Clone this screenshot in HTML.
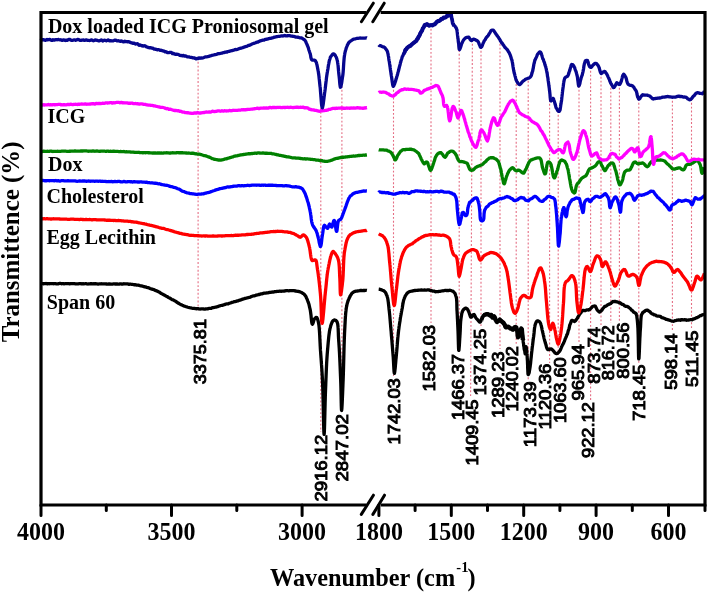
<!DOCTYPE html>
<html><head><meta charset="utf-8"><style>
html,body{margin:0;padding:0;background:#fff;}
svg{display:block;filter:blur(0.35px);}
.cv{fill:none;stroke-width:3.3;stroke-linejoin:round;stroke-linecap:butt;}
.dt{stroke:#dc3c5a;stroke-width:1.1;stroke-dasharray:1.9 1.95;opacity:0.75;}
.ax{fill:none;stroke:#000;stroke-width:3.2;stroke-linejoin:miter;}
.tk{fill:none;stroke:#000;stroke-width:3;stroke-linecap:round;}
.tl{font:bold 24px "Liberation Serif",serif;text-anchor:middle;fill:#000;}
.cl{font:bold 20px "Liberation Serif",serif;fill:#000;}
.pl{font:16.6px "Liberation Sans",sans-serif;fill:#000;stroke:#000;stroke-width:0.95;}
.at{font:bold 24px "Liberation Serif",serif;fill:#000;}
</style></head><body>
<svg width="708" height="593" viewBox="0 0 708 593">
<line x1="198.1" y1="58" x2="198.1" y2="312" class="dt"/>
<line x1="320.8" y1="108" x2="320.8" y2="432" class="dt"/>
<line x1="341.9" y1="86" x2="341.9" y2="412" class="dt"/>
<line x1="393.5" y1="86" x2="393.5" y2="376" class="dt"/>
<line x1="431.0" y1="25" x2="431.0" y2="323" class="dt"/>
<line x1="459.2" y1="50" x2="459.2" y2="352" class="dt"/>
<line x1="472.4" y1="40" x2="470.59999999999997" y2="398" class="dt"/>
<line x1="481.0" y1="47" x2="481.0" y2="327" class="dt"/>
<line x1="500.0" y1="40" x2="500.0" y2="349" class="dt"/>
<line x1="516.2" y1="84" x2="516.2" y2="344" class="dt"/>
<line x1="528.2" y1="77" x2="528.2" y2="380" class="dt"/>
<line x1="549.6" y1="100" x2="549.6" y2="363" class="dt"/>
<line x1="558.2" y1="111" x2="558.2" y2="355" class="dt"/>
<line x1="579.0" y1="86" x2="579.0" y2="342" class="dt"/>
<line x1="590.6" y1="67" x2="590.6" y2="400" class="dt"/>
<line x1="601.0" y1="73" x2="601.0" y2="325" class="dt"/>
<line x1="610.8" y1="84" x2="610.8" y2="323" class="dt"/>
<line x1="619.4" y1="84" x2="619.4" y2="321" class="dt"/>
<line x1="638.8" y1="99" x2="638.8" y2="363" class="dt"/>
<line x1="672.4" y1="97" x2="672.4" y2="331" class="dt"/>
<line x1="691.5" y1="99" x2="691.5" y2="329" class="dt"/>
<path d="M41.00,283.64 L41.41,283.60 L41.85,283.61 L42.31,283.53 L42.79,283.64 L43.30,283.77 L43.82,283.73 L44.37,283.55 L44.93,283.56 L45.52,283.57 L46.12,283.51 L46.75,283.71 L47.39,283.87 L48.05,283.59 L48.72,283.65 L49.42,283.74 L50.12,283.62 L50.85,283.55 L51.59,283.65 L52.34,283.67 L53.11,283.70 L53.89,283.74 L54.69,283.58 L55.49,283.67 L56.31,283.86 L57.14,283.90 L57.99,283.79 L58.84,283.56 L59.70,283.43 L60.57,283.47 L61.45,283.74 L62.34,283.71 L63.24,283.61 L64.15,283.78 L65.06,283.72 L65.98,283.67 L66.90,283.69 L67.83,283.56 L68.77,283.65 L69.71,283.83 L70.65,283.68 L71.60,283.57 L72.55,283.64 L73.50,283.57 L74.45,283.64 L75.41,283.83 L76.36,283.85 L77.32,283.79 L78.28,283.86 L79.23,283.72 L80.19,283.71 L81.14,283.74 L82.10,283.78 L83.04,283.68 L83.99,283.79 L84.93,283.72 L85.87,283.61 L86.80,283.82 L87.73,284.00 L88.66,283.88 L89.57,283.78 L90.48,283.73 L91.39,283.71 L92.28,283.83 L93.17,283.77 L94.05,283.67 L94.92,283.77 L95.78,283.75 L96.62,283.85 L97.46,284.00 L98.29,284.03 L99.11,283.94 L99.91,283.85 L100.70,283.86 L101.48,283.76 L102.24,283.89 L102.99,283.93 L103.73,283.86 L104.45,283.79 L105.15,283.86 L105.84,283.99 L106.51,283.96 L107.16,284.08 L107.80,284.13 L108.77,283.97 L109.72,283.98 L110.66,284.16 L111.59,284.12 L112.50,284.07 L113.40,283.92 L114.28,283.94 L115.15,284.01 L116.01,283.98 L116.86,283.97 L117.70,284.02 L118.53,284.03 L119.35,284.00 L120.15,283.89 L120.95,283.90 L121.74,284.12 L122.52,284.06 L123.30,283.83 L124.06,283.75 L124.82,283.92 L125.58,283.89 L126.32,283.82 L127.07,283.86 L127.80,283.99 L128.54,284.25 L129.26,284.25 L129.99,284.18 L130.71,284.22 L131.43,284.29 L132.15,284.35 L132.86,284.49 L133.57,284.68 L134.29,284.74 L135.00,284.72 L135.86,284.86 L136.72,285.11 L137.55,285.08 L138.38,285.10 L139.20,285.38 L140.00,285.63 L140.80,285.80 L141.59,285.95 L142.37,286.19 L143.15,286.32 L143.92,286.54 L144.68,286.86 L145.44,286.94 L146.20,287.18 L146.96,287.44 L147.71,287.70 L148.46,287.72 L149.21,288.06 L149.97,288.45 L150.72,288.74 L151.48,289.06 L152.24,289.14 L153.00,289.41 L153.74,289.62 L154.48,289.96 L155.21,290.47 L155.95,290.65 L156.69,290.90 L157.43,291.20 L158.17,291.55 L158.91,291.95 L159.65,292.31 L160.38,292.95 L161.12,293.49 L161.85,293.74 L162.58,294.14 L163.30,294.59 L164.03,294.94 L164.75,295.28 L165.46,295.74 L166.17,296.16 L166.88,296.45 L167.58,296.82 L168.27,297.31 L168.97,297.75 L169.65,298.01 L170.33,298.41 L171.00,298.93 L171.76,299.40 L172.51,299.75 L173.24,299.96 L173.97,300.38 L174.69,300.78 L175.40,301.14 L176.10,301.62 L176.80,302.15 L177.49,302.70 L178.19,303.14 L178.88,303.41 L179.58,303.87 L180.27,304.28 L180.98,304.61 L181.68,304.89 L182.40,305.24 L183.12,305.56 L183.86,305.96 L184.60,306.24 L185.38,306.45 L186.18,306.70 L187.00,306.94 L187.82,307.22 L188.65,307.48 L189.49,307.70 L190.34,307.77 L191.18,307.97 L192.02,308.24 L192.87,308.42 L193.70,308.47 L194.53,308.34 L195.35,308.54 L196.15,308.79 L196.94,308.62 L197.71,308.63 L198.47,308.75 L199.20,308.94 L200.10,309.04 L200.96,308.96 L201.78,308.90 L202.57,308.89 L203.35,308.86 L204.13,309.03 L204.92,309.16 L205.73,308.92 L206.58,308.85 L207.46,308.91 L208.40,308.60 L209.08,308.46 L209.77,308.38 L210.49,308.38 L211.23,308.31 L211.98,307.87 L212.75,307.58 L213.53,307.63 L214.32,307.49 L215.13,307.22 L215.94,307.08 L216.76,306.91 L217.59,306.74 L218.43,306.36 L219.26,305.92 L220.10,305.82 L220.94,305.52 L221.78,305.31 L222.61,305.27 L223.45,304.95 L224.27,304.69 L225.09,304.37 L225.90,304.05 L226.70,303.96 L227.47,303.92 L228.24,303.79 L229.00,303.31 L229.77,303.16 L230.54,302.99 L231.30,302.63 L232.07,302.38 L232.84,302.22 L233.60,301.95 L234.37,301.61 L235.14,301.55 L235.90,301.41 L236.67,301.11 L237.44,300.89 L238.20,300.76 L238.97,300.33 L239.73,300.13 L240.50,300.02 L241.27,299.65 L242.03,299.39 L242.80,299.17 L243.57,298.84 L244.33,298.64 L245.10,298.38 L245.90,298.33 L246.69,298.03 L247.48,297.78 L248.28,297.62 L249.07,297.49 L249.87,297.28 L250.66,296.88 L251.45,296.56 L252.25,296.23 L253.04,295.93 L253.83,295.78 L254.63,295.79 L255.42,295.42 L256.22,295.06 L257.01,295.01 L257.81,294.80 L258.60,294.49 L259.40,294.48 L260.20,294.16 L261.00,293.96 L261.80,293.84 L262.60,293.60 L263.40,293.38 L264.20,293.18 L265.00,293.10 L265.80,293.10 L266.61,292.94 L267.42,292.84 L268.23,292.80 L269.04,292.48 L269.86,292.43 L270.67,292.36 L271.49,292.14 L272.30,292.02 L273.11,292.05 L273.92,291.88 L274.73,291.59 L275.54,291.70 L276.34,291.54 L277.13,291.29 L277.93,291.39 L278.71,291.32 L279.50,291.17 L280.27,291.21 L281.04,291.30 L281.80,291.13 L282.66,291.13 L283.53,291.10 L284.40,290.99 L285.28,290.91 L286.15,290.69 L287.02,290.59 L287.88,290.73 L288.74,290.81 L289.59,290.61 L290.43,290.65 L291.25,290.70 L292.06,290.71 L292.85,290.71 L293.63,290.66 L294.38,290.72 L295.11,291.01 L295.82,290.99 L296.50,291.15 L297.46,291.37 L298.38,291.37 L299.28,291.72 L300.14,291.89 L300.96,292.27 L301.74,292.61 L302.47,293.07 L303.16,293.56 L303.80,293.90 L304.36,294.45 L304.87,295.21 L305.33,295.69 L305.74,296.24 L306.12,297.00 L306.48,297.95 L306.82,298.67 L307.16,299.36 L307.50,300.28 L307.78,301.03 L308.04,301.68 L308.28,302.41 L308.52,303.02 L308.75,303.67 L308.96,304.44 L309.17,305.24 L309.37,306.26 L309.56,307.27 L309.75,307.88 L309.94,308.61 L310.12,309.39 L310.30,310.28 L310.45,311.24 L310.59,312.16 L310.73,313.21 L310.85,314.18 L310.97,315.02 L311.08,316.10 L311.18,317.27 L311.29,318.32 L311.39,319.24 L311.50,320.34 L311.61,321.33 L311.72,322.19 L311.84,322.85 L311.96,323.29 L312.10,323.74 L312.24,324.04 L312.40,324.22 L312.69,323.92 L312.99,323.09 L313.31,322.17 L313.65,320.99 L314.01,319.83 L314.40,319.01 L315.05,318.24 L315.75,317.60 L316.40,317.35 L316.79,317.55 L317.16,318.09 L317.50,318.96 L317.81,319.90 L318.11,320.99 L318.40,322.27 L318.51,322.78 L318.61,323.28 L318.71,323.85 L318.80,324.42 L318.88,324.93 L318.97,325.56 L319.05,326.38 L319.12,327.08 L319.19,327.90 L319.26,328.60 L319.32,329.38 L319.38,330.08 L319.44,330.84 L319.50,331.88 L319.55,332.65 L319.60,333.52 L319.65,334.31 L319.70,335.26 L319.75,336.23 L319.79,337.24 L319.84,338.22 L319.88,339.11 L319.93,339.89 L319.97,340.83 L320.01,341.66 L320.06,342.58 L320.10,343.54 L320.15,344.45 L320.19,345.32 L320.24,346.16 L320.29,347.12 L320.34,348.10 L320.39,348.97 L320.44,349.92 L320.50,350.71 L320.56,351.31 L320.61,352.17 L320.67,352.97 L320.73,353.88 L320.78,354.55 L320.84,355.28 L320.90,356.19 L320.96,357.10 L321.01,357.81 L321.07,358.46 L321.13,359.33 L321.19,360.19 L321.24,361.01 L321.30,361.76 L321.36,362.33 L321.41,363.25 L321.47,364.19 L321.53,364.82 L321.58,365.59 L321.64,366.48 L321.69,367.34 L321.75,368.10 L321.80,368.69 L321.85,369.37 L321.91,370.28 L321.96,371.19 L322.01,372.00 L322.06,372.95 L322.12,373.89 L322.17,374.64 L322.22,375.53 L322.27,376.31 L322.31,377.32 L322.36,378.16 L322.41,378.90 L322.45,379.87 L322.50,380.99 L322.53,381.71 L322.57,382.43 L322.60,383.25 L322.63,383.95 L322.66,384.86 L322.69,385.83 L322.72,386.57 L322.75,387.44 L322.78,388.43 L322.81,389.31 L322.84,390.07 L322.86,391.11 L322.89,392.14 L322.92,393.23 L322.95,394.13 L322.97,394.97 L323.00,396.02 L323.02,397.10 L323.05,398.22 L323.07,399.28 L323.10,400.35 L323.12,401.53 L323.15,402.53 L323.17,403.63 L323.20,404.74 L323.22,405.69 L323.24,406.90 L323.27,408.06 L323.29,409.19 L323.31,410.34 L323.33,411.17 L323.36,412.26 L323.38,413.36 L323.40,414.47 L323.42,415.35 L323.44,416.42 L323.47,417.44 L323.49,418.24 L323.51,419.24 L323.53,420.39 L323.55,421.15 L323.57,421.99 L323.59,422.84 L323.61,423.62 L323.64,424.69 L323.66,425.58 L323.68,426.31 L323.70,427.17 L323.72,427.71 L323.74,428.50 L323.76,429.27 L323.79,429.89 L323.81,430.49 L323.83,430.92 L323.85,431.24 L323.87,431.94 L323.89,432.47 L323.92,432.82 L323.94,433.19 L323.96,433.38 L323.98,433.68 L324.01,433.91 L324.03,433.98 L324.05,434.14 L324.08,434.26 L324.10,434.23 L324.13,434.31 L324.15,434.36 L324.18,434.15 L324.20,433.72 L324.23,433.50 L324.25,433.33 L324.28,433.05 L324.30,432.53 L324.33,431.96 L324.35,431.49 L324.38,430.92 L324.40,430.49 L324.42,429.77 L324.45,429.12 L324.47,428.62 L324.50,427.70 L324.52,426.82 L324.54,426.31 L324.57,425.45 L324.59,424.60 L324.62,423.59 L324.64,422.68 L324.66,421.71 L324.69,420.74 L324.71,419.75 L324.74,418.92 L324.76,417.99 L324.78,416.90 L324.81,415.88 L324.83,414.93 L324.86,413.81 L324.88,412.64 L324.91,411.52 L324.93,410.62 L324.96,409.68 L324.98,408.48 L325.01,407.41 L325.04,406.54 L325.06,405.42 L325.09,404.35 L325.12,403.23 L325.14,402.17 L325.17,401.25 L325.20,400.25 L325.23,399.20 L325.26,398.10 L325.29,397.00 L325.31,396.13 L325.34,395.35 L325.37,394.38 L325.41,393.53 L325.44,392.67 L325.47,391.67 L325.50,390.94 L325.53,390.21 L325.57,389.31 L325.60,388.40 L325.63,387.78 L325.66,386.98 L325.70,386.11 L325.73,385.09 L325.76,384.32 L325.79,383.45 L325.82,382.59 L325.86,381.79 L325.89,380.93 L325.92,380.20 L325.95,379.26 L325.98,378.53 L326.02,377.80 L326.05,376.83 L326.08,376.03 L326.11,375.17 L326.15,374.38 L326.18,373.48 L326.22,372.71 L326.25,371.90 L326.29,370.99 L326.32,370.25 L326.36,369.40 L326.39,368.37 L326.43,367.58 L326.47,366.70 L326.51,365.85 L326.55,365.18 L326.59,364.27 L326.63,363.43 L326.67,362.62 L326.72,361.84 L326.76,361.03 L326.81,360.34 L326.85,359.69 L326.90,358.83 L326.95,358.06 L327.00,357.35 L327.05,356.61 L327.10,355.86 L327.15,355.07 L327.21,354.32 L327.26,353.60 L327.32,352.80 L327.38,352.12 L327.44,351.27 L327.50,350.60 L327.58,349.77 L327.66,348.80 L327.74,347.88 L327.82,347.07 L327.90,346.17 L327.98,345.19 L328.06,344.31 L328.14,343.43 L328.22,342.35 L328.31,341.49 L328.39,340.71 L328.48,339.73 L328.57,338.89 L328.66,337.87 L328.75,337.04 L328.85,336.15 L328.95,335.26 L329.05,334.50 L329.16,333.70 L329.26,332.92 L329.38,332.05 L329.49,331.21 L329.62,330.68 L329.74,329.97 L329.87,329.20 L330.01,328.67 L330.15,328.14 L330.29,327.49 L330.44,326.95 L330.60,326.32 L330.92,325.34 L331.24,324.36 L331.58,323.41 L331.94,322.56 L332.31,321.75 L332.71,321.15 L333.14,320.66 L333.60,320.24 L334.59,319.95 L335.66,320.32 L336.60,321.21 L336.83,321.42 L337.04,321.88 L337.23,322.41 L337.40,322.92 L337.54,323.40 L337.67,323.96 L337.79,324.82 L337.88,325.55 L337.97,326.22 L338.04,327.22 L338.11,327.97 L338.16,328.88 L338.21,329.95 L338.25,330.92 L338.29,331.82 L338.32,332.55 L338.36,333.52 L338.39,334.71 L338.43,335.65 L338.47,336.59 L338.52,337.66 L338.57,338.64 L338.63,339.51 L338.70,340.50 L338.75,341.17 L338.80,341.79 L338.85,342.38 L338.90,343.09 L338.95,344.07 L339.00,344.74 L339.05,345.36 L339.10,346.31 L339.15,346.94 L339.19,347.58 L339.24,348.43 L339.29,349.27 L339.33,350.07 L339.38,350.83 L339.42,351.58 L339.47,352.50 L339.51,353.29 L339.55,354.00 L339.59,355.03 L339.64,356.03 L339.68,356.76 L339.72,357.68 L339.76,358.43 L339.80,359.36 L339.84,360.30 L339.88,361.12 L339.92,361.79 L339.96,362.75 L339.99,363.57 L340.03,364.43 L340.07,365.37 L340.11,366.09 L340.14,366.92 L340.18,368.01 L340.21,368.94 L340.25,369.62 L340.28,370.58 L340.32,371.29 L340.35,372.12 L340.38,373.11 L340.42,373.98 L340.45,374.75 L340.48,375.55 L340.52,376.22 L340.55,377.08 L340.58,377.95 L340.61,378.68 L340.64,379.33 L340.67,380.15 L340.70,380.80 L340.73,381.71 L340.77,382.79 L340.80,383.69 L340.83,384.70 L340.86,385.61 L340.89,386.63 L340.91,387.79 L340.94,389.00 L340.96,390.06 L340.99,391.21 L341.01,392.21 L341.03,393.35 L341.05,394.45 L341.08,395.44 L341.10,396.40 L341.12,397.60 L341.14,398.76 L341.16,399.65 L341.18,400.54 L341.20,401.48 L341.22,402.43 L341.24,403.27 L341.26,404.31 L341.28,405.16 L341.30,405.77 L341.33,406.60 L341.35,407.22 L341.37,407.95 L341.40,408.38 L341.42,408.87 L341.45,409.43 L341.48,409.72 L341.51,409.90 L341.54,410.29 L341.57,410.46 L341.60,410.48 L341.63,410.30 L341.67,410.02 L341.70,410.06 L341.74,409.74 L341.78,409.21 L341.82,408.99 L341.86,408.58 L341.90,407.83 L341.94,407.28 L341.98,406.72 L342.02,406.12 L342.06,405.34 L342.11,404.34 L342.15,403.55 L342.19,402.81 L342.24,401.97 L342.28,400.85 L342.33,399.82 L342.37,398.70 L342.42,397.84 L342.46,396.73 L342.51,395.65 L342.55,394.73 L342.60,393.57 L342.64,392.55 L342.68,391.38 L342.73,390.22 L342.77,389.24 L342.81,387.96 L342.86,386.97 L342.90,386.07 L342.94,384.82 L342.98,383.82 L343.02,382.79 L343.06,381.71 L343.10,380.84 L343.13,380.26 L343.16,379.49 L343.18,378.69 L343.21,377.91 L343.24,377.25 L343.26,376.57 L343.29,375.89 L343.31,375.17 L343.34,374.13 L343.36,373.22 L343.39,372.45 L343.41,371.68 L343.44,371.04 L343.46,370.24 L343.48,369.44 L343.51,368.69 L343.53,367.74 L343.55,366.69 L343.57,365.84 L343.60,365.15 L343.62,364.37 L343.64,363.39 L343.66,362.62 L343.68,361.65 L343.71,360.68 L343.73,359.95 L343.75,359.18 L343.77,358.42 L343.79,357.46 L343.81,356.61 L343.84,355.72 L343.86,354.74 L343.88,354.03 L343.90,353.16 L343.93,352.26 L343.95,351.32 L343.97,350.55 L343.99,349.69 L344.02,348.63 L344.04,347.70 L344.07,346.94 L344.09,346.18 L344.11,345.26 L344.14,344.59 L344.16,343.82 L344.19,343.06 L344.22,342.24 L344.24,341.42 L344.27,340.46 L344.30,339.51 L344.32,338.75 L344.35,338.07 L344.38,337.23 L344.41,336.67 L344.44,335.91 L344.47,335.19 L344.50,334.34 L344.53,333.72 L344.56,333.02 L344.60,332.28 L344.63,331.66 L344.67,331.01 L344.70,330.26 L344.75,329.23 L344.80,328.32 L344.85,327.46 L344.90,326.39 L344.94,325.43 L344.99,324.51 L345.03,323.81 L345.08,323.03 L345.12,322.16 L345.17,321.26 L345.22,320.18 L345.26,319.29 L345.31,318.67 L345.36,317.83 L345.42,316.89 L345.47,316.01 L345.53,315.41 L345.59,314.54 L345.65,313.69 L345.72,312.98 L345.79,312.33 L345.86,311.76 L345.94,311.06 L346.02,310.40 L346.10,309.57 L346.19,308.91 L346.29,308.35 L346.39,307.52 L346.50,306.93 L346.68,306.18 L346.87,305.09 L347.06,304.13 L347.26,303.46 L347.47,302.77 L347.69,302.02 L347.92,301.39 L348.16,300.60 L348.43,299.89 L348.70,299.23 L349.00,298.61 L349.38,297.68 L349.77,296.90 L350.18,296.14 L350.61,295.27 L351.08,294.54 L351.57,293.79 L352.11,293.00 L352.70,292.60 L353.46,292.05 L354.27,291.56 L355.14,291.36 L356.05,291.17 L357.01,291.12 L358.00,290.87 L358.75,290.81 L359.59,290.69 L360.49,290.47 L361.43,290.48 L362.38,290.57 L363.32,290.47 L364.22,290.49 L365.05,290.50 L365.79,290.35 L366.42,290.28 L366.90,290.38" stroke="#000" class="cv"/>
<path d="M378.70,289.10 L379.21,289.17 L379.92,289.43 L380.76,289.60 L381.67,289.86 L382.58,290.41 L383.41,290.60 L384.10,290.93 L384.67,291.66 L385.18,292.13 L385.63,292.68 L386.04,293.67 L386.41,294.67 L386.76,295.33 L387.10,296.04 L387.31,296.93 L387.49,297.55 L387.66,298.20 L387.82,299.01 L387.96,299.79 L388.09,300.70 L388.21,301.61 L388.32,302.37 L388.42,303.22 L388.52,304.13 L388.62,304.97 L388.71,305.76 L388.80,306.56 L388.90,307.45 L388.99,308.63 L389.09,309.64 L389.20,310.31 L389.29,311.19 L389.37,311.90 L389.45,312.66 L389.53,313.44 L389.61,314.10 L389.69,314.82 L389.77,315.73 L389.85,316.57 L389.92,317.42 L389.99,318.31 L390.07,319.20 L390.14,320.07 L390.21,320.83 L390.28,321.74 L390.35,322.50 L390.42,323.38 L390.50,324.29 L390.57,325.13 L390.63,325.73 L390.70,326.58 L390.77,327.53 L390.84,328.21 L390.91,329.06 L390.99,330.04 L391.06,330.74 L391.13,331.46 L391.20,332.51 L391.27,333.38 L391.34,334.35 L391.41,335.25 L391.48,336.02 L391.55,336.83 L391.62,337.44 L391.69,338.31 L391.76,339.04 L391.83,339.74 L391.90,340.67 L391.97,341.52 L392.03,342.25 L392.10,343.21 L392.17,344.32 L392.24,344.95 L392.31,345.63 L392.38,346.74 L392.45,347.59 L392.51,348.30 L392.58,349.08 L392.65,350.03 L392.71,350.81 L392.78,351.50 L392.84,352.26 L392.90,353.19 L392.96,353.79 L393.02,354.53 L393.08,355.46 L393.14,356.02 L393.20,356.72 L393.27,357.72 L393.33,358.81 L393.40,359.86 L393.46,360.87 L393.51,361.87 L393.57,362.95 L393.62,364.24 L393.68,365.13 L393.73,365.97 L393.79,367.00 L393.84,367.95 L393.90,368.87 L393.95,369.80 L394.01,370.76 L394.07,371.62 L394.13,371.92 L394.19,372.34 L394.26,372.71 L394.33,373.11 L394.40,373.37 L394.48,373.22 L394.56,372.69 L394.64,372.35 L394.72,371.97 L394.81,371.42 L394.89,370.66 L394.98,369.75 L395.07,369.07 L395.17,368.38 L395.26,367.29 L395.35,366.18 L395.45,365.03 L395.54,364.06 L395.64,363.19 L395.73,362.06 L395.83,360.77 L395.92,359.62 L396.01,358.86 L396.11,358.00 L396.20,356.86 L396.27,356.14 L396.34,355.34 L396.41,354.67 L396.48,353.83 L396.54,353.04 L396.61,352.40 L396.68,351.66 L396.74,350.81 L396.81,350.10 L396.88,349.23 L396.94,348.51 L397.01,347.84 L397.07,346.94 L397.14,346.19 L397.21,345.19 L397.28,344.45 L397.34,343.46 L397.41,342.59 L397.48,341.74 L397.55,340.79 L397.63,340.00 L397.70,339.24 L397.77,338.30 L397.85,337.49 L397.92,336.97 L398.00,336.27 L398.08,335.38 L398.16,334.66 L398.25,333.77 L398.33,332.97 L398.42,332.31 L398.51,331.45 L398.60,330.60 L398.71,329.61 L398.82,328.95 L398.93,328.07 L399.05,327.02 L399.17,326.15 L399.29,325.51 L399.41,324.62 L399.53,323.80 L399.66,323.04 L399.78,322.31 L399.91,321.51 L400.04,320.71 L400.17,319.66 L400.30,318.61 L400.43,317.76 L400.57,317.02 L400.70,316.23 L400.84,315.44 L400.97,314.88 L401.11,314.15 L401.25,313.26 L401.39,312.55 L401.52,311.76 L401.66,311.01 L401.80,310.33 L401.96,309.34 L402.12,308.70 L402.27,308.02 L402.42,306.94 L402.56,306.04 L402.71,305.02 L402.85,304.16 L403.00,303.48 L403.16,302.65 L403.32,301.70 L403.49,300.98 L403.67,300.22 L403.87,299.57 L404.08,298.99 L404.30,298.29 L404.54,297.74 L404.80,297.19 L405.24,296.03 L405.70,295.35 L406.17,294.67 L406.69,293.85 L407.26,293.16 L407.89,292.70 L408.60,292.10 L409.23,291.78 L409.91,291.49 L410.63,291.27 L411.40,291.15 L412.20,291.00 L413.03,290.89 L413.88,290.62 L414.75,290.47 L415.62,290.48 L416.50,290.41 L417.23,290.33 L418.00,290.24 L418.79,290.15 L419.60,290.15 L420.43,290.01 L421.27,289.87 L422.12,290.10 L422.97,290.17 L423.81,290.14 L424.65,289.99 L425.48,290.08 L426.30,290.06 L427.09,289.99 L427.86,289.87 L428.60,289.88 L429.48,290.18 L430.33,290.48 L431.15,290.53 L431.96,290.82 L432.75,291.10 L433.54,291.05 L434.32,291.17 L435.11,291.65 L435.90,291.77 L436.70,291.53 L437.51,291.63 L438.32,291.60 L439.13,291.31 L439.94,291.39 L440.75,291.23 L441.56,291.02 L442.37,290.80 L443.18,290.77 L443.99,290.69 L444.80,290.47 L445.63,290.35 L446.50,290.51 L447.38,290.52 L448.27,290.54 L449.15,290.33 L450.01,290.26 L450.82,290.49 L451.59,290.80 L452.29,291.01 L452.90,291.15 L453.55,291.72 L454.10,292.35 L454.58,292.82 L454.99,293.48 L455.36,294.38 L455.69,295.46 L456.00,296.37 L456.18,296.83 L456.33,297.54 L456.45,298.11 L456.55,298.88 L456.64,299.79 L456.70,300.66 L456.75,301.58 L456.78,302.17 L456.81,303.05 L456.83,304.02 L456.84,304.81 L456.86,305.75 L456.87,306.64 L456.89,307.48 L456.92,308.64 L456.95,309.62 L457.00,310.28 L457.04,310.99 L457.09,311.70 L457.13,312.51 L457.17,313.35 L457.22,314.02 L457.26,314.74 L457.30,315.68 L457.34,316.77 L457.38,317.46 L457.42,318.33 L457.46,319.01 L457.51,319.90 L457.55,320.64 L457.58,321.51 L457.62,322.28 L457.66,323.26 L457.70,324.27 L457.74,324.86 L457.78,325.80 L457.82,326.70 L457.85,327.22 L457.89,328.19 L457.93,329.04 L457.96,329.75 L458.00,330.56 L458.04,331.36 L458.07,332.48 L458.11,333.54 L458.14,334.53 L458.17,335.61 L458.20,336.51 L458.23,337.63 L458.26,338.86 L458.29,339.83 L458.32,340.94 L458.35,342.06 L458.38,343.20 L458.41,344.15 L458.44,344.99 L458.47,345.97 L458.50,346.94 L458.53,347.74 L458.56,348.33 L458.60,348.96 L458.64,349.66 L458.67,350.08 L458.71,350.36 L458.76,350.37 L458.80,350.41 L458.85,350.42 L458.91,350.10 L458.97,349.75 L459.03,349.12 L459.09,348.38 L459.15,347.72 L459.22,347.09 L459.28,346.30 L459.35,345.12 L459.42,344.16 L459.49,343.24 L459.55,341.96 L459.62,340.72 L459.69,339.56 L459.75,338.40 L459.82,337.55 L459.88,336.54 L459.94,335.42 L460.00,334.72 L460.05,334.04 L460.10,333.03 L460.14,332.25 L460.18,331.57 L460.22,330.63 L460.25,329.79 L460.28,328.83 L460.32,328.03 L460.35,327.28 L460.38,326.44 L460.42,325.51 L460.46,324.53 L460.50,323.85 L460.55,323.16 L460.61,322.18 L460.67,321.43 L460.74,320.70 L460.82,319.98 L460.90,319.31 L461.00,318.63 L461.14,317.57 L461.28,316.75 L461.42,315.84 L461.57,314.81 L461.74,313.83 L461.92,312.99 L462.13,312.46 L462.38,311.67 L462.67,310.89 L463.00,310.24 L463.69,309.42 L464.50,308.68 L465.34,308.24 L466.10,308.22 L466.76,308.60 L467.37,309.12 L467.95,310.00 L468.50,311.18 L468.85,311.93 L469.17,312.87 L469.47,313.89 L469.75,314.73 L470.03,315.55 L470.33,316.33 L470.65,317.15 L471.00,317.14 L471.58,316.89 L472.19,316.37 L472.83,315.03 L473.50,314.63 L474.02,314.51 L474.57,315.07 L475.14,316.33 L475.72,317.56 L476.30,318.48 L476.86,318.96 L477.40,319.44 L477.99,320.19 L478.57,320.97 L479.14,321.61 L479.69,322.22 L480.20,322.15 L480.56,321.59 L480.86,321.11 L481.14,320.26 L481.40,319.19 L481.68,318.75 L481.99,317.67 L482.35,316.81 L482.80,316.32 L483.54,315.31 L484.39,314.92 L485.31,314.55 L486.23,314.13 L487.10,314.44 L488.03,314.23 L488.96,314.64 L489.84,315.47 L490.60,314.85 L491.29,314.97 L491.82,316.33 L492.40,317.52 L493.24,317.41 L494.10,316.44 L494.52,317.10 L494.91,317.66 L495.30,319.15 L495.69,319.90 L496.10,320.39 L496.53,321.41 L497.00,321.93 L497.65,321.45 L498.34,320.96 L499.06,320.48 L499.80,319.63 L500.49,320.59 L501.22,321.02 L501.97,321.63 L502.71,322.37 L503.40,322.77 L504.00,323.66 L504.59,324.51 L505.08,325.70 L505.55,327.01 L506.10,327.38 L507.14,326.97 L508.20,326.61 L508.78,327.39 L509.31,327.57 L509.83,327.81 L510.40,328.48 L511.34,328.74 L512.30,329.38 L513.04,329.59 L513.77,328.69 L514.50,327.28 L515.44,326.97 L516.30,327.62 L516.57,328.64 L516.81,329.40 L517.01,329.51 L517.19,329.75 L517.35,331.26 L517.50,332.61 L517.63,334.30 L517.75,335.86 L517.88,336.59 L518.01,337.24 L518.15,336.63 L518.30,336.64 L518.51,336.13 L518.71,335.36 L518.91,335.56 L519.10,335.00 L519.31,333.45 L519.54,332.59 L519.80,331.82 L520.29,330.42 L520.82,329.69 L521.30,328.49 L521.48,328.81 L521.63,329.30 L521.77,329.08 L521.89,330.05 L522.00,331.60 L522.11,332.81 L522.20,333.81 L522.29,334.63 L522.39,335.10 L522.48,335.94 L522.59,337.43 L522.70,338.03 L522.82,339.36 L522.95,339.83 L523.07,339.98 L523.20,341.73 L523.33,342.91 L523.45,343.18 L523.58,344.08 L523.71,345.93 L523.83,346.10 L523.96,346.68 L524.08,348.05 L524.20,349.12 L524.37,349.86 L524.54,350.24 L524.71,350.82 L524.87,351.91 L525.04,353.17 L525.20,353.95 L525.35,353.25 L525.50,352.57 L525.64,351.68 L525.79,349.35 L525.93,347.44 L526.07,346.63 L526.20,347.39 L526.29,347.33 L526.39,348.24 L526.48,348.70 L526.57,348.34 L526.65,349.39 L526.74,351.14 L526.82,352.25 L526.91,353.46 L526.99,354.03 L527.07,355.20 L527.15,356.07 L527.22,357.83 L527.30,359.40 L527.36,359.64 L527.41,360.80 L527.45,360.86 L527.49,361.84 L527.53,363.25 L527.57,364.13 L527.61,364.84 L527.64,366.12 L527.68,367.74 L527.71,369.00 L527.75,369.49 L527.79,369.55 L527.83,371.15 L527.88,371.95 L527.93,373.28 L527.99,373.97 L528.06,374.25 L528.13,374.09 L528.21,374.03 L528.30,374.66 L528.48,374.20 L528.69,373.62 L528.91,373.45 L529.14,372.75 L529.37,371.58 L529.59,369.87 L529.80,368.90 L529.91,368.13 L530.02,367.40 L530.12,366.74 L530.22,365.94 L530.32,365.09 L530.42,364.51 L530.51,363.71 L530.61,362.74 L530.70,361.84 L530.79,360.95 L530.88,359.99 L530.97,359.02 L531.06,358.23 L531.15,357.55 L531.24,356.80 L531.33,355.90 L531.42,354.78 L531.52,353.83 L531.61,353.04 L531.70,352.32 L531.80,351.31 L531.90,350.64 L532.00,349.75 L532.10,348.81 L532.20,347.91 L532.30,347.00 L532.40,346.25 L532.50,345.65 L532.60,344.77 L532.70,344.03 L532.80,343.18 L532.90,342.28 L533.00,341.33 L533.10,340.57 L533.20,339.82 L533.30,338.85 L533.40,338.15 L533.50,337.34 L533.60,336.78 L533.70,336.22 L533.80,335.16 L533.91,334.37 L534.01,333.48 L534.10,332.64 L534.18,331.63 L534.27,330.68 L534.35,329.76 L534.44,329.02 L534.53,328.16 L534.64,327.55 L534.75,326.99 L534.88,326.16 L535.03,325.45 L535.20,324.69 L535.40,324.04 L535.87,322.85 L536.40,321.79 L536.98,321.01 L537.60,320.80 L538.42,321.10 L539.31,321.55 L540.10,322.49 L540.39,323.03 L540.66,323.60 L540.90,324.45 L541.12,325.14 L541.32,325.92 L541.51,326.78 L541.69,327.61 L541.86,328.39 L542.04,329.34 L542.22,330.18 L542.40,330.91 L542.60,331.66 L542.79,332.63 L542.98,333.38 L543.16,334.15 L543.35,335.02 L543.53,335.76 L543.71,336.50 L543.89,337.52 L544.07,338.39 L544.26,339.06 L544.46,339.61 L544.66,340.59 L544.88,341.33 L545.10,341.93 L545.36,343.02 L545.62,343.76 L545.88,344.49 L546.14,345.54 L546.42,346.71 L546.71,347.63 L547.01,348.37 L547.35,349.01 L547.71,349.52 L548.10,349.56 L549.02,349.52 L550.04,349.11 L551.00,348.96 L551.69,349.12 L552.32,349.75 L552.95,350.44 L553.60,351.14 L554.31,352.02 L555.03,352.97 L555.76,353.49 L556.50,353.63 L557.26,353.39 L558.03,352.81 L558.79,352.14 L559.50,351.36 L559.91,350.71 L560.30,350.14 L560.68,349.18 L561.04,348.41 L561.39,347.52 L561.74,346.45 L562.09,345.95 L562.44,345.02 L562.80,344.56 L563.15,343.95 L563.50,343.31 L563.85,342.45 L564.20,341.65 L564.55,340.87 L564.90,339.75 L565.24,338.84 L565.57,338.18 L565.89,337.35 L566.20,336.83 L566.49,336.00 L566.78,334.97 L567.06,334.66 L567.33,334.27 L567.60,333.50 L567.85,332.42 L568.10,331.33 L568.34,330.57 L568.58,329.82 L568.80,329.49 L569.05,328.76 L569.27,327.69 L569.48,326.51 L569.68,325.31 L569.89,324.69 L570.12,324.24 L570.40,323.76 L570.82,322.53 L571.26,321.15 L571.76,320.30 L572.30,320.39 L573.00,320.56 L573.76,321.18 L574.50,321.59 L575.15,321.01 L575.78,320.45 L576.40,319.46 L577.00,318.68 L577.43,318.05 L577.84,317.08 L578.24,316.52 L578.64,315.93 L579.06,315.31 L579.50,314.26 L579.96,313.45 L580.43,313.30 L580.92,312.79 L581.42,311.85 L581.95,311.01 L582.50,310.39 L583.42,310.35 L584.40,310.65 L585.40,310.54 L586.25,310.08 L587.13,309.90 L587.99,309.98 L588.80,310.10 L589.43,309.54 L590.00,309.25 L590.55,308.70 L591.10,308.17 L591.70,307.43 L592.44,306.53 L593.22,306.24 L593.99,306.05 L594.70,306.01 L595.26,306.15 L595.76,307.08 L596.23,308.01 L596.70,308.94 L597.20,309.86 L597.80,310.51 L598.40,311.18 L599.03,311.84 L599.70,312.13 L600.25,311.63 L600.83,311.12 L601.43,310.63 L602.06,310.05 L602.69,308.81 L603.34,307.96 L604.00,307.30 L604.73,306.43 L605.46,306.28 L606.22,305.92 L606.99,305.37 L607.78,304.76 L608.60,304.36 L609.31,304.13 L610.05,303.79 L610.81,303.46 L611.58,302.69 L612.35,301.96 L613.12,301.52 L613.87,301.64 L614.60,301.43 L615.55,301.51 L616.48,301.86 L617.40,301.91 L618.30,302.41 L619.20,302.92 L619.96,302.73 L620.69,303.13 L621.42,303.92 L622.15,304.39 L622.91,304.40 L623.70,304.92 L624.42,305.77 L625.19,306.13 L625.98,306.41 L626.77,306.40 L627.57,306.63 L628.35,306.95 L629.10,307.77 L629.80,308.26 L630.46,308.77 L631.10,309.60 L631.73,310.23 L632.33,310.49 L632.90,311.17 L633.44,311.97 L633.94,312.20 L634.40,312.45 L635.16,313.10 L635.80,313.37 L636.05,313.63 L636.26,314.36 L636.46,314.83 L636.63,315.19 L636.78,315.83 L636.92,317.24 L637.04,318.25 L637.16,319.13 L637.27,319.94 L637.38,321.17 L637.49,322.24 L637.60,323.58 L637.66,324.38 L637.71,324.85 L637.76,325.68 L637.81,326.57 L637.86,327.44 L637.90,327.76 L637.94,328.46 L637.98,329.74 L638.02,330.83 L638.05,331.85 L638.08,332.83 L638.11,333.84 L638.14,334.61 L638.17,335.85 L638.19,337.07 L638.22,337.86 L638.24,338.87 L638.26,340.20 L638.28,341.47 L638.30,342.66 L638.32,343.61 L638.34,344.24 L638.36,345.29 L638.37,346.14 L638.39,347.02 L638.41,347.99 L638.42,349.37 L638.44,350.35 L638.46,351.09 L638.47,352.42 L638.49,353.10 L638.51,354.01 L638.53,354.74 L638.54,355.18 L638.56,356.18 L638.58,356.78 L638.61,357.44 L638.63,358.04 L638.65,358.13 L638.68,358.54 L638.71,358.93 L638.74,358.89 L638.77,358.78 L638.80,358.79 L638.84,358.71 L638.87,358.71 L638.91,358.41 L638.95,358.31 L638.98,358.32 L639.02,357.84 L639.06,356.85 L639.09,356.30 L639.13,355.61 L639.17,354.83 L639.20,354.39 L639.24,353.76 L639.28,352.75 L639.32,351.93 L639.36,350.75 L639.40,349.79 L639.44,348.81 L639.48,347.88 L639.52,346.84 L639.56,345.33 L639.60,344.66 L639.64,343.79 L639.69,342.47 L639.73,341.54 L639.78,340.10 L639.82,338.95 L639.87,338.11 L639.92,337.07 L639.97,336.31 L640.02,335.32 L640.07,334.42 L640.12,333.15 L640.17,331.82 L640.23,331.05 L640.28,330.42 L640.34,329.50 L640.40,328.70 L640.48,327.77 L640.54,327.14 L640.58,326.12 L640.63,325.04 L640.66,324.25 L640.69,323.56 L640.73,322.71 L640.76,321.74 L640.81,320.92 L640.86,320.05 L640.93,319.18 L641.01,318.13 L641.11,317.13 L641.24,316.25 L641.39,315.30 L641.56,314.80 L641.77,314.27 L642.02,313.93 L642.30,313.37 L642.91,312.35 L643.61,312.00 L644.39,311.53 L645.21,310.71 L646.06,310.26 L646.90,310.14 L647.57,310.22 L648.25,310.64 L648.96,311.21 L649.67,311.51 L650.40,312.23 L651.14,313.22 L651.89,313.74 L652.64,314.07 L653.40,314.22 L654.19,314.84 L654.99,314.86 L655.81,315.27 L656.64,315.98 L657.47,316.05 L658.30,316.05 L659.14,316.23 L659.97,316.45 L660.80,316.68 L661.64,317.55 L662.48,317.78 L663.33,317.96 L664.18,318.33 L665.03,318.55 L665.87,319.25 L666.70,319.39 L667.51,319.59 L668.30,319.82 L669.25,320.19 L670.15,320.44 L671.04,320.78 L671.93,321.05 L672.84,321.21 L673.80,321.29 L674.58,320.70 L675.37,320.72 L676.18,320.47 L677.01,320.12 L677.84,320.08 L678.69,319.82 L679.55,320.02 L680.42,320.24 L681.30,319.70 L682.12,319.66 L682.96,319.84 L683.83,319.91 L684.72,319.64 L685.60,319.83 L686.49,320.28 L687.37,320.04 L688.22,320.12 L689.05,319.84 L689.85,319.77 L690.60,319.59 L691.47,319.72 L692.29,319.80 L693.08,319.12 L693.84,318.79 L694.58,318.87 L695.33,318.19 L696.10,317.91 L696.92,317.59 L697.76,317.25 L698.60,316.83 L699.43,316.26 L700.23,315.72 L701.00,315.62 L701.70,315.12 L702.80,314.72 L703.81,314.56 L704.50,313.99" stroke="#000" class="cv"/>
<clipPath id="cb"><rect x="483" y="300" width="44" height="40"/></clipPath>
<path d="M378.70,289.10 L379.21,289.17 L379.92,289.43 L380.76,289.60 L381.67,289.86 L382.58,290.41 L383.41,290.60 L384.10,290.93 L384.67,291.66 L385.18,292.13 L385.63,292.68 L386.04,293.67 L386.41,294.67 L386.76,295.33 L387.10,296.04 L387.31,296.93 L387.49,297.55 L387.66,298.20 L387.82,299.01 L387.96,299.79 L388.09,300.70 L388.21,301.61 L388.32,302.37 L388.42,303.22 L388.52,304.13 L388.62,304.97 L388.71,305.76 L388.80,306.56 L388.90,307.45 L388.99,308.63 L389.09,309.64 L389.20,310.31 L389.29,311.19 L389.37,311.90 L389.45,312.66 L389.53,313.44 L389.61,314.10 L389.69,314.82 L389.77,315.73 L389.85,316.57 L389.92,317.42 L389.99,318.31 L390.07,319.20 L390.14,320.07 L390.21,320.83 L390.28,321.74 L390.35,322.50 L390.42,323.38 L390.50,324.29 L390.57,325.13 L390.63,325.73 L390.70,326.58 L390.77,327.53 L390.84,328.21 L390.91,329.06 L390.99,330.04 L391.06,330.74 L391.13,331.46 L391.20,332.51 L391.27,333.38 L391.34,334.35 L391.41,335.25 L391.48,336.02 L391.55,336.83 L391.62,337.44 L391.69,338.31 L391.76,339.04 L391.83,339.74 L391.90,340.67 L391.97,341.52 L392.03,342.25 L392.10,343.21 L392.17,344.32 L392.24,344.95 L392.31,345.63 L392.38,346.74 L392.45,347.59 L392.51,348.30 L392.58,349.08 L392.65,350.03 L392.71,350.81 L392.78,351.50 L392.84,352.26 L392.90,353.19 L392.96,353.79 L393.02,354.53 L393.08,355.46 L393.14,356.02 L393.20,356.72 L393.27,357.72 L393.33,358.81 L393.40,359.86 L393.46,360.87 L393.51,361.87 L393.57,362.95 L393.62,364.24 L393.68,365.13 L393.73,365.97 L393.79,367.00 L393.84,367.95 L393.90,368.87 L393.95,369.80 L394.01,370.76 L394.07,371.62 L394.13,371.92 L394.19,372.34 L394.26,372.71 L394.33,373.11 L394.40,373.37 L394.48,373.22 L394.56,372.69 L394.64,372.35 L394.72,371.97 L394.81,371.42 L394.89,370.66 L394.98,369.75 L395.07,369.07 L395.17,368.38 L395.26,367.29 L395.35,366.18 L395.45,365.03 L395.54,364.06 L395.64,363.19 L395.73,362.06 L395.83,360.77 L395.92,359.62 L396.01,358.86 L396.11,358.00 L396.20,356.86 L396.27,356.14 L396.34,355.34 L396.41,354.67 L396.48,353.83 L396.54,353.04 L396.61,352.40 L396.68,351.66 L396.74,350.81 L396.81,350.10 L396.88,349.23 L396.94,348.51 L397.01,347.84 L397.07,346.94 L397.14,346.19 L397.21,345.19 L397.28,344.45 L397.34,343.46 L397.41,342.59 L397.48,341.74 L397.55,340.79 L397.63,340.00 L397.70,339.24 L397.77,338.30 L397.85,337.49 L397.92,336.97 L398.00,336.27 L398.08,335.38 L398.16,334.66 L398.25,333.77 L398.33,332.97 L398.42,332.31 L398.51,331.45 L398.60,330.60 L398.71,329.61 L398.82,328.95 L398.93,328.07 L399.05,327.02 L399.17,326.15 L399.29,325.51 L399.41,324.62 L399.53,323.80 L399.66,323.04 L399.78,322.31 L399.91,321.51 L400.04,320.71 L400.17,319.66 L400.30,318.61 L400.43,317.76 L400.57,317.02 L400.70,316.23 L400.84,315.44 L400.97,314.88 L401.11,314.15 L401.25,313.26 L401.39,312.55 L401.52,311.76 L401.66,311.01 L401.80,310.33 L401.96,309.34 L402.12,308.70 L402.27,308.02 L402.42,306.94 L402.56,306.04 L402.71,305.02 L402.85,304.16 L403.00,303.48 L403.16,302.65 L403.32,301.70 L403.49,300.98 L403.67,300.22 L403.87,299.57 L404.08,298.99 L404.30,298.29 L404.54,297.74 L404.80,297.19 L405.24,296.03 L405.70,295.35 L406.17,294.67 L406.69,293.85 L407.26,293.16 L407.89,292.70 L408.60,292.10 L409.23,291.78 L409.91,291.49 L410.63,291.27 L411.40,291.15 L412.20,291.00 L413.03,290.89 L413.88,290.62 L414.75,290.47 L415.62,290.48 L416.50,290.41 L417.23,290.33 L418.00,290.24 L418.79,290.15 L419.60,290.15 L420.43,290.01 L421.27,289.87 L422.12,290.10 L422.97,290.17 L423.81,290.14 L424.65,289.99 L425.48,290.08 L426.30,290.06 L427.09,289.99 L427.86,289.87 L428.60,289.88 L429.48,290.18 L430.33,290.48 L431.15,290.53 L431.96,290.82 L432.75,291.10 L433.54,291.05 L434.32,291.17 L435.11,291.65 L435.90,291.77 L436.70,291.53 L437.51,291.63 L438.32,291.60 L439.13,291.31 L439.94,291.39 L440.75,291.23 L441.56,291.02 L442.37,290.80 L443.18,290.77 L443.99,290.69 L444.80,290.47 L445.63,290.35 L446.50,290.51 L447.38,290.52 L448.27,290.54 L449.15,290.33 L450.01,290.26 L450.82,290.49 L451.59,290.80 L452.29,291.01 L452.90,291.15 L453.55,291.72 L454.10,292.35 L454.58,292.82 L454.99,293.48 L455.36,294.38 L455.69,295.46 L456.00,296.37 L456.18,296.83 L456.33,297.54 L456.45,298.11 L456.55,298.88 L456.64,299.79 L456.70,300.66 L456.75,301.58 L456.78,302.17 L456.81,303.05 L456.83,304.02 L456.84,304.81 L456.86,305.75 L456.87,306.64 L456.89,307.48 L456.92,308.64 L456.95,309.62 L457.00,310.28 L457.04,310.99 L457.09,311.70 L457.13,312.51 L457.17,313.35 L457.22,314.02 L457.26,314.74 L457.30,315.68 L457.34,316.77 L457.38,317.46 L457.42,318.33 L457.46,319.01 L457.51,319.90 L457.55,320.64 L457.58,321.51 L457.62,322.28 L457.66,323.26 L457.70,324.27 L457.74,324.86 L457.78,325.80 L457.82,326.70 L457.85,327.22 L457.89,328.19 L457.93,329.04 L457.96,329.75 L458.00,330.56 L458.04,331.36 L458.07,332.48 L458.11,333.54 L458.14,334.53 L458.17,335.61 L458.20,336.51 L458.23,337.63 L458.26,338.86 L458.29,339.83 L458.32,340.94 L458.35,342.06 L458.38,343.20 L458.41,344.15 L458.44,344.99 L458.47,345.97 L458.50,346.94 L458.53,347.74 L458.56,348.33 L458.60,348.96 L458.64,349.66 L458.67,350.08 L458.71,350.36 L458.76,350.37 L458.80,350.41 L458.85,350.42 L458.91,350.10 L458.97,349.75 L459.03,349.12 L459.09,348.38 L459.15,347.72 L459.22,347.09 L459.28,346.30 L459.35,345.12 L459.42,344.16 L459.49,343.24 L459.55,341.96 L459.62,340.72 L459.69,339.56 L459.75,338.40 L459.82,337.55 L459.88,336.54 L459.94,335.42 L460.00,334.72 L460.05,334.04 L460.10,333.03 L460.14,332.25 L460.18,331.57 L460.22,330.63 L460.25,329.79 L460.28,328.83 L460.32,328.03 L460.35,327.28 L460.38,326.44 L460.42,325.51 L460.46,324.53 L460.50,323.85 L460.55,323.16 L460.61,322.18 L460.67,321.43 L460.74,320.70 L460.82,319.98 L460.90,319.31 L461.00,318.63 L461.14,317.57 L461.28,316.75 L461.42,315.84 L461.57,314.81 L461.74,313.83 L461.92,312.99 L462.13,312.46 L462.38,311.67 L462.67,310.89 L463.00,310.24 L463.69,309.42 L464.50,308.68 L465.34,308.24 L466.10,308.22 L466.76,308.60 L467.37,309.12 L467.95,310.00 L468.50,311.18 L468.85,311.93 L469.17,312.87 L469.47,313.89 L469.75,314.73 L470.03,315.55 L470.33,316.33 L470.65,317.15 L471.00,317.14 L471.58,316.89 L472.19,316.37 L472.83,315.03 L473.50,314.63 L474.02,314.51 L474.57,315.07 L475.14,316.33 L475.72,317.56 L476.30,318.48 L476.86,318.96 L477.40,319.44 L477.99,320.19 L478.57,320.97 L479.14,321.61 L479.69,322.22 L480.20,322.15 L480.56,321.59 L480.86,321.11 L481.14,320.26 L481.40,319.19 L481.68,318.75 L481.99,317.67 L482.35,316.81 L482.80,316.32 L483.54,315.31 L484.39,314.92 L485.31,314.55 L486.23,314.13 L487.10,314.44 L488.03,314.23 L488.96,314.64 L489.84,315.47 L490.60,314.85 L491.29,314.97 L491.82,316.33 L492.40,317.52 L493.24,317.41 L494.10,316.44 L494.52,317.10 L494.91,317.66 L495.30,319.15 L495.69,319.90 L496.10,320.39 L496.53,321.41 L497.00,321.93 L497.65,321.45 L498.34,320.96 L499.06,320.48 L499.80,319.63 L500.49,320.59 L501.22,321.02 L501.97,321.63 L502.71,322.37 L503.40,322.77 L504.00,323.66 L504.59,324.51 L505.08,325.70 L505.55,327.01 L506.10,327.38 L507.14,326.97 L508.20,326.61 L508.78,327.39 L509.31,327.57 L509.83,327.81 L510.40,328.48 L511.34,328.74 L512.30,329.38 L513.04,329.59 L513.77,328.69 L514.50,327.28 L515.44,326.97 L516.30,327.62 L516.57,328.64 L516.81,329.40 L517.01,329.51 L517.19,329.75 L517.35,331.26 L517.50,332.61 L517.63,334.30 L517.75,335.86 L517.88,336.59 L518.01,337.24 L518.15,336.63 L518.30,336.64 L518.51,336.13 L518.71,335.36 L518.91,335.56 L519.10,335.00 L519.31,333.45 L519.54,332.59 L519.80,331.82 L520.29,330.42 L520.82,329.69 L521.30,328.49 L521.48,328.81 L521.63,329.30 L521.77,329.08 L521.89,330.05 L522.00,331.60 L522.11,332.81 L522.20,333.81 L522.29,334.63 L522.39,335.10 L522.48,335.94 L522.59,337.43 L522.70,338.03 L522.82,339.36 L522.95,339.83 L523.07,339.98 L523.20,341.73 L523.33,342.91 L523.45,343.18 L523.58,344.08 L523.71,345.93 L523.83,346.10 L523.96,346.68 L524.08,348.05 L524.20,349.12 L524.37,349.86 L524.54,350.24 L524.71,350.82 L524.87,351.91 L525.04,353.17 L525.20,353.95 L525.35,353.25 L525.50,352.57 L525.64,351.68 L525.79,349.35 L525.93,347.44 L526.07,346.63 L526.20,347.39 L526.29,347.33 L526.39,348.24 L526.48,348.70 L526.57,348.34 L526.65,349.39 L526.74,351.14 L526.82,352.25 L526.91,353.46 L526.99,354.03 L527.07,355.20 L527.15,356.07 L527.22,357.83 L527.30,359.40 L527.36,359.64 L527.41,360.80 L527.45,360.86 L527.49,361.84 L527.53,363.25 L527.57,364.13 L527.61,364.84 L527.64,366.12 L527.68,367.74 L527.71,369.00 L527.75,369.49 L527.79,369.55 L527.83,371.15 L527.88,371.95 L527.93,373.28 L527.99,373.97 L528.06,374.25 L528.13,374.09 L528.21,374.03 L528.30,374.66 L528.48,374.20 L528.69,373.62 L528.91,373.45 L529.14,372.75 L529.37,371.58 L529.59,369.87 L529.80,368.90 L529.91,368.13 L530.02,367.40 L530.12,366.74 L530.22,365.94 L530.32,365.09 L530.42,364.51 L530.51,363.71 L530.61,362.74 L530.70,361.84 L530.79,360.95 L530.88,359.99 L530.97,359.02 L531.06,358.23 L531.15,357.55 L531.24,356.80 L531.33,355.90 L531.42,354.78 L531.52,353.83 L531.61,353.04 L531.70,352.32 L531.80,351.31 L531.90,350.64 L532.00,349.75 L532.10,348.81 L532.20,347.91 L532.30,347.00 L532.40,346.25 L532.50,345.65 L532.60,344.77 L532.70,344.03 L532.80,343.18 L532.90,342.28 L533.00,341.33 L533.10,340.57 L533.20,339.82 L533.30,338.85 L533.40,338.15 L533.50,337.34 L533.60,336.78 L533.70,336.22 L533.80,335.16 L533.91,334.37 L534.01,333.48 L534.10,332.64 L534.18,331.63 L534.27,330.68 L534.35,329.76 L534.44,329.02 L534.53,328.16 L534.64,327.55 L534.75,326.99 L534.88,326.16 L535.03,325.45 L535.20,324.69 L535.40,324.04 L535.87,322.85 L536.40,321.79 L536.98,321.01 L537.60,320.80 L538.42,321.10 L539.31,321.55 L540.10,322.49 L540.39,323.03 L540.66,323.60 L540.90,324.45 L541.12,325.14 L541.32,325.92 L541.51,326.78 L541.69,327.61 L541.86,328.39 L542.04,329.34 L542.22,330.18 L542.40,330.91 L542.60,331.66 L542.79,332.63 L542.98,333.38 L543.16,334.15 L543.35,335.02 L543.53,335.76 L543.71,336.50 L543.89,337.52 L544.07,338.39 L544.26,339.06 L544.46,339.61 L544.66,340.59 L544.88,341.33 L545.10,341.93 L545.36,343.02 L545.62,343.76 L545.88,344.49 L546.14,345.54 L546.42,346.71 L546.71,347.63 L547.01,348.37 L547.35,349.01 L547.71,349.52 L548.10,349.56 L549.02,349.52 L550.04,349.11 L551.00,348.96 L551.69,349.12 L552.32,349.75 L552.95,350.44 L553.60,351.14 L554.31,352.02 L555.03,352.97 L555.76,353.49 L556.50,353.63 L557.26,353.39 L558.03,352.81 L558.79,352.14 L559.50,351.36 L559.91,350.71 L560.30,350.14 L560.68,349.18 L561.04,348.41 L561.39,347.52 L561.74,346.45 L562.09,345.95 L562.44,345.02 L562.80,344.56 L563.15,343.95 L563.50,343.31 L563.85,342.45 L564.20,341.65 L564.55,340.87 L564.90,339.75 L565.24,338.84 L565.57,338.18 L565.89,337.35 L566.20,336.83 L566.49,336.00 L566.78,334.97 L567.06,334.66 L567.33,334.27 L567.60,333.50 L567.85,332.42 L568.10,331.33 L568.34,330.57 L568.58,329.82 L568.80,329.49 L569.05,328.76 L569.27,327.69 L569.48,326.51 L569.68,325.31 L569.89,324.69 L570.12,324.24 L570.40,323.76 L570.82,322.53 L571.26,321.15 L571.76,320.30 L572.30,320.39 L573.00,320.56 L573.76,321.18 L574.50,321.59 L575.15,321.01 L575.78,320.45 L576.40,319.46 L577.00,318.68 L577.43,318.05 L577.84,317.08 L578.24,316.52 L578.64,315.93 L579.06,315.31 L579.50,314.26 L579.96,313.45 L580.43,313.30 L580.92,312.79 L581.42,311.85 L581.95,311.01 L582.50,310.39 L583.42,310.35 L584.40,310.65 L585.40,310.54 L586.25,310.08 L587.13,309.90 L587.99,309.98 L588.80,310.10 L589.43,309.54 L590.00,309.25 L590.55,308.70 L591.10,308.17 L591.70,307.43 L592.44,306.53 L593.22,306.24 L593.99,306.05 L594.70,306.01 L595.26,306.15 L595.76,307.08 L596.23,308.01 L596.70,308.94 L597.20,309.86 L597.80,310.51 L598.40,311.18 L599.03,311.84 L599.70,312.13 L600.25,311.63 L600.83,311.12 L601.43,310.63 L602.06,310.05 L602.69,308.81 L603.34,307.96 L604.00,307.30 L604.73,306.43 L605.46,306.28 L606.22,305.92 L606.99,305.37 L607.78,304.76 L608.60,304.36 L609.31,304.13 L610.05,303.79 L610.81,303.46 L611.58,302.69 L612.35,301.96 L613.12,301.52 L613.87,301.64 L614.60,301.43 L615.55,301.51 L616.48,301.86 L617.40,301.91 L618.30,302.41 L619.20,302.92 L619.96,302.73 L620.69,303.13 L621.42,303.92 L622.15,304.39 L622.91,304.40 L623.70,304.92 L624.42,305.77 L625.19,306.13 L625.98,306.41 L626.77,306.40 L627.57,306.63 L628.35,306.95 L629.10,307.77 L629.80,308.26 L630.46,308.77 L631.10,309.60 L631.73,310.23 L632.33,310.49 L632.90,311.17 L633.44,311.97 L633.94,312.20 L634.40,312.45 L635.16,313.10 L635.80,313.37 L636.05,313.63 L636.26,314.36 L636.46,314.83 L636.63,315.19 L636.78,315.83 L636.92,317.24 L637.04,318.25 L637.16,319.13 L637.27,319.94 L637.38,321.17 L637.49,322.24 L637.60,323.58 L637.66,324.38 L637.71,324.85 L637.76,325.68 L637.81,326.57 L637.86,327.44 L637.90,327.76 L637.94,328.46 L637.98,329.74 L638.02,330.83 L638.05,331.85 L638.08,332.83 L638.11,333.84 L638.14,334.61 L638.17,335.85 L638.19,337.07 L638.22,337.86 L638.24,338.87 L638.26,340.20 L638.28,341.47 L638.30,342.66 L638.32,343.61 L638.34,344.24 L638.36,345.29 L638.37,346.14 L638.39,347.02 L638.41,347.99 L638.42,349.37 L638.44,350.35 L638.46,351.09 L638.47,352.42 L638.49,353.10 L638.51,354.01 L638.53,354.74 L638.54,355.18 L638.56,356.18 L638.58,356.78 L638.61,357.44 L638.63,358.04 L638.65,358.13 L638.68,358.54 L638.71,358.93 L638.74,358.89 L638.77,358.78 L638.80,358.79 L638.84,358.71 L638.87,358.71 L638.91,358.41 L638.95,358.31 L638.98,358.32 L639.02,357.84 L639.06,356.85 L639.09,356.30 L639.13,355.61 L639.17,354.83 L639.20,354.39 L639.24,353.76 L639.28,352.75 L639.32,351.93 L639.36,350.75 L639.40,349.79 L639.44,348.81 L639.48,347.88 L639.52,346.84 L639.56,345.33 L639.60,344.66 L639.64,343.79 L639.69,342.47 L639.73,341.54 L639.78,340.10 L639.82,338.95 L639.87,338.11 L639.92,337.07 L639.97,336.31 L640.02,335.32 L640.07,334.42 L640.12,333.15 L640.17,331.82 L640.23,331.05 L640.28,330.42 L640.34,329.50 L640.40,328.70 L640.48,327.77 L640.54,327.14 L640.58,326.12 L640.63,325.04 L640.66,324.25 L640.69,323.56 L640.73,322.71 L640.76,321.74 L640.81,320.92 L640.86,320.05 L640.93,319.18 L641.01,318.13 L641.11,317.13 L641.24,316.25 L641.39,315.30 L641.56,314.80 L641.77,314.27 L642.02,313.93 L642.30,313.37 L642.91,312.35 L643.61,312.00 L644.39,311.53 L645.21,310.71 L646.06,310.26 L646.90,310.14 L647.57,310.22 L648.25,310.64 L648.96,311.21 L649.67,311.51 L650.40,312.23 L651.14,313.22 L651.89,313.74 L652.64,314.07 L653.40,314.22 L654.19,314.84 L654.99,314.86 L655.81,315.27 L656.64,315.98 L657.47,316.05 L658.30,316.05 L659.14,316.23 L659.97,316.45 L660.80,316.68 L661.64,317.55 L662.48,317.78 L663.33,317.96 L664.18,318.33 L665.03,318.55 L665.87,319.25 L666.70,319.39 L667.51,319.59 L668.30,319.82 L669.25,320.19 L670.15,320.44 L671.04,320.78 L671.93,321.05 L672.84,321.21 L673.80,321.29 L674.58,320.70 L675.37,320.72 L676.18,320.47 L677.01,320.12 L677.84,320.08 L678.69,319.82 L679.55,320.02 L680.42,320.24 L681.30,319.70 L682.12,319.66 L682.96,319.84 L683.83,319.91 L684.72,319.64 L685.60,319.83 L686.49,320.28 L687.37,320.04 L688.22,320.12 L689.05,319.84 L689.85,319.77 L690.60,319.59 L691.47,319.72 L692.29,319.80 L693.08,319.12 L693.84,318.79 L694.58,318.87 L695.33,318.19 L696.10,317.91 L696.92,317.59 L697.76,317.25 L698.60,316.83 L699.43,316.26 L700.23,315.72 L701.00,315.62 L701.70,315.12 L702.80,314.72 L703.81,314.56 L704.50,313.99" stroke="#000" class="cv" style="stroke-width:4.4" clip-path="url(#cb)"/>
<path d="M41.00,218.68 L41.41,218.72 L41.85,218.83 L42.31,218.79 L42.79,218.73 L43.30,218.77 L43.82,218.70 L44.37,218.72 L44.93,218.81 L45.52,218.88 L46.12,218.75 L46.75,218.70 L47.39,218.69 L48.05,218.84 L48.72,218.94 L49.42,218.78 L50.12,218.91 L50.85,219.07 L51.59,219.00 L52.34,218.96 L53.11,218.85 L53.89,218.76 L54.69,218.87 L55.49,218.86 L56.31,218.83 L57.14,218.87 L57.99,218.84 L58.84,218.93 L59.70,219.01 L60.57,219.11 L61.46,219.12 L62.34,219.11 L63.24,219.11 L64.15,219.14 L65.06,219.13 L65.98,219.07 L66.90,219.23 L67.83,219.37 L68.77,219.34 L69.71,219.30 L70.65,219.21 L71.60,219.14 L72.55,219.16 L73.50,219.13 L74.45,219.28 L75.41,219.33 L76.37,219.39 L77.32,219.37 L78.28,219.46 L79.24,219.54 L80.19,219.34 L81.15,219.27 L82.10,219.49 L83.05,219.52 L83.99,219.59 L84.94,219.56 L85.87,219.41 L86.81,219.51 L87.74,219.66 L88.66,219.58 L89.58,219.48 L90.49,219.53 L91.39,219.74 L92.28,219.82 L93.17,219.65 L94.05,219.61 L94.92,219.61 L95.78,219.61 L96.63,219.80 L97.47,219.79 L98.29,219.81 L99.11,219.87 L99.91,219.82 L100.70,219.93 L101.48,219.90 L102.24,219.95 L102.99,219.94 L103.73,219.95 L104.45,219.98 L105.15,219.99 L105.84,220.19 L106.51,220.29 L107.16,220.17 L107.80,220.26 L108.77,220.24 L109.71,220.21 L110.64,220.39 L111.55,220.45 L112.44,220.33 L113.31,220.49 L114.17,220.48 L115.02,220.40 L115.85,220.56 L116.66,220.57 L117.47,220.53 L118.26,220.51 L119.05,220.51 L119.82,220.67 L120.59,220.70 L121.36,220.77 L122.11,220.82 L122.86,220.84 L123.61,221.02 L124.35,221.04 L125.09,221.04 L125.84,221.18 L126.58,221.12 L127.32,221.06 L128.06,221.31 L128.81,221.48 L129.56,221.40 L130.31,221.38 L131.07,221.59 L131.84,221.82 L132.62,221.77 L133.40,221.93 L134.20,222.15 L135.00,222.19 L135.78,222.22 L136.57,222.24 L137.36,222.30 L138.15,222.65 L138.94,222.77 L139.73,222.92 L140.52,223.04 L141.32,223.27 L142.12,223.47 L142.92,223.53 L143.72,223.63 L144.52,223.92 L145.32,224.03 L146.12,224.15 L146.92,224.44 L147.72,224.75 L148.52,224.94 L149.33,225.01 L150.13,225.31 L150.93,225.44 L151.73,225.48 L152.53,225.71 L153.32,226.00 L154.12,226.14 L154.92,226.31 L155.71,226.57 L156.50,226.86 L157.29,226.98 L158.08,227.17 L158.87,227.53 L159.65,227.84 L160.43,227.97 L161.21,228.12 L161.99,228.29 L162.76,228.36 L163.53,228.45 L164.30,228.61 L165.10,229.01 L165.89,229.30 L166.67,229.54 L167.44,229.56 L168.20,229.76 L168.95,230.03 L169.70,230.28 L170.45,230.44 L171.18,230.75 L171.92,230.86 L172.65,231.04 L173.39,231.38 L174.12,231.66 L174.85,231.87 L175.58,232.05 L176.31,232.28 L177.05,232.53 L177.79,232.62 L178.54,232.82 L179.29,233.13 L180.05,233.35 L180.81,233.43 L181.59,233.64 L182.37,233.90 L183.17,234.02 L183.97,234.15 L184.79,234.27 L185.62,234.43 L186.46,234.62 L187.32,234.64 L188.20,234.83 L189.09,235.12 L190.00,235.27 L190.67,235.29 L191.36,235.26 L192.05,235.36 L192.75,235.45 L193.47,235.45 L194.19,235.59 L194.92,235.53 L195.66,235.62 L196.41,235.60 L197.16,235.67 L197.93,235.77 L198.70,235.73 L199.48,235.84 L200.26,235.90 L201.06,235.93 L201.85,236.05 L202.66,235.96 L203.47,235.82 L204.28,235.87 L205.10,236.02 L205.93,235.98 L206.76,235.91 L207.59,236.09 L208.43,236.16 L209.27,236.07 L210.12,236.14 L210.97,236.08 L211.82,236.07 L212.67,236.00 L213.52,235.98 L214.38,236.10 L215.24,236.17 L216.10,236.17 L216.96,236.03 L217.82,235.98 L218.68,235.93 L219.54,235.83 L220.40,235.86 L221.26,235.98 L222.12,236.01 L222.97,235.96 L223.83,235.97 L224.68,235.81 L225.54,235.65 L226.38,235.67 L227.23,235.65 L228.07,235.57 L228.91,235.58 L229.75,235.63 L230.58,235.60 L231.41,235.50 L232.23,235.56 L233.05,235.64 L233.87,235.50 L234.67,235.29 L235.47,235.18 L236.27,235.34 L237.06,235.24 L237.84,235.23 L238.62,235.26 L239.39,235.14 L240.15,235.18 L240.90,235.03 L241.77,234.89 L242.65,234.93 L243.53,234.82 L244.41,234.88 L245.29,234.79 L246.18,234.60 L247.07,234.48 L247.95,234.51 L248.84,234.47 L249.73,234.39 L250.62,234.33 L251.51,234.27 L252.40,234.22 L253.28,234.08 L254.17,233.81 L255.05,233.68 L255.93,233.54 L256.80,233.34 L257.67,233.31 L258.54,233.33 L259.41,233.12 L260.27,232.95 L261.12,232.86 L261.97,232.85 L262.81,232.75 L263.65,232.63 L264.48,232.57 L265.30,232.40 L266.11,232.34 L266.92,232.33 L267.72,232.05 L268.51,232.03 L269.29,232.03 L270.06,231.77 L270.82,231.67 L271.57,231.69 L272.31,231.72 L273.03,231.57 L273.75,231.48 L274.45,231.54 L275.14,231.52 L275.82,231.51 L276.49,231.39 L277.14,231.34 L277.77,231.25 L278.39,231.30 L279.00,231.41 L280.02,231.41 L281.00,231.44 L281.96,231.38 L282.88,231.53 L283.78,231.73 L284.65,231.83 L285.50,231.82 L286.31,231.92 L287.11,231.96 L287.88,232.16 L288.63,232.38 L289.36,232.41 L290.07,232.42 L290.77,232.64 L291.44,232.91 L292.10,233.17 L293.02,233.45 L293.90,233.66 L294.74,234.16 L295.54,234.52 L296.28,234.99 L296.98,235.36 L297.62,235.67 L298.20,236.14 L299.25,236.91 L300.20,237.26 L300.79,237.05 L301.40,236.51 L302.04,235.81 L302.68,235.16 L303.30,234.94 L304.07,235.10 L304.86,235.73 L305.61,236.42 L306.30,237.27 L306.65,237.95 L306.97,238.60 L307.28,239.40 L307.56,240.23 L307.82,241.02 L308.08,241.96 L308.33,242.84 L308.57,243.66 L308.81,244.57 L309.05,245.63 L309.30,246.65 L309.48,247.23 L309.65,248.09 L309.80,249.10 L309.95,249.94 L310.08,250.85 L310.21,251.75 L310.34,252.77 L310.47,253.81 L310.61,254.81 L310.75,255.64 L310.89,256.68 L311.05,257.57 L311.23,258.26 L311.42,259.04 L311.63,259.65 L311.86,260.09 L312.12,260.50 L312.40,260.63 L313.38,260.49 L314.46,259.85 L315.40,259.80 L315.73,260.17 L316.01,260.47 L316.24,261.02 L316.43,261.71 L316.58,262.56 L316.72,263.63 L316.85,264.71 L316.97,265.66 L317.10,266.62 L317.24,267.64 L317.40,268.78 L317.50,269.54 L317.61,270.04 L317.71,270.73 L317.81,271.34 L317.92,271.97 L318.02,272.74 L318.13,273.60 L318.23,274.35 L318.34,275.08 L318.44,275.95 L318.55,276.68 L318.65,277.57 L318.76,278.36 L318.86,279.20 L318.96,280.06 L319.07,280.87 L319.17,281.81 L319.27,282.72 L319.37,283.57 L319.46,284.45 L319.56,285.38 L319.66,286.20 L319.75,287.04 L319.84,288.04 L319.93,289.00 L320.02,289.85 L320.10,290.79 L320.19,291.66 L320.27,292.55 L320.35,293.30 L320.43,294.17 L320.50,295.11 L320.57,295.96 L320.63,296.69 L320.69,297.50 L320.75,298.58 L320.80,299.48 L320.85,300.55 L320.90,301.66 L320.95,302.50 L320.99,303.46 L321.03,304.66 L321.07,305.70 L321.11,306.66 L321.15,307.89 L321.19,308.98 L321.22,310.07 L321.26,311.02 L321.29,312.01 L321.32,313.14 L321.36,314.02 L321.39,314.91 L321.43,315.99 L321.47,317.01 L321.50,317.91 L321.54,318.52 L321.58,319.24 L321.62,320.06 L321.66,320.69 L321.71,321.28 L321.76,321.71 L321.81,322.06 L321.86,322.43 L321.91,322.72 L321.97,323.05 L322.03,323.26 L322.10,323.32 L322.16,323.19 L322.23,323.01 L322.30,322.82 L322.37,322.70 L322.44,322.50 L322.51,322.10 L322.59,321.41 L322.67,320.74 L322.75,320.35 L322.83,319.73 L322.91,319.03 L322.99,318.22 L323.07,317.39 L323.16,316.59 L323.24,315.71 L323.33,314.83 L323.42,313.78 L323.51,312.88 L323.60,312.04 L323.69,310.89 L323.78,309.81 L323.87,308.88 L323.96,307.78 L324.05,306.61 L324.14,305.49 L324.24,304.49 L324.33,303.35 L324.42,302.41 L324.51,301.46 L324.60,300.36 L324.70,299.34 L324.79,298.29 L324.88,297.19 L324.97,296.22 L325.06,295.28 L325.15,294.45 L325.24,293.59 L325.33,292.58 L325.41,291.83 L325.50,291.12 L325.60,290.24 L325.69,289.39 L325.79,288.43 L325.88,287.62 L325.96,286.83 L326.05,285.93 L326.14,285.06 L326.22,284.22 L326.31,283.29 L326.39,282.46 L326.47,281.51 L326.56,280.63 L326.64,279.88 L326.73,278.96 L326.82,278.14 L326.91,277.45 L327.00,276.68 L327.09,275.78 L327.19,275.08 L327.29,274.34 L327.39,273.43 L327.49,272.67 L327.60,271.93 L327.72,271.14 L327.83,270.34 L327.96,269.72 L328.08,268.99 L328.22,268.21 L328.36,267.51 L328.50,266.86 L328.69,265.73 L328.89,264.75 L329.10,263.87 L329.31,262.74 L329.53,261.65 L329.76,260.54 L329.99,259.47 L330.22,258.52 L330.46,257.48 L330.71,256.52 L330.95,255.79 L331.20,254.96 L331.46,254.11 L331.71,253.52 L331.97,252.89 L332.23,252.43 L332.48,252.02 L332.74,251.73 L333.00,251.45 L333.57,251.59 L334.15,252.28 L334.73,252.92 L335.30,253.83 L335.70,254.35 L336.11,254.91 L336.52,255.54 L336.92,256.27 L337.30,257.10 L337.67,257.80 L338.00,258.80 L338.30,259.75 L338.46,260.30 L338.60,260.99 L338.73,261.64 L338.85,262.31 L338.95,263.14 L339.04,263.96 L339.12,264.70 L339.19,265.59 L339.26,266.41 L339.31,267.15 L339.36,268.05 L339.41,268.93 L339.45,269.83 L339.49,270.89 L339.52,271.81 L339.56,272.78 L339.59,273.72 L339.63,274.42 L339.67,275.41 L339.71,276.42 L339.75,277.04 L339.80,277.93 L339.85,278.80 L339.89,279.65 L339.93,280.75 L339.97,281.67 L340.00,282.66 L340.03,283.86 L340.06,284.95 L340.08,285.92 L340.10,287.06 L340.13,288.14 L340.15,289.06 L340.18,289.87 L340.21,290.81 L340.24,291.69 L340.28,292.36 L340.31,292.96 L340.36,293.62 L340.41,294.07 L340.47,294.43 L340.53,294.75 L340.60,294.82 L340.69,294.66 L340.79,294.46 L340.90,294.08 L341.02,293.62 L341.14,292.98 L341.27,292.30 L341.40,291.53 L341.54,290.55 L341.67,289.41 L341.81,288.27 L341.95,287.37 L342.09,286.37 L342.22,285.21 L342.35,284.02 L342.47,282.88 L342.59,281.91 L342.70,280.95 L342.77,280.26 L342.83,279.58 L342.89,278.89 L342.95,278.03 L343.00,277.20 L343.05,276.60 L343.09,275.90 L343.13,275.07 L343.17,274.04 L343.21,273.06 L343.25,272.27 L343.28,271.47 L343.32,270.67 L343.35,269.70 L343.38,268.83 L343.41,267.90 L343.45,266.93 L343.48,266.18 L343.51,265.34 L343.55,264.44 L343.59,263.50 L343.63,262.59 L343.67,261.66 L343.71,260.77 L343.76,260.01 L343.81,259.23 L343.87,258.21 L343.92,257.26 L343.99,256.60 L344.06,255.85 L344.13,255.06 L344.21,254.17 L344.29,253.37 L344.39,252.62 L344.48,252.01 L344.59,251.29 L344.70,250.62 L344.86,249.80 L345.03,248.75 L345.19,247.77 L345.36,246.94 L345.53,246.10 L345.71,245.12 L345.89,244.16 L346.08,243.23 L346.28,242.55 L346.49,241.67 L346.72,240.77 L346.96,240.13 L347.22,239.47 L347.49,238.82 L347.78,238.10 L348.10,237.54 L348.44,236.88 L348.80,236.26 L349.34,235.72 L349.91,235.07 L350.50,234.52 L351.13,234.20 L351.80,233.85 L352.49,233.38 L353.23,232.94 L353.99,232.64 L354.80,232.43 L355.49,232.16 L356.26,231.81 L357.10,231.71 L358.00,231.58 L358.92,231.47 L359.87,231.38 L360.83,231.23 L361.78,230.99 L362.70,230.88 L363.58,230.72 L364.41,230.54 L365.18,230.48 L365.86,230.54 L366.43,230.54 L366.90,230.30" stroke="#f00" class="cv"/>
<path d="M378.70,233.87 L379.25,234.21 L380.03,234.48 L380.95,235.02 L381.91,235.45 L382.82,236.00 L383.60,236.84 L384.09,237.31 L384.55,237.98 L384.98,238.67 L385.38,239.27 L385.77,240.01 L386.13,240.81 L386.47,241.56 L386.80,242.58 L387.10,243.43 L387.40,244.43 L387.59,245.15 L387.76,245.56 L387.92,246.17 L388.06,247.01 L388.20,247.91 L388.32,248.55 L388.43,249.35 L388.54,250.17 L388.64,251.07 L388.73,252.04 L388.82,252.87 L388.90,253.54 L388.98,254.47 L389.05,255.37 L389.13,256.31 L389.20,257.18 L389.28,258.13 L389.36,259.14 L389.44,260.01 L389.52,260.88 L389.61,261.77 L389.70,262.59 L389.78,263.18 L389.86,264.10 L389.94,264.89 L390.01,265.43 L390.09,266.27 L390.16,267.15 L390.24,267.89 L390.31,268.89 L390.38,269.61 L390.45,270.50 L390.52,271.38 L390.59,272.03 L390.66,272.85 L390.73,273.75 L390.80,274.50 L390.87,275.47 L390.94,276.40 L391.01,277.32 L391.08,278.17 L391.15,278.96 L391.22,279.84 L391.29,280.69 L391.37,281.41 L391.44,282.13 L391.51,282.91 L391.59,283.79 L391.66,284.67 L391.74,285.45 L391.82,286.21 L391.90,286.73 L391.99,287.58 L392.09,288.51 L392.18,289.58 L392.28,290.71 L392.38,291.76 L392.47,292.91 L392.57,293.87 L392.67,294.98 L392.77,296.11 L392.87,297.03 L392.97,298.22 L393.07,299.10 L393.17,300.00 L393.28,301.01 L393.38,301.89 L393.48,302.80 L393.58,303.46 L393.69,304.10 L393.79,304.51 L393.89,304.88 L394.00,305.13 L394.10,305.40 L394.20,305.50 L394.31,305.49 L394.42,305.15 L394.52,304.77 L394.63,304.51 L394.74,303.74 L394.85,303.06 L394.96,302.42 L395.07,301.59 L395.18,300.63 L395.29,299.60 L395.40,298.71 L395.51,297.54 L395.62,296.45 L395.73,295.44 L395.84,294.36 L395.95,293.21 L396.06,291.96 L396.17,291.07 L396.28,290.09 L396.39,289.21 L396.50,288.50 L396.60,287.66 L396.71,286.68 L396.81,285.91 L396.91,285.02 L397.00,284.07 L397.10,283.29 L397.20,282.51 L397.29,281.69 L397.39,280.81 L397.48,279.89 L397.58,279.12 L397.68,278.22 L397.78,277.38 L397.88,276.41 L397.98,275.50 L398.09,274.92 L398.20,274.05 L398.31,273.17 L398.43,272.30 L398.55,271.65 L398.67,270.87 L398.80,269.93 L398.95,269.08 L399.10,268.46 L399.24,267.68 L399.39,266.57 L399.54,265.86 L399.69,264.94 L399.85,264.06 L400.01,263.33 L400.17,262.60 L400.34,261.66 L400.52,260.94 L400.71,260.13 L400.90,259.38 L401.11,258.77 L401.33,257.96 L401.56,256.99 L401.80,256.35 L402.10,255.56 L402.41,254.75 L402.73,253.97 L403.06,252.95 L403.40,252.13 L403.75,251.45 L404.12,250.78 L404.51,250.00 L404.92,249.23 L405.36,248.60 L405.81,247.83 L406.30,247.34 L406.96,246.76 L407.68,246.17 L408.44,245.57 L409.23,245.15 L410.03,244.79 L410.84,244.30 L411.63,244.05 L412.40,243.69 L413.08,243.08 L413.76,242.38 L414.43,242.06 L415.10,241.45 L415.78,240.87 L416.45,240.45 L417.13,240.05 L417.81,239.57 L418.50,239.06 L419.24,238.57 L419.98,238.25 L420.72,237.86 L421.47,237.28 L422.23,236.93 L423.00,236.71 L423.79,236.27 L424.60,235.77 L425.38,235.45 L426.19,235.51 L427.02,235.29 L427.85,235.16 L428.70,234.97 L429.55,234.75 L430.41,234.65 L431.26,234.77 L432.10,234.64 L432.95,234.59 L433.80,234.78 L434.66,234.80 L435.52,234.65 L436.38,234.62 L437.23,234.95 L438.07,235.04 L438.89,234.96 L439.70,235.12 L440.62,235.35 L441.55,235.30 L442.46,235.18 L443.36,235.22 L444.22,235.41 L445.04,235.72 L445.80,235.83 L446.55,236.25 L447.27,236.77 L447.94,237.19 L448.56,237.66 L449.12,238.14 L449.60,238.91 L449.92,239.64 L450.16,240.45 L450.34,241.14 L450.47,241.92 L450.58,242.79 L450.68,243.82 L450.78,244.71 L450.92,245.66 L451.10,246.59 L451.31,247.40 L451.52,248.22 L451.73,249.32 L451.96,250.23 L452.20,250.91 L452.46,251.83 L452.74,252.79 L453.05,253.48 L453.40,254.22 L453.96,255.00 L454.60,255.50 L455.26,255.78 L455.89,256.34 L456.40,257.18 L456.68,257.74 L456.91,258.48 L457.09,259.37 L457.24,260.25 L457.37,261.12 L457.47,262.01 L457.57,262.78 L457.67,263.69 L457.78,264.63 L457.90,265.58 L458.01,266.27 L458.11,267.09 L458.21,268.29 L458.30,269.46 L458.39,270.40 L458.48,271.53 L458.56,272.67 L458.65,273.59 L458.75,274.36 L458.85,274.92 L458.96,275.44 L459.07,275.99 L459.20,276.28 L459.37,275.93 L459.55,275.27 L459.75,274.64 L459.95,273.98 L460.16,272.86 L460.37,271.84 L460.58,270.82 L460.79,269.73 L461.00,268.82 L461.17,267.98 L461.32,266.96 L461.48,266.10 L461.63,265.27 L461.78,264.47 L461.94,263.54 L462.10,262.71 L462.26,261.71 L462.44,260.77 L462.63,259.99 L462.84,259.18 L463.06,258.60 L463.30,258.06 L463.66,256.94 L464.05,256.02 L464.46,255.12 L464.89,254.32 L465.34,253.62 L465.81,253.13 L466.30,252.74 L467.14,252.12 L468.04,251.52 L469.00,251.03 L469.71,250.64 L470.47,250.33 L471.24,249.92 L472.03,249.73 L472.80,249.64 L473.58,249.66 L474.37,249.94 L475.16,250.31 L475.91,250.55 L476.60,251.12 L477.00,251.60 L477.37,252.14 L477.70,253.20 L478.01,254.12 L478.30,255.03 L478.58,256.21 L478.86,257.33 L479.13,258.15 L479.42,258.96 L479.72,259.57 L480.05,259.84 L480.40,260.12 L480.88,259.98 L481.36,259.44 L481.85,258.80 L482.36,258.06 L482.92,257.10 L483.52,256.20 L484.20,255.66 L484.83,255.21 L485.52,254.80 L486.26,254.47 L487.04,253.98 L487.84,253.71 L488.66,253.51 L489.47,252.97 L490.28,252.57 L491.06,252.45 L491.80,252.52 L492.60,252.58 L493.41,252.80 L494.21,253.18 L495.00,253.36 L495.77,253.55 L496.51,253.89 L497.22,254.51 L497.90,255.08 L498.56,255.58 L499.18,256.20 L499.77,256.67 L500.33,257.31 L500.87,257.95 L501.40,258.53 L501.90,259.41 L502.40,260.20 L502.81,260.85 L503.20,261.58 L503.59,262.20 L503.96,262.80 L504.32,263.72 L504.67,264.64 L505.00,265.43 L505.32,266.11 L505.63,266.84 L505.92,267.76 L506.20,268.59 L506.42,269.38 L506.62,270.13 L506.81,270.85 L506.99,271.72 L507.15,272.36 L507.31,273.04 L507.45,273.96 L507.59,274.94 L507.73,275.85 L507.86,276.68 L507.98,277.31 L508.11,278.05 L508.24,278.90 L508.37,279.72 L508.50,280.55 L508.62,281.30 L508.74,282.28 L508.85,283.12 L508.96,284.00 L509.07,284.80 L509.17,285.58 L509.28,286.48 L509.38,287.22 L509.48,287.88 L509.58,288.69 L509.68,289.56 L509.78,290.30 L509.88,291.18 L509.98,292.13 L510.08,292.85 L510.18,293.46 L510.29,294.21 L510.40,295.08 L510.52,295.93 L510.63,296.83 L510.74,297.90 L510.85,298.63 L510.95,299.38 L511.06,300.33 L511.17,301.10 L511.28,302.05 L511.40,303.05 L511.52,303.58 L511.65,304.29 L511.80,305.25 L511.95,305.83 L512.12,306.54 L512.30,307.40 L512.57,308.45 L512.87,309.27 L513.18,310.35 L513.51,311.35 L513.85,312.17 L514.20,312.73 L514.55,313.03 L514.90,313.30 L515.34,313.35 L515.79,312.68 L516.26,311.93 L516.72,311.10 L517.18,309.90 L517.60,308.78 L517.86,308.24 L518.09,307.30 L518.31,306.46 L518.52,305.57 L518.72,304.75 L518.92,303.86 L519.11,302.92 L519.32,301.96 L519.53,301.18 L519.76,300.43 L520.02,299.41 L520.29,298.72 L520.60,298.13 L521.15,297.41 L521.74,296.76 L522.37,296.06 L523.02,295.53 L523.70,295.35 L524.42,295.36 L525.18,295.74 L525.96,296.59 L526.74,297.24 L527.50,297.47 L528.55,297.83 L529.60,297.96 L530.50,297.39 L530.83,297.17 L531.10,296.79 L531.33,296.12 L531.53,295.20 L531.69,294.23 L531.84,293.35 L531.97,292.64 L532.11,291.60 L532.25,290.57 L532.41,289.69 L532.59,288.80 L532.80,287.92 L533.01,287.07 L533.24,286.38 L533.47,285.53 L533.70,284.74 L533.95,283.95 L534.19,283.05 L534.45,282.19 L534.71,281.56 L534.97,280.67 L535.23,279.85 L535.50,279.17 L535.78,278.50 L536.05,277.69 L536.32,276.93 L536.60,276.27 L536.93,275.18 L537.27,274.05 L537.62,273.28 L537.98,272.26 L538.33,271.24 L538.69,270.32 L539.05,269.41 L539.40,268.74 L539.75,268.26 L540.08,268.03 L540.40,267.78 L540.87,267.84 L541.34,268.59 L541.78,269.65 L542.21,270.60 L542.60,271.52 L542.81,272.27 L543.00,273.01 L543.19,273.45 L543.36,274.04 L543.53,274.96 L543.69,275.80 L543.84,276.61 L543.99,277.45 L544.13,278.21 L544.27,279.23 L544.40,280.29 L544.53,281.13 L544.65,281.88 L544.78,282.83 L544.90,283.68 L545.00,284.30 L545.09,285.18 L545.18,286.04 L545.26,286.92 L545.34,287.63 L545.41,288.25 L545.48,289.13 L545.54,289.88 L545.61,290.67 L545.67,291.75 L545.73,292.55 L545.79,293.27 L545.85,294.30 L545.91,295.01 L545.97,295.90 L546.03,296.90 L546.10,297.82 L546.17,298.50 L546.24,299.33 L546.32,300.26 L546.40,301.03 L546.47,301.75 L546.54,302.55 L546.61,303.33 L546.68,304.33 L546.75,305.30 L546.82,306.07 L546.89,307.01 L546.96,307.99 L547.03,308.89 L547.10,309.61 L547.17,310.43 L547.25,311.31 L547.32,312.15 L547.40,313.32 L547.48,314.28 L547.56,315.11 L547.64,315.97 L547.72,316.73 L547.80,317.45 L547.89,318.31 L547.98,319.21 L548.07,319.90 L548.16,320.65 L548.26,321.60 L548.36,322.17 L548.46,322.82 L548.57,323.49 L548.67,324.12 L548.79,324.68 L548.90,325.09 L549.21,326.45 L549.55,327.64 L549.90,328.45 L550.25,329.15 L550.60,329.45 L550.90,329.17 L551.20,328.20 L551.50,326.87 L551.80,325.66 L552.11,324.62 L552.41,323.74 L552.70,323.27 L553.05,323.59 L553.40,324.26 L553.74,325.19 L554.08,326.53 L554.40,327.66 L554.58,328.45 L554.76,329.33 L554.92,330.10 L555.08,330.73 L555.24,331.53 L555.40,332.55 L555.55,333.55 L555.70,334.45 L555.85,335.20 L556.01,336.04 L556.17,337.14 L556.33,337.93 L556.50,338.59 L556.73,339.71 L556.97,340.64 L557.22,341.59 L557.46,342.65 L557.71,343.35 L557.95,343.84 L558.20,344.16 L558.41,344.10 L558.63,343.68 L558.85,343.07 L559.07,342.05 L559.29,340.99 L559.50,340.15 L559.72,339.24 L559.92,337.99 L560.12,336.93 L560.30,336.10 L560.43,335.36 L560.56,334.51 L560.69,333.87 L560.81,333.25 L560.92,332.50 L561.03,331.62 L561.14,330.80 L561.24,329.96 L561.34,329.26 L561.44,328.45 L561.54,327.65 L561.63,326.99 L561.72,326.09 L561.82,325.08 L561.91,324.30 L562.00,323.51 L562.07,322.67 L562.14,321.93 L562.20,321.31 L562.27,320.43 L562.33,319.71 L562.39,318.92 L562.45,318.08 L562.50,317.36 L562.56,316.71 L562.62,315.76 L562.67,314.81 L562.72,314.21 L562.77,313.25 L562.83,312.29 L562.88,311.62 L562.93,310.81 L562.98,310.03 L563.04,309.08 L563.09,308.32 L563.14,307.46 L563.20,306.49 L563.26,305.76 L563.31,304.94 L563.37,304.11 L563.44,303.48 L563.50,302.78 L563.56,301.88 L563.62,300.95 L563.67,299.88 L563.71,298.96 L563.74,298.24 L563.78,297.40 L563.81,296.23 L563.84,295.28 L563.87,294.50 L563.90,293.59 L563.94,292.61 L563.98,291.62 L564.03,290.76 L564.08,289.79 L564.15,289.11 L564.22,288.20 L564.30,287.28 L564.40,286.78 L564.51,286.10 L564.63,285.22 L564.77,284.53 L564.93,284.03 L565.10,283.44 L565.30,282.87 L565.81,282.03 L566.39,281.44 L567.02,281.01 L567.67,280.67 L568.30,280.03 L568.84,279.35 L569.39,278.53 L569.96,277.65 L570.52,276.83 L571.07,276.05 L571.60,275.64 L572.10,275.66 L572.55,275.81 L572.98,276.28 L573.40,276.85 L573.81,277.58 L574.19,278.47 L574.55,279.46 L574.89,280.53 L575.20,281.74 L575.35,282.27 L575.49,282.85 L575.61,283.59 L575.73,284.12 L575.83,284.71 L575.92,285.59 L576.00,286.40 L576.07,287.27 L576.14,288.10 L576.20,289.03 L576.25,289.94 L576.30,290.75 L576.34,291.77 L576.39,292.85 L576.43,293.60 L576.47,294.44 L576.50,295.34 L576.54,296.36 L576.59,297.15 L576.63,297.80 L576.68,298.87 L576.73,299.81 L576.79,300.48 L576.85,301.05 L576.92,301.77 L577.00,302.56 L577.13,303.66 L577.25,304.67 L577.38,305.78 L577.51,306.88 L577.64,307.97 L577.78,309.04 L577.92,310.08 L578.06,311.03 L578.21,311.86 L578.37,312.27 L578.53,312.71 L578.70,312.80 L578.91,312.45 L579.14,312.14 L579.38,311.65 L579.62,310.84 L579.87,309.70 L580.12,308.64 L580.36,307.58 L580.59,306.32 L580.80,305.24 L580.93,304.63 L581.06,303.98 L581.18,303.06 L581.30,302.28 L581.41,301.49 L581.53,300.66 L581.63,300.01 L581.74,299.20 L581.84,298.30 L581.94,297.76 L582.05,296.86 L582.15,296.05 L582.25,295.25 L582.35,294.31 L582.46,293.48 L582.56,292.66 L582.67,291.67 L582.78,290.93 L582.90,290.22 L583.00,289.40 L583.09,288.46 L583.19,287.60 L583.28,286.59 L583.37,285.67 L583.46,284.88 L583.55,283.98 L583.64,283.07 L583.73,281.94 L583.81,281.05 L583.91,279.95 L584.00,278.81 L584.09,278.06 L584.19,277.00 L584.28,276.19 L584.38,275.37 L584.49,274.30 L584.60,273.40 L584.71,272.51 L584.82,271.77 L584.95,271.01 L585.07,270.44 L585.21,269.98 L585.34,269.32 L585.49,268.70 L585.64,268.35 L585.80,268.09 L586.52,266.80 L587.30,266.42 L587.70,266.91 L588.13,267.66 L588.57,268.48 L589.01,269.72 L589.45,270.67 L589.89,271.33 L590.30,271.60 L590.60,271.46 L590.89,271.22 L591.17,270.54 L591.44,269.76 L591.70,268.95 L591.97,268.12 L592.24,267.10 L592.51,266.02 L592.80,264.99 L593.09,264.16 L593.40,263.50 L593.75,262.54 L594.10,261.64 L594.47,260.61 L594.84,259.51 L595.22,258.51 L595.61,257.65 L596.00,256.95 L596.39,256.33 L596.80,255.94 L597.20,255.84 L597.80,256.01 L598.43,256.29 L599.07,256.93 L599.67,257.94 L600.20,258.96 L600.54,259.52 L600.82,260.44 L601.07,261.47 L601.28,262.75 L601.49,264.02 L601.70,264.95 L601.93,265.66 L602.19,266.26 L602.50,266.56 L602.94,266.12 L603.43,265.36 L603.94,264.26 L604.46,262.97 L604.99,262.03 L605.50,261.81 L605.88,261.90 L606.27,262.43 L606.67,263.04 L607.07,263.87 L607.46,264.84 L607.85,265.68 L608.23,266.77 L608.60,267.71 L608.96,268.51 L609.30,269.50 L609.58,270.42 L609.85,271.23 L610.10,271.89 L610.34,272.59 L610.58,273.51 L610.81,274.58 L611.03,275.35 L611.25,276.06 L611.48,277.10 L611.70,278.02 L611.93,278.68 L612.16,279.41 L612.40,280.00 L612.70,280.97 L613.00,282.03 L613.29,282.92 L613.59,283.81 L613.89,284.63 L614.21,285.27 L614.55,285.85 L614.90,286.06 L615.30,285.94 L615.73,285.61 L616.18,284.76 L616.64,283.96 L617.10,282.99 L617.55,282.04 L617.99,280.95 L618.40,280.16 L618.71,279.48 L618.99,278.65 L619.26,277.79 L619.52,276.90 L619.77,275.90 L620.02,275.00 L620.27,274.43 L620.54,273.68 L620.83,272.81 L621.15,272.30 L621.50,271.89 L622.20,271.01 L622.97,270.11 L623.75,269.52 L624.50,269.53 L624.94,269.79 L625.36,270.43 L625.76,271.17 L626.16,272.06 L626.55,273.17 L626.97,274.37 L627.41,275.18 L627.88,275.80 L628.40,276.08 L629.10,276.14 L629.87,275.78 L630.67,275.26 L631.48,274.81 L632.26,274.50 L633.00,274.43 L633.81,274.57 L634.62,275.10 L635.38,275.62 L636.08,276.24 L636.70,277.19 L637.05,277.96 L637.35,278.66 L637.60,279.65 L637.81,280.98 L638.00,282.24 L638.17,283.16 L638.34,283.89 L638.51,284.82 L638.69,285.33 L638.90,285.46 L639.08,285.46 L639.26,285.02 L639.42,284.56 L639.59,283.84 L639.75,282.93 L639.91,281.96 L640.08,281.05 L640.26,279.97 L640.45,279.08 L640.66,278.14 L640.88,276.90 L641.13,275.86 L641.40,275.11 L641.73,274.49 L642.07,273.72 L642.43,272.91 L642.80,272.07 L643.20,271.19 L643.61,270.41 L644.04,269.72 L644.50,268.90 L644.97,268.25 L645.47,267.71 L646.00,267.05 L646.62,266.23 L647.28,265.58 L647.98,265.01 L648.70,264.44 L649.44,263.79 L650.20,263.23 L650.97,262.97 L651.74,262.62 L652.50,262.25 L653.28,262.09 L654.08,261.79 L654.88,261.56 L655.69,261.36 L656.51,261.22 L657.34,261.43 L658.17,261.57 L659.00,261.49 L659.82,261.55 L660.66,261.60 L661.53,261.67 L662.39,261.97 L663.26,262.00 L664.10,262.22 L664.91,262.55 L665.68,262.90 L666.40,263.16 L667.10,263.51 L667.76,263.98 L668.40,264.72 L668.99,265.22 L669.56,265.73 L670.10,266.45 L670.61,267.27 L671.10,267.93 L671.62,268.76 L672.06,269.61 L672.45,270.55 L672.85,271.60 L673.29,272.18 L673.80,272.41 L674.48,272.19 L675.22,271.50 L676.00,270.52 L676.80,269.73 L677.60,269.49 L678.13,269.77 L678.68,270.28 L679.24,270.92 L679.80,271.63 L680.36,272.19 L680.93,272.96 L681.48,273.87 L682.04,274.77 L682.57,275.60 L683.10,276.22 L683.60,276.91 L684.10,277.58 L684.59,278.18 L685.08,278.91 L685.55,279.58 L686.03,279.99 L686.49,280.68 L686.94,281.25 L687.38,281.91 L687.80,282.65 L688.22,283.49 L688.62,284.45 L689.01,285.31 L689.39,286.19 L689.76,287.08 L690.12,288.19 L690.48,289.12 L690.82,289.58 L691.16,289.86 L691.50,289.94 L691.88,289.93 L692.25,289.44 L692.60,288.50 L692.95,287.55 L693.29,286.62 L693.62,285.46 L693.96,284.45 L694.30,283.48 L694.61,282.53 L694.90,281.67 L695.17,280.74 L695.45,279.71 L695.73,278.76 L696.03,277.69 L696.35,276.83 L696.71,276.29 L697.10,276.20 L697.65,276.35 L698.26,276.93 L698.90,278.03 L699.56,279.07 L700.20,279.63 L700.80,279.82 L701.27,279.76 L701.75,279.20 L702.23,278.41 L702.70,277.47 L703.15,276.59 L703.57,275.62 L703.94,274.74 L704.26,273.99 L704.50,273.31" stroke="#f00" class="cv"/>
<path d="M41.00,180.58 L41.41,180.66 L41.85,180.71 L42.30,180.53 L42.78,180.36 L43.27,180.47 L43.78,180.52 L44.31,180.70 L44.86,180.79 L45.43,180.74 L46.02,180.71 L46.62,180.74 L47.24,180.59 L47.88,180.58 L48.53,180.55 L49.19,180.76 L49.88,180.64 L50.57,180.72 L51.28,180.64 L52.01,180.69 L52.75,180.72 L53.50,180.67 L54.26,180.85 L55.04,180.67 L55.82,180.49 L56.62,180.82 L57.43,180.89 L58.25,180.65 L59.08,180.88 L59.92,181.09 L60.76,180.79 L61.62,180.71 L62.49,180.69 L63.36,180.70 L64.24,180.86 L65.13,180.78 L66.02,180.87 L66.92,180.78 L67.83,180.68 L68.74,180.95 L69.66,180.96 L70.58,180.88 L71.50,180.96 L72.43,180.97 L73.36,180.92 L74.30,180.78 L75.23,180.96 L76.17,181.22 L77.11,181.30 L78.06,181.20 L79.00,181.02 L79.94,180.96 L80.89,181.10 L81.83,181.18 L82.77,180.99 L83.71,180.91 L84.65,181.00 L85.59,181.09 L86.52,181.25 L87.45,181.22 L88.38,180.99 L89.30,181.18 L90.22,181.24 L91.14,181.19 L92.04,181.12 L92.95,181.14 L93.85,181.19 L94.74,181.33 L95.62,181.19 L96.50,181.21 L97.37,181.20 L98.23,181.31 L99.09,181.21 L99.93,181.15 L100.77,181.25 L101.59,181.39 L102.41,181.26 L103.21,181.28 L104.01,181.31 L104.79,181.29 L105.56,181.39 L106.32,181.63 L107.07,181.59 L107.80,181.66 L108.69,181.51 L109.57,181.61 L110.45,181.60 L111.34,181.42 L112.22,181.59 L113.10,181.80 L113.98,181.52 L114.86,181.41 L115.73,181.66 L116.61,181.64 L117.48,181.51 L118.35,181.40 L119.22,181.37 L120.09,181.59 L120.96,181.86 L121.82,181.96 L122.68,181.79 L123.54,181.51 L124.39,181.50 L125.24,181.75 L126.09,181.88 L126.94,181.83 L127.78,181.64 L128.62,181.66 L129.46,181.72 L130.29,181.77 L131.12,181.69 L131.94,181.86 L132.76,182.02 L133.58,181.75 L134.39,181.64 L135.20,181.90 L136.01,181.84 L136.80,181.96 L137.60,181.98 L138.39,181.97 L139.17,182.04 L139.95,181.89 L140.73,181.83 L141.50,181.87 L142.26,182.05 L143.02,182.19 L143.78,182.03 L144.52,182.21 L145.26,182.27 L146.00,182.14 L146.73,182.21 L147.45,182.51 L148.17,182.55 L148.88,182.53 L149.58,182.71 L150.28,182.87 L150.97,182.87 L151.65,182.77 L152.33,182.83 L153.00,183.07 L153.95,183.22 L154.88,183.25 L155.81,183.25 L156.73,183.34 L157.63,183.62 L158.53,183.79 L159.41,183.71 L160.29,183.99 L161.15,184.39 L162.01,184.56 L162.85,184.74 L163.69,184.95 L164.51,185.00 L165.32,185.18 L166.12,185.28 L166.92,185.27 L167.70,185.49 L168.47,185.73 L169.23,186.14 L169.98,186.40 L170.72,186.49 L171.45,186.69 L172.17,186.74 L172.87,186.97 L173.57,187.34 L174.26,187.48 L174.93,187.57 L175.60,187.81 L176.48,188.12 L177.31,188.55 L178.12,188.79 L178.89,188.99 L179.64,189.42 L180.37,189.98 L181.08,190.46 L181.79,190.81 L182.49,191.24 L183.19,191.45 L183.90,191.52 L184.62,191.91 L185.36,192.29 L186.11,192.45 L186.90,192.78 L187.68,192.98 L188.46,193.05 L189.23,193.23 L190.01,193.63 L190.79,193.59 L191.57,193.62 L192.36,193.79 L193.16,193.84 L193.98,193.99 L194.81,194.03 L195.65,194.28 L196.51,194.32 L197.40,194.29 L198.31,194.13 L199.24,194.07 L200.20,194.13 L200.86,194.19 L201.53,193.95 L202.22,193.78 L202.91,193.86 L203.62,193.81 L204.34,193.43 L205.06,193.23 L205.80,193.21 L206.55,192.93 L207.30,192.74 L208.07,192.59 L208.84,192.47 L209.62,192.16 L210.41,191.86 L211.20,191.53 L212.01,191.33 L212.82,191.02 L213.63,190.73 L214.45,190.46 L215.28,190.14 L216.11,189.81 L216.95,189.54 L217.79,189.42 L218.63,189.14 L219.48,188.74 L220.34,188.72 L221.19,188.48 L222.05,188.37 L222.91,188.19 L223.77,187.82 L224.64,187.75 L225.50,187.69 L226.37,187.32 L227.23,186.96 L228.10,186.96 L228.85,187.05 L229.61,186.91 L230.37,186.82 L231.15,186.63 L231.93,186.52 L232.72,186.35 L233.51,186.24 L234.32,186.18 L235.12,186.10 L235.94,186.04 L236.76,186.12 L237.58,185.92 L238.41,185.72 L239.25,185.69 L240.08,185.90 L240.92,185.86 L241.76,185.53 L242.61,185.66 L243.46,185.81 L244.31,185.76 L245.15,185.55 L246.01,185.54 L246.86,185.44 L247.71,185.25 L248.56,185.44 L249.41,185.58 L250.25,185.32 L251.10,185.39 L251.94,185.23 L252.79,185.11 L253.62,185.05 L254.46,185.03 L255.29,185.05 L256.12,185.23 L256.94,185.21 L257.76,185.06 L258.57,185.03 L259.38,185.07 L260.18,185.29 L260.97,185.33 L261.75,185.08 L262.53,185.17 L263.30,185.25 L264.07,185.19 L264.82,185.20 L265.56,185.26 L266.30,185.34 L267.20,185.28 L268.11,185.26 L269.01,185.24 L269.91,185.27 L270.82,185.23 L271.72,185.20 L272.61,185.26 L273.51,185.38 L274.40,185.30 L275.28,185.45 L276.16,185.48 L277.04,185.54 L277.91,185.60 L278.77,185.69 L279.62,185.70 L280.47,185.58 L281.30,185.56 L282.13,185.67 L282.94,185.82 L283.75,185.94 L284.54,185.76 L285.32,185.62 L286.09,185.69 L286.85,185.75 L287.59,185.80 L288.31,185.84 L289.02,185.99 L289.72,186.07 L290.40,186.32 L291.06,186.51 L291.70,186.70 L292.65,186.89 L293.58,186.89 L294.48,186.98 L295.35,186.75 L296.20,186.67 L297.01,187.04 L297.80,187.14 L298.56,187.06 L299.29,187.36 L299.99,187.59 L300.66,187.83 L301.29,188.12 L301.90,188.46 L302.44,188.87 L302.94,189.58 L303.41,190.45 L303.84,191.22 L304.24,191.88 L304.61,192.66 L304.96,193.30 L305.29,193.97 L305.61,195.03 L305.90,195.93 L306.19,196.74 L306.47,197.38 L306.75,198.15 L307.02,199.13 L307.30,200.08 L307.57,200.96 L307.83,201.74 L308.07,202.37 L308.29,203.09 L308.51,204.07 L308.71,205.04 L308.91,205.70 L309.10,206.29 L309.28,207.18 L309.45,208.07 L309.63,208.80 L309.80,209.53 L309.96,210.37 L310.13,211.30 L310.30,211.99 L310.46,212.84 L310.60,213.92 L310.73,214.79 L310.84,215.41 L310.95,216.21 L311.05,216.99 L311.16,217.99 L311.26,218.96 L311.38,219.60 L311.50,220.45 L311.64,221.36 L311.79,222.15 L311.97,222.84 L312.17,223.50 L312.40,224.20 L312.73,225.25 L313.10,225.93 L313.51,226.56 L313.94,227.29 L314.39,227.86 L314.84,228.54 L315.28,229.20 L315.69,229.87 L316.07,230.60 L316.40,231.31 L316.70,232.28 L316.96,232.96 L317.20,233.58 L317.41,234.48 L317.61,235.24 L317.80,236.00 L317.99,236.86 L318.19,237.48 L318.40,238.36 L318.61,239.16 L318.83,240.06 L319.05,241.35 L319.26,242.63 L319.48,243.61 L319.69,244.33 L319.90,245.15 L320.11,245.82 L320.31,246.42 L320.50,246.49 L320.65,246.21 L320.79,246.05 L320.93,245.67 L321.07,245.01 L321.20,244.19 L321.33,243.46 L321.45,242.44 L321.58,241.47 L321.71,240.33 L321.83,239.15 L321.96,238.07 L322.09,237.13 L322.22,236.25 L322.36,235.17 L322.50,234.35 L322.66,233.55 L322.81,232.50 L322.95,231.44 L323.09,230.39 L323.23,229.37 L323.38,228.27 L323.55,227.26 L323.74,226.36 L323.96,225.98 L324.21,225.71 L324.50,225.33 L325.03,225.68 L325.65,226.55 L326.30,227.20 L326.94,228.05 L327.50,228.35 L327.98,227.75 L328.41,226.71 L328.80,225.60 L329.19,224.54 L329.60,224.03 L330.10,224.52 L330.60,225.65 L331.11,226.69 L331.60,227.08 L331.91,227.05 L332.21,226.39 L332.51,225.37 L332.81,224.31 L333.10,223.28 L333.39,221.97 L333.67,220.88 L333.94,220.49 L334.20,220.43 L334.40,220.63 L334.59,220.96 L334.78,221.51 L334.96,222.31 L335.13,223.57 L335.31,224.83 L335.47,225.91 L335.64,227.13 L335.80,228.14 L335.96,229.15 L336.12,230.24 L336.28,230.74 L336.44,231.19 L336.60,231.31 L336.75,231.30 L336.89,231.07 L337.01,230.39 L337.12,229.48 L337.23,228.35 L337.34,227.40 L337.46,226.37 L337.58,225.24 L337.72,224.03 L337.86,223.20 L338.03,222.29 L338.23,221.37 L338.45,220.81 L338.70,220.42 L339.68,219.78 L340.70,219.23 L341.07,218.85 L341.43,218.13 L341.77,217.47 L342.11,216.47 L342.43,215.66 L342.75,214.84 L343.06,213.90 L343.38,213.16 L343.70,212.12 L344.01,211.21 L344.30,210.60 L344.60,209.87 L344.89,208.96 L345.18,208.17 L345.48,207.38 L345.77,206.60 L346.07,205.75 L346.38,204.79 L346.70,203.89 L347.01,203.00 L347.31,202.14 L347.61,201.29 L347.91,200.77 L348.22,199.86 L348.54,199.03 L348.89,198.20 L349.26,197.66 L349.66,197.03 L350.10,196.19 L350.66,195.71 L351.27,195.31 L351.91,194.85 L352.58,194.15 L353.28,193.62 L353.98,193.38 L354.70,192.96 L355.54,192.62 L356.41,192.45 L357.30,192.27 L358.22,192.11 L359.15,191.93 L360.10,191.58 L360.95,191.51 L361.90,191.40 L362.89,191.14 L363.87,190.95 L364.81,191.07 L365.66,191.06 L366.37,190.86 L366.90,190.90" stroke="#00f" class="cv"/>
<path d="M378.70,192.47 L379.21,191.86 L379.87,191.97 L380.66,192.19 L381.54,192.49 L382.49,192.42 L383.48,192.63 L384.48,192.44 L385.48,192.79 L386.43,192.90 L387.31,192.59 L388.10,192.74 L388.96,193.24 L389.76,193.22 L390.53,193.48 L391.28,193.66 L392.01,193.76 L392.75,194.02 L393.50,194.15 L394.25,194.09 L394.96,194.22 L395.67,193.86 L396.39,193.62 L397.14,193.49 L397.94,193.19 L398.80,193.01 L399.50,192.69 L400.26,192.56 L401.08,192.78 L401.93,192.70 L402.81,192.33 L403.70,192.51 L404.60,192.81 L405.48,192.66 L406.35,192.52 L407.19,192.61 L407.99,193.06 L408.73,193.38 L409.40,193.26 L410.39,192.80 L411.21,192.08 L411.99,191.51 L412.85,191.63 L413.90,191.60 L414.48,191.40 L415.11,191.10 L415.79,190.87 L416.50,190.86 L417.25,190.82 L418.02,191.12 L418.83,191.14 L419.65,191.18 L420.50,191.23 L421.36,191.27 L422.23,191.49 L423.11,191.64 L423.99,191.24 L424.87,191.55 L425.74,191.89 L426.60,191.84 L427.45,191.59 L428.29,191.79 L429.10,191.94 L429.91,191.47 L430.72,191.52 L431.54,191.86 L432.37,191.86 L433.20,191.92 L434.04,191.72 L434.87,191.65 L435.71,191.29 L436.54,191.43 L437.36,191.34 L438.18,191.52 L439.00,191.94 L439.80,191.67 L440.59,191.23 L441.36,191.11 L442.13,191.48 L442.87,191.51 L443.60,191.83 L444.30,192.09 L445.24,192.07 L446.19,192.25 L447.13,192.08 L448.05,192.18 L448.95,192.17 L449.82,192.49 L450.65,193.10 L451.43,192.98 L452.16,193.32 L452.82,194.09 L453.40,194.11 L454.06,194.23 L454.60,194.78 L455.05,195.86 L455.43,196.30 L455.77,197.23 L456.10,198.06 L456.29,198.77 L456.45,199.76 L456.58,200.50 L456.69,200.75 L456.78,201.47 L456.85,202.29 L456.92,203.42 L456.97,204.12 L457.02,204.62 L457.06,205.61 L457.11,206.38 L457.16,207.21 L457.23,208.50 L457.31,209.32 L457.40,209.89 L457.50,211.21 L457.60,212.03 L457.70,213.10 L457.81,214.33 L457.91,215.28 L458.02,216.39 L458.13,217.50 L458.24,218.74 L458.36,219.81 L458.47,220.42 L458.60,221.42 L458.72,222.33 L458.85,223.27 L458.98,223.49 L459.12,223.79 L459.26,224.61 L459.40,224.31 L459.61,224.19 L459.84,224.13 L460.08,223.26 L460.33,221.79 L460.57,220.99 L460.82,219.86 L461.06,218.72 L461.29,218.07 L461.50,217.02 L461.71,215.79 L461.88,214.66 L462.04,213.78 L462.22,212.87 L462.46,212.55 L462.80,212.63 L463.37,212.42 L464.09,213.25 L464.86,214.71 L465.59,215.67 L466.20,215.56 L466.50,215.28 L466.75,215.05 L466.97,214.34 L467.15,213.79 L467.32,213.03 L467.46,212.03 L467.60,210.42 L467.74,208.93 L467.88,208.32 L468.03,207.72 L468.20,206.77 L468.45,205.65 L468.68,205.15 L468.92,204.60 L469.21,203.28 L469.60,202.29 L470.16,202.11 L470.82,201.62 L471.55,200.76 L472.30,200.66 L472.94,200.06 L473.64,198.96 L474.36,198.45 L475.08,198.08 L475.73,197.91 L476.30,198.06 L476.82,197.95 L477.26,198.54 L477.64,199.87 L477.98,200.73 L478.30,201.77 L478.49,202.61 L478.66,203.24 L478.81,203.82 L478.95,204.13 L479.07,205.31 L479.18,206.06 L479.28,206.58 L479.38,207.58 L479.48,208.55 L479.59,209.58 L479.70,210.36 L479.80,211.39 L479.88,212.42 L479.93,213.26 L479.98,213.97 L480.02,215.09 L480.08,216.19 L480.14,217.29 L480.23,217.97 L480.36,218.92 L480.52,219.80 L480.73,219.91 L481.00,220.56 L482.05,220.95 L483.10,220.35 L483.37,219.88 L483.57,219.30 L483.72,218.90 L483.83,218.34 L483.91,217.14 L483.97,215.99 L484.02,214.98 L484.08,213.73 L484.15,213.20 L484.26,212.41 L484.40,211.22 L484.68,210.20 L484.96,209.51 L485.32,209.10 L485.80,208.11 L486.25,207.20 L486.79,207.13 L487.39,206.47 L488.03,206.05 L488.69,205.12 L489.36,204.19 L490.00,203.79 L490.68,203.44 L491.35,203.13 L492.03,202.56 L492.74,202.45 L493.49,202.29 L494.30,201.56 L494.96,201.35 L495.68,201.13 L496.42,200.82 L497.20,200.27 L497.99,199.43 L498.80,199.23 L499.60,198.78 L500.39,198.52 L501.16,198.85 L501.90,198.46 L502.78,198.08 L503.64,198.08 L504.49,197.72 L505.33,197.10 L506.17,196.83 L507.02,196.51 L507.90,196.82 L508.64,197.21 L509.39,197.24 L510.16,197.61 L510.94,198.48 L511.71,198.65 L512.49,198.92 L513.26,199.79 L514.02,200.50 L514.77,200.67 L515.50,200.71 L516.30,200.17 L517.07,199.93 L517.84,199.69 L518.59,198.77 L519.34,198.30 L520.09,197.82 L520.84,197.40 L521.60,197.64 L522.36,198.01 L523.11,197.79 L523.86,197.95 L524.61,198.95 L525.36,199.99 L526.13,200.41 L526.90,200.41 L527.70,200.70 L528.43,200.90 L529.19,200.07 L529.96,199.20 L530.74,198.94 L531.53,198.75 L532.31,198.17 L533.09,197.52 L533.85,196.86 L534.59,196.45 L535.30,196.31 L536.01,196.76 L536.69,197.25 L537.35,197.97 L537.99,198.73 L538.63,199.30 L539.27,200.23 L539.92,200.72 L540.60,201.02 L541.30,201.25 L541.95,201.35 L542.63,201.41 L543.32,200.96 L544.03,199.80 L544.74,199.41 L545.46,198.99 L546.17,198.37 L546.88,197.44 L547.57,196.69 L548.25,196.36 L548.90,196.29 L549.73,196.35 L550.58,196.90 L551.42,197.47 L552.23,197.58 L552.98,197.69 L553.65,198.26 L554.20,198.69 L554.61,199.25 L554.91,200.15 L555.12,201.35 L555.26,202.29 L555.37,202.68 L555.46,203.85 L555.56,205.32 L555.70,206.41 L555.79,206.49 L555.88,207.11 L555.96,208.27 L556.05,208.68 L556.13,209.33 L556.20,210.31 L556.28,211.37 L556.35,212.25 L556.42,212.77 L556.49,213.54 L556.56,214.19 L556.62,215.33 L556.69,216.09 L556.75,217.01 L556.81,217.74 L556.87,218.81 L556.93,220.05 L557.00,220.48 L557.06,221.25 L557.12,222.11 L557.18,223.13 L557.24,223.97 L557.30,225.19 L557.36,226.26 L557.41,226.53 L557.46,227.21 L557.51,228.27 L557.56,229.19 L557.61,230.45 L557.66,231.82 L557.70,232.79 L557.75,233.76 L557.79,234.59 L557.84,235.69 L557.88,237.15 L557.93,237.80 L557.97,238.52 L558.02,239.76 L558.06,240.79 L558.11,241.41 L558.16,242.47 L558.21,243.63 L558.26,244.04 L558.31,244.73 L558.36,245.43 L558.42,245.66 L558.48,245.53 L558.54,245.68 L558.60,246.15 L558.70,246.15 L558.80,245.51 L558.90,244.65 L559.01,243.87 L559.12,243.16 L559.23,242.59 L559.35,241.50 L559.46,240.32 L559.57,239.03 L559.68,237.94 L559.79,236.76 L559.90,235.49 L560.00,234.57 L560.07,234.16 L560.14,233.63 L560.21,232.96 L560.27,231.94 L560.33,231.13 L560.38,230.60 L560.43,229.21 L560.49,228.28 L560.54,227.41 L560.59,226.89 L560.65,225.76 L560.70,224.61 L560.76,223.84 L560.82,223.26 L560.89,222.53 L560.96,221.19 L561.03,220.36 L561.11,219.66 L561.20,218.67 L561.29,217.72 L561.39,217.25 L561.50,217.01 L561.67,216.29 L561.86,214.74 L562.05,213.30 L562.26,212.48 L562.48,211.54 L562.70,210.37 L562.92,209.22 L563.15,208.85 L563.37,208.27 L563.59,207.62 L563.80,207.61 L564.01,207.62 L564.22,208.29 L564.43,209.08 L564.65,210.13 L564.86,211.65 L565.07,213.11 L565.28,214.53 L565.49,215.51 L565.70,215.81 L565.90,216.49 L566.10,216.70 L566.27,216.36 L566.43,216.27 L566.57,215.67 L566.71,215.16 L566.84,214.27 L566.98,212.85 L567.12,211.59 L567.26,210.42 L567.43,209.92 L567.61,209.27 L567.81,207.94 L568.04,207.14 L568.30,206.46 L568.68,205.48 L569.10,204.55 L569.56,203.72 L570.04,202.48 L570.54,201.82 L571.05,201.27 L571.58,200.52 L572.10,199.83 L572.84,199.49 L573.60,199.39 L574.38,199.07 L575.20,198.36 L576.15,197.85 L577.18,198.12 L578.17,198.44 L579.00,198.38 L579.41,198.52 L579.75,199.74 L580.02,201.01 L580.25,201.88 L580.44,202.60 L580.62,203.07 L580.79,203.97 L580.98,205.01 L581.20,205.96 L581.48,207.38 L581.76,208.76 L582.04,209.38 L582.32,210.36 L582.59,211.67 L582.85,212.52 L583.10,212.46 L583.26,211.85 L583.39,211.63 L583.50,210.81 L583.60,210.19 L583.69,209.64 L583.78,208.66 L583.89,207.49 L584.00,205.91 L584.13,204.79 L584.29,203.72 L584.49,202.52 L584.72,202.20 L585.00,201.44 L585.69,200.55 L586.50,199.85 L587.34,199.43 L588.10,199.24 L588.88,199.96 L589.59,201.42 L590.30,201.54 L590.85,201.19 L591.36,200.49 L591.92,199.72 L592.60,198.67 L593.26,198.33 L594.01,197.89 L594.82,196.85 L595.65,196.28 L596.46,196.31 L597.20,196.38 L598.21,196.80 L599.17,197.06 L600.20,197.26 L600.91,196.97 L601.68,196.22 L602.49,195.86 L603.31,195.24 L604.10,194.26 L604.84,193.85 L605.50,193.68 L606.15,194.38 L606.74,195.39 L607.28,196.27 L607.76,196.88 L608.20,197.45 L608.60,198.61 L608.84,199.53 L609.03,200.68 L609.18,201.44 L609.30,202.60 L609.40,203.64 L609.49,204.58 L609.57,205.74 L609.67,206.51 L609.78,206.74 L609.92,207.07 L610.10,207.67 L610.34,207.74 L610.58,207.02 L610.85,206.12 L611.13,205.52 L611.42,204.34 L611.73,202.98 L612.06,202.01 L612.40,201.51 L612.85,200.68 L613.35,199.58 L613.86,198.97 L614.39,197.69 L614.91,197.16 L615.40,196.98 L615.80,196.98 L616.20,197.40 L616.60,198.08 L617.00,198.78 L617.38,199.67 L617.74,200.95 L618.08,202.48 L618.40,203.00 L618.64,203.82 L618.87,204.78 L619.07,205.75 L619.26,206.78 L619.44,208.07 L619.61,209.09 L619.77,209.91 L619.93,210.63 L620.08,211.44 L620.24,212.23 L620.40,212.14 L620.53,212.00 L620.63,211.60 L620.72,211.08 L620.80,210.37 L620.87,209.86 L620.94,208.71 L621.01,207.88 L621.09,206.62 L621.18,205.64 L621.29,204.58 L621.41,203.42 L621.56,202.33 L621.74,201.42 L621.95,200.85 L622.20,200.26 L622.58,199.43 L623.01,198.28 L623.47,197.46 L623.97,197.07 L624.50,196.22 L625.06,195.64 L625.63,195.21 L626.21,194.21 L626.80,193.83 L627.67,193.60 L628.62,193.59 L629.59,193.26 L630.50,193.58 L631.30,194.43 L631.81,195.00 L632.24,195.84 L632.62,196.27 L632.96,197.10 L633.29,198.18 L633.62,199.29 L633.99,199.66 L634.40,200.26 L634.87,200.10 L635.34,199.19 L635.83,198.62 L636.34,197.88 L636.88,197.10 L637.46,196.04 L638.10,195.49 L638.90,195.20 L639.79,194.95 L640.73,195.04 L641.68,195.36 L642.61,194.82 L643.50,194.90 L644.30,194.59 L645.09,194.10 L645.85,193.93 L646.61,193.61 L647.36,193.42 L648.10,192.79 L648.92,192.27 L649.74,192.06 L650.54,191.38 L651.33,191.06 L652.10,191.37 L652.72,191.29 L653.32,191.46 L653.91,192.25 L654.49,193.20 L655.06,193.93 L655.63,194.73 L656.20,195.38 L656.78,196.05 L657.35,196.97 L657.91,197.68 L658.47,197.84 L659.04,198.21 L659.61,199.08 L660.20,199.64 L660.87,200.30 L661.58,200.79 L662.29,201.46 L662.99,202.04 L663.66,202.63 L664.30,203.59 L664.95,204.55 L665.57,204.71 L666.15,205.38 L666.73,206.47 L667.30,206.87 L667.84,207.81 L668.38,208.57 L668.91,209.54 L669.42,209.95 L669.90,210.00 L670.28,209.88 L670.61,209.02 L670.92,208.27 L671.23,206.90 L671.57,205.95 L671.95,205.36 L672.40,204.84 L673.34,204.20 L674.39,204.01 L675.40,203.31 L676.03,202.92 L676.62,202.02 L677.20,201.56 L677.82,201.33 L678.50,200.28 L679.24,200.39 L680.03,200.74 L680.85,200.90 L681.68,201.31 L682.50,201.13 L683.33,200.89 L684.18,200.77 L685.02,200.33 L685.83,200.16 L686.60,200.35 L687.41,200.52 L688.18,200.86 L688.91,201.16 L689.60,201.14 L690.28,201.71 L690.91,203.26 L691.51,204.39 L692.10,204.78 L692.45,204.17 L692.78,203.54 L693.09,202.55 L693.39,201.94 L693.71,201.17 L694.03,200.07 L694.38,199.27 L694.77,198.66 L695.20,197.71 L696.00,197.84 L696.88,198.50 L697.79,199.15 L698.70,199.17 L699.39,198.99 L700.12,199.13 L700.84,198.62 L701.55,197.94 L702.21,197.50 L702.80,197.10 L703.80,196.13 L704.50,195.82" stroke="#00f" class="cv"/>
<path d="M41.00,151.28 L41.41,151.41 L41.85,151.49 L42.30,151.54 L42.78,151.37 L43.27,151.25 L43.78,151.23 L44.31,151.23 L44.86,151.39 L45.43,151.31 L46.02,151.30 L46.62,151.28 L47.24,151.24 L47.88,151.29 L48.53,151.43 L49.20,151.44 L49.88,151.21 L50.57,151.16 L51.28,151.17 L52.01,151.36 L52.75,151.48 L53.50,151.45 L54.26,151.45 L55.04,151.43 L55.82,151.46 L56.62,151.45 L57.43,151.25 L58.25,151.31 L59.08,151.31 L59.92,151.31 L60.77,151.30 L61.62,151.22 L62.49,151.16 L63.36,151.16 L64.24,151.13 L65.13,151.04 L66.02,151.21 L66.92,151.33 L67.83,151.38 L68.74,151.32 L69.66,151.21 L70.58,151.24 L71.50,151.09 L72.43,151.12 L73.36,151.15 L74.30,151.02 L75.23,150.97 L76.17,151.06 L77.12,151.04 L78.06,151.04 L79.00,151.12 L79.94,151.09 L80.89,150.96 L81.83,151.01 L82.77,151.00 L83.71,150.95 L84.65,150.93 L85.59,150.97 L86.52,150.92 L87.45,151.03 L88.38,151.24 L89.30,151.13 L90.22,151.11 L91.14,151.24 L92.05,151.02 L92.95,150.87 L93.85,151.09 L94.74,151.24 L95.62,151.19 L96.50,151.01 L97.37,150.99 L98.23,151.19 L99.09,151.29 L99.93,151.27 L100.77,151.08 L101.59,151.16 L102.41,151.16 L103.21,151.17 L104.01,151.08 L104.79,151.22 L105.56,151.29 L106.32,151.26 L107.07,151.15 L107.80,151.18 L108.68,151.26 L109.56,151.28 L110.44,151.23 L111.31,151.32 L112.18,151.30 L113.04,151.23 L113.90,151.21 L114.76,151.37 L115.61,151.33 L116.46,151.28 L117.31,151.28 L118.15,151.46 L118.99,151.58 L119.83,151.59 L120.66,151.47 L121.49,151.53 L122.32,151.61 L123.14,151.56 L123.96,151.52 L124.78,151.83 L125.59,151.81 L126.41,151.73 L127.22,151.79 L128.03,151.92 L128.83,151.87 L129.63,151.93 L130.43,152.01 L131.23,152.17 L132.03,152.06 L132.82,152.03 L133.62,152.19 L134.41,152.40 L135.20,152.40 L135.98,152.33 L136.77,152.42 L137.55,152.39 L138.33,152.27 L139.11,152.40 L139.89,152.65 L140.67,152.72 L141.45,152.57 L142.22,152.64 L143.00,152.81 L143.77,152.70 L144.54,152.71 L145.32,152.74 L146.09,152.69 L146.86,152.71 L147.63,152.72 L148.39,152.77 L149.16,152.73 L149.93,152.80 L150.70,152.80 L151.47,152.96 L152.23,153.06 L153.00,152.87 L153.85,153.00 L154.70,152.99 L155.55,152.97 L156.41,153.06 L157.27,153.01 L158.13,152.95 L158.99,152.99 L159.86,152.92 L160.72,153.07 L161.59,152.99 L162.46,153.04 L163.32,152.99 L164.19,152.88 L165.06,152.91 L165.92,152.81 L166.78,152.75 L167.64,152.82 L168.50,152.88 L169.36,153.01 L170.21,153.11 L171.06,152.84 L171.90,152.78 L172.75,152.74 L173.58,152.85 L174.41,152.82 L175.24,152.89 L176.06,152.89 L176.87,152.68 L177.68,152.55 L178.48,152.60 L179.27,152.83 L180.05,152.73 L180.83,152.69 L181.60,152.73 L182.36,152.71 L183.11,152.85 L183.85,152.78 L184.57,152.83 L185.29,152.93 L186.00,153.03 L186.70,152.98 L187.38,153.05 L188.06,153.03 L188.72,153.01 L189.37,153.10 L190.00,153.23 L190.97,153.37 L191.91,153.24 L192.81,153.19 L193.70,153.42 L194.56,153.69 L195.39,153.77 L196.21,153.77 L197.01,154.04 L197.79,154.11 L198.57,154.05 L199.33,154.14 L200.08,154.27 L200.83,154.63 L201.57,154.74 L202.31,154.97 L203.05,155.30 L203.79,155.55 L204.54,155.70 L205.30,155.74 L206.13,155.95 L206.93,156.32 L207.72,156.63 L208.48,156.79 L209.24,157.18 L210.00,157.42 L210.74,157.70 L211.49,158.29 L212.25,158.60 L213.01,158.75 L213.79,159.15 L214.58,159.42 L215.39,159.44 L216.23,159.55 L217.10,159.75 L218.00,159.90 L218.68,160.12 L219.37,160.02 L220.07,160.02 L220.79,160.08 L221.52,159.85 L222.26,159.82 L223.01,159.73 L223.77,159.44 L224.55,159.14 L225.33,158.96 L226.11,158.93 L226.91,158.69 L227.71,158.28 L228.52,158.03 L229.33,157.86 L230.15,157.54 L230.97,157.35 L231.80,157.02 L232.63,156.90 L233.46,156.61 L234.29,156.22 L235.12,156.12 L235.95,155.91 L236.78,155.81 L237.61,155.61 L238.44,155.35 L239.26,155.28 L240.08,155.01 L240.90,154.92 L241.70,154.88 L242.49,154.68 L243.30,154.68 L244.10,154.40 L244.91,154.35 L245.72,154.20 L246.53,154.16 L247.35,153.99 L248.16,153.73 L248.98,153.75 L249.80,153.87 L250.62,153.67 L251.45,153.52 L252.27,153.53 L253.10,153.37 L253.92,153.32 L254.75,153.15 L255.58,153.12 L256.41,153.25 L257.23,153.14 L258.06,152.98 L258.89,152.87 L259.72,153.01 L260.54,153.04 L261.37,153.12 L262.19,153.16 L263.02,152.93 L263.84,153.06 L264.66,153.25 L265.48,153.24 L266.30,153.26 L267.10,153.27 L267.89,153.31 L268.69,153.37 L269.48,153.43 L270.28,153.41 L271.07,153.41 L271.86,153.68 L272.66,153.88 L273.45,153.82 L274.24,154.03 L275.04,154.29 L275.83,154.40 L276.62,154.62 L277.42,154.86 L278.21,154.90 L279.00,155.10 L279.79,155.26 L280.59,155.39 L281.38,155.53 L282.17,155.83 L282.97,155.96 L283.76,156.18 L284.55,156.26 L285.34,156.41 L286.14,156.71 L286.93,156.84 L287.73,156.85 L288.52,156.85 L289.31,157.04 L290.11,157.24 L290.90,157.46 L291.70,157.65 L292.52,157.81 L293.36,157.80 L294.20,157.78 L295.05,157.92 L295.91,158.10 L296.78,158.03 L297.65,158.03 L298.53,158.13 L299.41,158.26 L300.29,158.37 L301.17,158.65 L302.05,158.64 L302.93,158.78 L303.80,158.81 L304.67,158.73 L305.54,159.02 L306.40,158.98 L307.25,158.89 L308.09,158.97 L308.92,159.03 L309.75,159.18 L310.56,159.26 L311.35,159.28 L312.13,159.30 L312.90,159.54 L313.65,159.55 L314.38,159.55 L315.09,159.75 L315.78,159.99 L316.45,160.05 L317.10,160.09 L318.11,160.23 L319.07,160.41 L319.98,160.61 L320.85,160.58 L321.69,160.57 L322.50,160.88 L323.30,161.10 L324.08,161.20 L324.87,161.37 L325.66,161.29 L326.47,161.34 L327.30,161.32 L328.08,161.17 L328.82,160.97 L329.55,160.76 L330.27,160.63 L330.98,160.43 L331.70,160.25 L332.43,159.85 L333.18,159.56 L333.96,159.16 L334.77,158.91 L335.62,158.60 L336.53,158.46 L337.50,158.41 L338.12,158.10 L338.79,158.00 L339.50,157.81 L340.25,157.60 L341.03,157.44 L341.84,157.38 L342.69,157.23 L343.56,157.23 L344.45,157.20 L345.36,157.01 L346.29,156.96 L347.24,156.77 L348.20,156.60 L349.17,156.52 L350.14,156.32 L351.12,156.41 L352.09,156.25 L353.07,156.00 L354.04,156.11 L355.00,156.17 L355.95,155.97 L356.88,155.80 L357.80,155.63 L358.70,155.45 L359.58,155.50 L360.43,155.44 L361.25,155.28 L362.04,155.42 L362.80,155.23 L363.52,155.09 L364.20,155.22 L364.84,155.23 L365.43,154.98 L365.97,154.99 L366.46,155.01 L366.90,154.95" stroke="#008000" class="cv"/>
<path d="M378.70,149.78 L379.20,149.91 L379.87,149.80 L380.67,149.78 L381.55,149.96 L382.48,149.87 L383.41,149.89 L384.29,150.03 L385.10,150.21 L385.91,150.08 L386.73,150.10 L387.53,150.72 L388.32,151.11 L389.06,151.15 L389.76,151.59 L390.40,151.93 L391.05,152.47 L391.62,153.30 L392.14,154.04 L392.61,154.79 L393.06,155.74 L393.50,156.66 L394.01,157.60 L394.47,158.77 L394.92,159.89 L395.40,159.95 L395.74,159.58 L396.09,159.04 L396.43,158.48 L396.79,157.64 L397.17,156.62 L397.57,155.65 L398.00,155.05 L398.46,154.48 L398.94,153.62 L399.44,152.97 L399.96,152.14 L400.53,151.38 L401.14,151.11 L401.80,150.51 L402.55,149.92 L403.38,149.58 L404.26,149.63 L405.17,149.75 L406.09,149.39 L407.01,149.30 L407.90,149.35 L408.77,149.27 L409.65,149.20 L410.54,149.26 L411.42,149.26 L412.28,149.64 L413.11,149.73 L413.90,149.93 L414.64,150.40 L415.36,150.84 L416.05,151.22 L416.72,151.71 L417.35,152.46 L417.95,152.85 L418.50,153.28 L418.97,153.99 L419.39,154.93 L419.76,155.71 L420.11,156.42 L420.44,157.10 L420.78,157.84 L421.12,158.85 L421.50,159.53 L421.95,160.33 L422.40,161.19 L422.86,162.01 L423.33,162.72 L423.81,163.53 L424.30,163.87 L425.12,163.28 L425.97,162.19 L426.80,161.97 L427.17,162.30 L427.54,162.62 L427.90,163.34 L428.25,164.66 L428.60,165.69 L428.95,166.66 L429.29,167.61 L429.62,168.80 L429.95,169.51 L430.28,169.98 L430.60,170.31 L430.93,170.13 L431.25,169.60 L431.57,168.89 L431.88,168.26 L432.19,167.29 L432.49,166.34 L432.79,165.58 L433.09,164.67 L433.40,163.62 L433.70,162.69 L433.99,161.70 L434.27,161.04 L434.53,160.43 L434.79,159.38 L435.06,158.27 L435.33,157.58 L435.63,156.90 L435.95,156.34 L436.30,155.77 L436.70,155.04 L437.38,154.23 L438.13,153.52 L438.92,153.01 L439.72,152.68 L440.50,152.61 L441.07,152.69 L441.66,153.39 L442.24,154.02 L442.83,154.78 L443.40,155.83 L443.96,156.43 L444.49,157.04 L445.00,157.25 L445.56,156.89 L446.06,156.11 L446.53,155.26 L447.01,154.43 L447.52,153.34 L448.10,152.81 L448.80,152.52 L449.56,151.82 L450.35,151.25 L451.14,151.09 L451.90,151.05 L452.57,151.23 L453.23,151.57 L453.88,152.12 L454.51,152.76 L455.12,153.35 L455.70,154.31 L456.13,155.11 L456.52,155.58 L456.87,156.57 L457.21,157.77 L457.55,158.47 L457.91,159.36 L458.29,159.97 L458.71,160.59 L459.20,161.26 L459.94,161.52 L460.76,161.53 L461.62,161.49 L462.48,161.67 L463.30,161.83 L464.27,162.10 L465.25,162.48 L466.17,162.74 L467.00,163.29 L467.47,163.76 L467.87,164.68 L468.22,165.76 L468.55,166.52 L468.88,167.28 L469.21,168.27 L469.58,169.02 L470.00,169.62 L470.76,170.18 L471.57,170.28 L472.40,170.16 L473.09,169.90 L473.78,169.36 L474.50,168.59 L475.27,167.84 L476.10,167.16 L476.77,166.88 L477.50,166.57 L478.28,166.07 L479.07,165.90 L479.87,165.63 L480.65,165.24 L481.40,164.99 L482.10,164.78 L482.82,164.13 L483.50,163.39 L484.14,162.84 L484.77,162.32 L485.40,161.70 L486.04,161.15 L486.70,160.25 L487.42,159.62 L488.15,159.09 L488.88,158.48 L489.63,157.98 L490.40,157.74 L491.20,157.73 L491.93,157.76 L492.72,157.62 L493.55,157.86 L494.38,158.45 L495.20,158.77 L495.98,159.08 L496.68,159.61 L497.30,160.31 L497.76,160.81 L498.17,161.29 L498.52,161.88 L498.83,162.63 L499.10,163.67 L499.36,164.39 L499.59,165.16 L499.82,166.06 L500.06,167.12 L500.30,168.13 L500.52,168.57 L500.73,169.19 L500.92,170.10 L501.11,170.95 L501.29,171.93 L501.46,173.10 L501.63,173.88 L501.79,174.72 L501.95,175.57 L502.11,176.53 L502.27,177.21 L502.43,177.93 L502.60,178.49 L502.85,179.55 L503.09,180.67 L503.33,181.90 L503.57,183.04 L503.82,183.56 L504.10,183.81 L504.32,183.81 L504.56,183.27 L504.79,182.75 L505.04,181.72 L505.29,180.64 L505.55,179.96 L505.83,179.12 L506.11,177.96 L506.40,176.86 L506.70,176.05 L507.01,175.32 L507.33,174.49 L507.66,173.69 L508.00,172.88 L508.35,172.31 L508.72,171.37 L509.10,170.81 L509.50,170.25 L510.21,169.45 L510.97,168.74 L511.74,168.10 L512.50,167.73 L513.09,168.06 L513.66,168.54 L514.23,169.27 L514.83,170.02 L515.50,170.41 L516.39,170.79 L517.37,170.54 L518.36,170.04 L519.30,170.29 L519.97,170.80 L520.64,171.32 L521.29,171.85 L521.92,172.36 L522.53,172.80 L523.10,173.14 L523.66,173.13 L524.18,172.51 L524.66,171.47 L525.14,170.38 L525.61,169.67 L526.10,168.91 L526.47,168.08 L526.83,167.27 L527.18,166.26 L527.54,165.29 L527.89,164.81 L528.26,163.81 L528.63,163.07 L529.03,162.27 L529.45,161.67 L529.90,161.02 L530.58,160.18 L531.30,159.87 L532.05,159.71 L532.84,159.24 L533.70,158.97 L534.51,158.71 L535.41,158.43 L536.36,158.09 L537.32,157.95 L538.25,157.88 L539.09,157.80 L539.80,158.03 L540.22,158.61 L540.59,158.95 L540.89,159.59 L541.15,160.34 L541.38,161.42 L541.57,162.44 L541.74,163.46 L541.90,164.34 L542.06,165.23 L542.22,166.25 L542.39,167.20 L542.58,167.89 L542.80,168.44 L543.12,169.53 L543.46,170.51 L543.79,171.58 L544.12,172.45 L544.45,173.29 L544.78,173.88 L545.10,173.87 L545.31,173.87 L545.50,173.48 L545.69,172.94 L545.86,171.97 L546.04,170.89 L546.21,169.82 L546.38,168.77 L546.55,167.53 L546.74,166.36 L546.93,165.28 L547.13,164.12 L547.34,163.48 L547.57,162.71 L547.83,162.27 L548.10,162.05 L548.84,161.96 L549.64,162.45 L550.40,163.26 L550.66,163.64 L550.92,164.30 L551.15,165.37 L551.38,166.10 L551.60,166.98 L551.81,168.10 L552.02,169.12 L552.21,170.06 L552.41,171.38 L552.60,172.58 L552.79,173.59 L552.98,174.54 L553.17,175.58 L553.37,176.33 L553.57,176.94 L553.77,177.29 L553.98,177.56 L554.20,177.82 L554.50,177.89 L554.80,177.52 L555.11,176.91 L555.42,176.01 L555.73,175.14 L556.04,174.26 L556.35,173.25 L556.67,171.97 L556.98,171.08 L557.30,170.46 L557.57,169.69 L557.83,168.75 L558.08,167.55 L558.32,166.57 L558.57,165.58 L558.82,164.83 L559.08,164.06 L559.35,163.30 L559.63,162.24 L559.93,161.49 L560.26,161.23 L560.61,160.86 L561.00,160.24 L561.71,160.00 L562.51,160.44 L563.33,160.65 L564.11,161.02 L564.80,161.45 L565.28,162.21 L565.70,163.10 L566.08,163.65 L566.42,164.22 L566.73,165.14 L567.02,166.28 L567.31,167.44 L567.60,168.32 L567.80,168.86 L567.98,169.46 L568.16,170.23 L568.32,171.06 L568.48,172.08 L568.63,172.89 L568.77,173.76 L568.91,174.45 L569.05,175.09 L569.18,175.95 L569.32,176.82 L569.46,177.99 L569.60,178.83 L569.75,179.44 L569.90,180.07 L570.07,180.95 L570.24,182.09 L570.40,183.13 L570.55,183.98 L570.71,184.75 L570.87,185.79 L571.04,186.59 L571.22,187.48 L571.41,188.07 L571.62,188.97 L571.85,189.73 L572.10,190.36 L572.64,191.57 L573.24,192.24 L573.85,192.68 L574.40,192.97 L574.68,192.77 L574.93,192.45 L575.15,191.78 L575.35,190.82 L575.55,189.94 L575.75,188.68 L575.95,187.55 L576.17,186.45 L576.42,185.59 L576.70,185.14 L577.22,183.98 L577.79,183.23 L578.39,182.85 L579.00,182.17 L579.46,181.25 L579.93,180.63 L580.41,179.94 L580.91,179.24 L581.44,178.46 L582.00,178.04 L582.71,177.66 L583.49,177.11 L584.29,176.64 L585.08,176.14 L585.80,175.82 L586.28,175.25 L586.72,174.34 L587.14,173.77 L587.53,172.76 L587.92,171.74 L588.32,170.80 L588.72,169.97 L589.14,169.44 L589.60,168.87 L590.32,168.55 L591.08,168.13 L591.85,167.91 L592.60,167.58 L593.38,167.09 L594.15,166.64 L594.92,166.11 L595.70,165.48 L596.34,164.73 L596.99,163.60 L597.65,162.64 L598.30,161.99 L598.92,161.73 L599.50,161.58 L599.99,161.86 L600.45,162.16 L600.88,163.13 L601.29,164.30 L601.70,165.25 L602.10,165.96 L602.50,166.59 L602.96,167.59 L603.40,168.74 L603.84,169.41 L604.30,170.10 L604.80,170.67 L605.22,170.63 L605.65,169.99 L606.10,168.98 L606.58,168.35 L607.06,167.56 L607.56,166.64 L608.08,165.74 L608.60,165.23 L609.34,164.63 L610.14,163.67 L610.94,163.22 L611.71,163.17 L612.40,162.98 L612.83,163.14 L613.22,163.54 L613.58,164.03 L613.91,165.12 L614.22,166.15 L614.52,166.80 L614.81,167.95 L615.10,168.98 L615.40,169.84 L615.63,170.42 L615.85,171.07 L616.06,171.80 L616.27,172.66 L616.48,173.72 L616.68,174.44 L616.87,175.11 L617.07,176.05 L617.26,176.98 L617.45,178.08 L617.64,179.08 L617.83,179.80 L618.02,180.25 L618.21,180.66 L618.40,181.56 L618.79,182.87 L619.18,184.05 L619.57,184.91 L620.00,184.89 L620.41,184.69 L620.85,183.95 L621.30,182.84 L621.76,181.96 L622.20,181.09 L622.45,180.34 L622.68,179.66 L622.89,178.79 L623.10,177.59 L623.30,176.48 L623.50,175.86 L623.72,175.06 L623.96,174.15 L624.24,173.15 L624.54,172.32 L624.90,171.71 L625.30,171.39 L626.09,170.71 L627.01,170.23 L627.98,170.11 L628.93,170.04 L629.80,169.83 L630.28,169.31 L630.73,168.60 L631.16,167.64 L631.56,166.95 L631.95,166.23 L632.34,165.13 L632.72,164.28 L633.12,163.60 L633.52,162.72 L633.95,162.41 L634.40,162.30 L635.10,161.97 L635.82,162.33 L636.56,163.00 L637.32,163.58 L638.10,163.90 L638.99,163.63 L639.92,163.32 L640.87,163.25 L641.80,163.09 L642.70,162.92 L643.40,163.35 L644.09,163.80 L644.76,164.52 L645.42,165.50 L646.07,166.08 L646.69,166.51 L647.30,166.78 L647.86,166.37 L648.36,166.02 L648.84,165.48 L649.31,164.38 L649.81,163.55 L650.37,162.91 L651.00,162.11 L651.65,161.49 L652.35,161.37 L653.10,161.23 L653.87,160.82 L654.67,160.71 L655.48,160.39 L656.30,160.15 L657.10,159.94 L657.95,160.04 L658.84,160.03 L659.75,160.10 L660.66,159.98 L661.56,160.06 L662.43,160.25 L663.25,160.53 L664.00,160.81 L664.78,161.03 L665.48,161.82 L666.13,162.61 L666.76,163.25 L667.40,163.93 L668.10,164.48 L668.68,164.85 L669.27,165.62 L669.88,166.07 L670.49,166.69 L671.11,167.48 L671.75,168.17 L672.39,168.75 L673.04,168.79 L673.70,169.13 L674.46,169.12 L675.26,168.91 L676.07,168.52 L676.88,168.27 L677.68,168.27 L678.46,167.95 L679.20,167.82 L680.11,167.96 L680.99,168.69 L681.84,169.38 L682.64,169.74 L683.40,169.76 L683.94,169.45 L684.42,169.03 L684.85,168.26 L685.28,167.08 L685.73,166.03 L686.23,165.33 L686.80,164.75 L687.52,164.45 L688.31,164.37 L689.14,164.39 L690.00,164.30 L690.86,163.90 L691.70,163.43 L692.50,163.24 L693.33,162.62 L694.17,161.93 L695.00,161.51 L695.80,161.08 L696.54,160.79 L697.20,160.68 L697.89,161.03 L698.50,161.66 L699.04,162.53 L699.54,163.50 L700.00,164.45 L700.27,164.87 L700.52,165.90 L700.73,167.03 L700.92,168.03 L701.09,169.14 L701.25,170.37 L701.41,171.31 L701.57,172.04 L701.73,172.76 L701.91,173.18 L702.10,173.27 L702.35,173.11 L702.63,172.62 L702.92,171.52 L703.21,170.30 L703.49,169.21 L703.74,168.43 L703.94,167.65 L704.10,167.17" stroke="#008000" class="cv"/>
<path d="M41.00,104.55 L41.41,104.86 L41.86,105.04 L42.33,105.17 L42.83,104.91 L43.36,104.65 L43.91,104.90 L44.49,105.02 L45.09,104.79 L45.71,104.86 L46.36,104.84 L47.03,104.93 L47.72,104.71 L48.43,104.52 L49.16,104.91 L49.90,104.85 L50.67,104.59 L51.45,104.84 L52.25,104.94 L53.06,104.60 L53.88,104.64 L54.72,104.83 L55.57,104.59 L56.43,104.67 L57.31,104.54 L58.19,104.46 L59.08,104.39 L59.98,104.35 L60.88,104.80 L61.80,104.75 L62.72,104.85 L63.64,104.75 L64.57,104.63 L65.50,104.82 L66.43,104.80 L67.36,104.41 L68.30,104.45 L69.23,104.63 L70.16,104.38 L71.09,104.16 L72.02,104.53 L72.94,104.60 L73.86,104.28 L74.77,104.29 L75.68,104.24 L76.58,104.45 L77.47,104.48 L78.36,104.14 L79.23,104.37 L80.09,104.21 L80.94,104.04 L81.78,103.95 L82.61,104.22 L83.42,104.12 L84.22,104.10 L85.00,103.99 L85.83,104.02 L86.66,104.24 L87.49,104.20 L88.32,104.07 L89.15,104.03 L89.98,103.98 L90.81,104.00 L91.64,103.75 L92.47,103.73 L93.30,103.70 L94.13,103.91 L94.95,104.12 L95.78,103.63 L96.60,103.31 L97.43,103.59 L98.25,103.67 L99.07,103.28 L99.90,103.40 L100.71,103.72 L101.53,103.48 L102.35,103.20 L103.17,103.24 L103.98,103.47 L104.79,103.20 L105.60,102.93 L106.41,102.83 L107.22,102.99 L108.02,103.01 L108.83,102.80 L109.63,102.76 L110.43,102.58 L111.22,102.56 L112.02,102.99 L112.81,102.99 L113.60,102.65 L114.38,102.87 L115.17,102.77 L115.95,102.49 L116.73,102.32 L117.50,102.29 L118.28,102.35 L119.05,102.38 L119.81,102.74 L120.58,102.65 L121.34,102.43 L122.10,102.63 L122.85,102.94 L123.60,102.74 L124.47,102.80 L125.34,102.79 L126.21,102.79 L127.07,102.93 L127.93,103.17 L128.78,103.25 L129.64,103.11 L130.49,103.26 L131.33,103.18 L132.17,103.09 L133.01,103.48 L133.85,103.54 L134.69,103.59 L135.52,103.50 L136.34,103.74 L137.17,103.88 L137.99,103.67 L138.81,104.00 L139.62,104.09 L140.43,103.94 L141.24,103.96 L142.05,103.94 L142.85,104.04 L143.65,104.44 L144.45,104.43 L145.24,104.40 L146.03,104.66 L146.82,104.89 L147.60,104.94 L148.38,105.22 L149.16,105.19 L149.93,105.18 L150.70,105.36 L151.47,105.34 L152.24,105.40 L153.00,105.51 L153.86,105.93 L154.72,105.97 L155.58,106.19 L156.44,106.29 L157.29,106.51 L158.14,106.83 L158.99,106.84 L159.83,107.21 L160.67,107.44 L161.51,107.46 L162.34,107.33 L163.17,107.51 L163.99,107.75 L164.81,107.98 L165.62,108.49 L166.43,108.79 L167.23,108.51 L168.03,108.73 L168.82,109.27 L169.60,109.32 L170.38,109.11 L171.15,109.53 L171.91,109.74 L172.66,110.04 L173.41,110.34 L174.15,110.43 L174.88,110.61 L175.60,110.32 L176.47,110.58 L177.32,110.75 L178.14,110.66 L178.93,110.91 L179.71,111.29 L180.48,111.22 L181.24,111.43 L181.99,111.94 L182.74,112.06 L183.49,112.14 L184.24,112.17 L185.01,112.59 L185.79,112.58 L186.58,112.67 L187.39,112.91 L188.23,112.64 L189.10,113.03 L190.00,113.04 L190.71,113.20 L191.43,113.47 L192.17,113.44 L192.92,113.41 L193.68,113.14 L194.46,112.98 L195.24,112.92 L196.04,113.17 L196.84,112.85 L197.65,112.53 L198.47,112.96 L199.30,113.12 L200.13,112.94 L200.97,112.98 L201.82,112.76 L202.67,112.70 L203.52,112.52 L204.37,112.54 L205.23,112.18 L206.09,112.00 L206.95,112.12 L207.80,112.21 L208.66,112.00 L209.52,111.93 L210.37,112.10 L211.22,111.83 L212.07,111.45 L212.91,111.21 L213.75,111.53 L214.58,111.57 L215.40,111.33 L216.22,111.32 L217.04,111.11 L217.87,110.97 L218.69,110.97 L219.51,110.94 L220.33,111.23 L221.16,111.08 L221.98,110.73 L222.80,111.05 L223.62,111.12 L224.45,110.68 L225.27,110.80 L226.09,111.00 L226.92,110.94 L227.74,110.95 L228.56,110.77 L229.39,110.49 L230.21,110.66 L231.03,110.74 L231.85,110.70 L232.68,110.40 L233.50,110.27 L234.32,110.46 L235.15,110.37 L235.97,110.33 L236.79,110.29 L237.61,110.34 L238.43,110.17 L239.26,110.05 L240.08,110.23 L240.90,110.02 L241.72,109.70 L242.54,109.84 L243.36,109.67 L244.18,109.81 L245.00,109.69 L245.82,109.75 L246.64,109.71 L247.46,109.29 L248.28,109.28 L249.10,109.42 L249.92,109.30 L250.74,109.23 L251.55,109.07 L252.37,109.21 L253.19,108.92 L254.01,108.90 L254.83,108.63 L255.65,108.54 L256.47,108.40 L257.29,108.20 L258.11,108.40 L258.93,108.66 L259.74,108.39 L260.56,108.16 L261.38,108.17 L262.20,108.20 L263.02,108.05 L263.84,107.91 L264.66,108.13 L265.48,108.10 L266.30,107.84 L267.12,107.98 L267.95,108.20 L268.78,107.93 L269.62,107.46 L270.46,107.44 L271.31,107.83 L272.16,107.62 L273.01,107.34 L273.86,107.65 L274.72,107.47 L275.57,107.60 L276.42,107.51 L277.28,107.35 L278.13,107.50 L278.97,107.30 L279.82,107.47 L280.66,107.51 L281.50,107.56 L282.33,107.67 L283.16,107.28 L283.98,107.43 L284.79,107.69 L285.60,107.37 L286.40,107.35 L287.19,107.27 L287.97,107.30 L288.74,107.54 L289.49,107.41 L290.24,107.37 L290.98,107.21 L291.70,107.46 L292.61,107.60 L293.52,107.63 L294.42,107.29 L295.33,107.37 L296.22,107.25 L297.11,107.25 L297.99,107.24 L298.86,107.48 L299.71,107.29 L300.55,107.21 L301.37,107.36 L302.16,107.33 L302.94,107.16 L303.69,107.41 L304.41,107.85 L305.11,107.70 L305.77,107.85 L306.40,107.84 L307.00,107.72 L307.99,108.08 L308.82,108.79 L309.56,109.27 L310.30,109.52 L311.08,109.51 L312.00,109.81 L312.72,109.88 L313.48,109.89 L314.28,110.21 L315.12,110.37 L315.98,110.34 L316.86,110.59 L317.76,110.95 L318.66,111.17 L319.57,111.24 L320.46,110.97 L321.34,110.64 L322.20,110.93 L322.99,110.86 L323.77,110.51 L324.56,110.60 L325.34,110.46 L326.13,110.40 L326.91,110.21 L327.69,110.04 L328.47,109.50 L329.26,109.44 L330.04,109.32 L330.83,109.09 L331.61,108.78 L332.40,108.49 L333.23,108.40 L334.04,108.27 L334.84,108.59 L335.63,108.37 L336.42,108.09 L337.22,108.32 L338.04,108.20 L338.87,108.03 L339.74,108.04 L340.65,108.02 L341.60,107.87 L342.60,108.15 L343.26,108.35 L343.97,108.11 L344.72,108.29 L345.51,108.30 L346.33,107.97 L347.18,108.24 L348.06,108.09 L348.97,108.12 L349.89,108.32 L350.83,107.86 L351.78,108.01 L352.74,108.07 L353.70,107.95 L354.66,108.20 L355.62,108.08 L356.57,107.78 L357.51,107.59 L358.43,107.96 L359.33,108.01 L360.22,107.98 L361.07,108.03 L361.89,108.18 L362.68,108.26 L363.43,108.24 L364.14,108.00 L364.80,108.05 L365.41,107.87 L365.96,107.54 L366.46,107.75 L366.90,107.60" stroke="#f0f" class="cv"/>
<path d="M378.70,92.63 L379.21,92.24 L379.88,92.14 L380.68,92.18 L381.57,92.33 L382.52,92.17 L383.48,92.02 L384.42,92.18 L385.30,92.27 L386.08,92.71 L386.88,93.24 L387.69,93.63 L388.51,93.78 L389.33,94.55 L390.14,95.15 L390.92,95.48 L391.69,95.82 L392.41,95.99 L393.10,96.21 L393.85,95.82 L394.53,95.12 L395.17,94.93 L395.80,94.20 L396.43,93.30 L397.09,92.74 L397.80,92.47 L398.50,91.91 L399.22,91.11 L399.94,90.66 L400.69,90.28 L401.46,89.76 L402.27,89.75 L403.11,89.66 L404.00,89.10 L404.73,88.85 L405.53,89.18 L406.37,89.27 L407.25,89.08 L408.15,89.12 L409.07,89.44 L409.98,89.32 L410.89,89.39 L411.77,89.35 L412.61,89.50 L413.40,89.66 L414.14,89.74 L414.80,89.90 L415.95,90.07 L416.96,90.44 L417.87,90.53 L418.70,90.53 L419.37,91.38 L419.94,92.43 L420.49,93.09 L421.10,93.11 L421.83,92.72 L422.61,92.30 L423.40,91.33 L424.20,90.45 L424.95,90.22 L425.71,89.82 L426.49,89.47 L427.30,89.02 L428.04,89.00 L428.81,88.75 L429.60,88.25 L430.40,87.88 L431.20,87.53 L431.97,87.38 L432.76,87.09 L433.57,86.61 L434.36,86.24 L435.11,85.82 L435.80,85.48 L436.69,85.53 L437.49,85.75 L438.20,86.32 L438.65,87.04 L439.01,88.00 L439.32,88.83 L439.64,89.41 L440.00,90.39 L440.30,91.10 L440.63,91.96 L440.97,92.84 L441.33,93.48 L441.68,94.20 L442.02,94.88 L442.34,95.54 L442.64,96.55 L442.90,97.53 L443.09,98.23 L443.23,99.27 L443.33,100.33 L443.41,101.27 L443.48,101.98 L443.55,103.21 L443.64,104.00 L443.75,104.60 L443.91,105.29 L444.12,105.81 L444.40,106.39 L445.11,106.39 L445.94,105.63 L446.70,105.44 L446.95,105.98 L447.18,106.41 L447.40,106.85 L447.59,107.87 L447.77,108.70 L447.93,109.43 L448.08,110.65 L448.22,112.01 L448.36,112.88 L448.49,114.10 L448.61,115.21 L448.73,116.49 L448.86,117.53 L448.98,118.27 L449.11,119.04 L449.24,119.59 L449.38,120.00 L449.54,120.54 L449.70,120.80 L449.88,120.51 L450.05,120.02 L450.23,119.61 L450.40,119.20 L450.58,118.05 L450.75,117.06 L450.93,116.29 L451.11,114.92 L451.29,113.57 L451.48,112.49 L451.67,111.23 L451.86,109.93 L452.05,108.90 L452.25,108.39 L452.46,107.64 L452.67,107.11 L452.88,106.52 L453.10,106.42 L453.56,106.55 L454.05,107.09 L454.55,108.24 L455.04,109.52 L455.50,110.59 L455.79,111.21 L456.06,111.69 L456.32,112.68 L456.57,113.91 L456.82,114.73 L457.07,115.66 L457.31,116.47 L457.57,117.23 L457.83,117.82 L458.10,117.97 L458.39,117.51 L458.68,116.69 L458.98,115.90 L459.29,115.05 L459.59,113.80 L459.90,112.86 L460.21,112.05 L460.51,111.18 L460.81,110.49 L461.10,110.43 L461.44,110.50 L461.76,110.77 L462.08,111.69 L462.40,112.61 L462.73,113.51 L463.06,114.48 L463.40,115.34 L463.62,115.91 L463.83,116.65 L464.06,117.58 L464.28,118.27 L464.51,118.86 L464.74,119.54 L464.97,120.63 L465.20,121.46 L465.44,122.18 L465.68,122.90 L465.92,123.98 L466.16,124.89 L466.40,125.63 L466.65,126.51 L466.90,127.33 L467.15,128.18 L467.40,129.01 L467.65,129.78 L467.90,130.78 L468.17,131.82 L468.45,132.48 L468.73,133.00 L469.01,133.71 L469.30,134.61 L469.59,135.76 L469.88,136.78 L470.17,137.18 L470.46,137.70 L470.75,138.85 L471.04,139.76 L471.34,140.30 L471.63,141.01 L471.92,141.67 L472.21,142.07 L472.50,142.89 L473.00,143.74 L473.52,144.67 L474.03,145.60 L474.53,146.32 L475.02,146.94 L475.50,147.14 L475.84,147.34 L476.17,147.00 L476.50,146.31 L476.82,145.67 L477.13,144.73 L477.44,143.51 L477.74,142.41 L478.03,141.35 L478.32,140.51 L478.60,139.93 L478.85,139.29 L479.07,138.25 L479.29,136.92 L479.49,136.00 L479.68,135.03 L479.88,133.84 L480.08,132.96 L480.28,131.95 L480.50,131.24 L480.74,130.57 L481.01,130.10 L481.30,129.82 L481.75,129.81 L482.25,130.49 L482.77,131.41 L483.30,131.91 L483.82,132.62 L484.30,133.77 L484.68,134.76 L485.05,135.54 L485.41,136.60 L485.76,137.57 L486.10,138.64 L486.44,139.44 L486.77,139.95 L487.09,140.60 L487.40,140.95 L487.61,140.49 L487.82,139.94 L488.01,139.58 L488.20,138.97 L488.39,138.22 L488.57,137.59 L488.74,137.04 L488.91,136.17 L489.08,134.86 L489.25,133.64 L489.42,132.57 L489.60,131.77 L489.77,130.63 L489.95,129.34 L490.13,128.67 L490.31,127.99 L490.50,126.99 L490.70,126.09 L490.95,125.00 L491.21,124.10 L491.47,123.13 L491.72,122.31 L491.99,121.19 L492.25,120.40 L492.53,119.84 L492.81,119.18 L493.10,118.59 L493.39,117.85 L493.70,117.76 L494.05,118.03 L494.41,118.33 L494.78,119.07 L495.17,120.36 L495.56,121.76 L495.95,122.81 L496.34,123.61 L496.74,124.30 L497.12,125.08 L497.50,125.35 L497.85,124.99 L498.19,124.89 L498.53,124.36 L498.87,123.58 L499.21,122.48 L499.54,121.75 L499.88,120.85 L500.23,119.44 L500.58,118.59 L500.93,117.61 L501.30,116.76 L501.76,116.18 L502.23,115.66 L502.71,114.86 L503.19,113.78 L503.68,113.27 L504.16,112.58 L504.64,111.90 L505.10,111.12 L505.49,110.31 L505.86,109.32 L506.22,108.65 L506.58,107.79 L506.94,107.05 L507.30,106.31 L507.67,105.56 L508.06,104.95 L508.47,103.96 L508.90,103.46 L509.49,102.63 L510.13,101.61 L510.79,100.98 L511.45,100.69 L512.09,100.26 L512.70,100.26 L513.22,100.48 L513.73,101.22 L514.22,102.02 L514.70,102.82 L515.17,103.48 L515.62,104.44 L516.07,105.70 L516.50,106.67 L516.89,107.12 L517.24,108.05 L517.57,108.83 L517.90,109.75 L518.24,110.51 L518.60,111.22 L519.02,112.03 L519.50,112.74 L520.18,113.28 L520.93,113.66 L521.74,114.38 L522.57,114.97 L523.40,115.16 L524.20,115.63 L524.93,116.16 L525.67,116.49 L526.41,116.80 L527.13,117.09 L527.83,117.22 L528.50,117.65 L529.13,118.02 L529.72,118.66 L530.28,119.60 L530.84,120.24 L531.41,120.86 L532.00,121.48 L532.69,121.85 L533.41,122.21 L534.13,122.68 L534.83,123.13 L535.50,123.34 L536.13,123.71 L536.74,124.11 L537.33,124.57 L537.88,125.21 L538.40,125.98 L538.87,126.68 L539.28,127.35 L539.67,127.96 L540.07,128.75 L540.50,129.81 L540.94,130.61 L541.40,131.05 L541.87,131.51 L542.35,132.20 L542.83,133.20 L543.30,134.14 L543.69,134.66 L544.08,135.14 L544.46,136.04 L544.85,136.79 L545.24,137.69 L545.63,138.44 L546.01,139.17 L546.41,139.93 L546.80,140.71 L547.19,141.72 L547.58,142.61 L547.97,143.27 L548.36,144.19 L548.75,145.17 L549.15,145.80 L549.56,146.47 L549.97,147.18 L550.40,147.96 L550.96,148.88 L551.53,149.71 L552.11,150.55 L552.70,151.36 L553.30,152.15 L553.90,152.56 L554.81,152.35 L555.73,151.53 L556.70,150.60 L557.59,149.99 L558.53,149.70 L559.46,149.62 L560.30,149.70 L560.95,150.25 L561.54,151.16 L562.09,152.07 L562.60,152.64 L563.10,152.86 L563.38,152.66 L563.63,152.24 L563.87,151.59 L564.08,150.93 L564.29,150.18 L564.49,149.25 L564.69,147.93 L564.89,147.02 L565.11,145.90 L565.35,144.80 L565.61,144.13 L565.90,143.69 L566.59,143.12 L567.32,142.40 L568.00,142.08 L568.27,142.72 L568.51,143.24 L568.74,143.68 L568.94,144.35 L569.14,145.05 L569.32,145.85 L569.49,146.90 L569.66,147.93 L569.83,149.31 L570.00,150.59 L570.18,151.43 L570.37,152.25 L570.58,153.08 L570.80,153.75 L571.14,154.68 L571.50,155.80 L571.86,156.76 L572.23,157.93 L572.61,158.90 L573.00,159.23 L573.40,159.15 L573.77,159.26 L574.16,158.67 L574.56,158.23 L574.96,157.46 L575.36,156.55 L575.76,155.68 L576.14,154.42 L576.50,153.34 L576.73,153.17 L576.95,152.39 L577.15,151.68 L577.35,150.91 L577.55,150.09 L577.74,149.25 L577.92,148.52 L578.10,147.75 L578.28,146.67 L578.45,145.92 L578.63,145.17 L578.81,144.49 L579.00,143.74 L579.18,142.79 L579.38,141.58 L579.58,141.03 L579.78,140.18 L580.00,139.16 L580.28,138.36 L580.56,137.50 L580.86,136.48 L581.16,135.62 L581.47,134.53 L581.78,133.73 L582.09,132.87 L582.40,132.19 L582.70,131.72 L583.01,130.99 L583.31,130.67 L583.60,130.73 L583.96,130.90 L584.33,131.33 L584.69,131.88 L585.05,132.46 L585.41,133.54 L585.75,134.86 L586.08,135.96 L586.40,136.60 L586.61,137.43 L586.80,138.10 L586.98,138.73 L587.16,139.59 L587.32,140.51 L587.49,141.42 L587.65,142.23 L587.80,143.00 L587.96,143.88 L588.12,144.77 L588.28,145.53 L588.45,146.44 L588.62,147.23 L588.80,147.92 L588.99,148.50 L589.20,149.22 L589.50,150.16 L589.80,151.32 L590.10,152.37 L590.41,153.42 L590.75,154.49 L591.12,155.31 L591.53,155.83 L592.00,156.13 L592.63,155.71 L593.36,155.16 L594.14,154.60 L594.92,153.59 L595.66,153.24 L596.30,152.91 L596.78,152.99 L597.17,153.72 L597.52,154.86 L597.86,155.67 L598.21,156.66 L598.62,157.45 L599.10,158.02 L599.84,158.63 L600.65,159.01 L601.53,159.66 L602.42,160.09 L603.30,160.01 L604.16,160.03 L605.06,159.86 L605.96,159.87 L606.82,159.66 L607.60,159.06 L608.12,158.56 L608.59,157.90 L609.00,157.29 L609.40,156.23 L609.79,155.61 L610.19,155.04 L610.62,154.08 L611.10,153.73 L612.09,153.48 L613.14,153.72 L614.20,154.05 L614.79,154.11 L615.38,154.72 L615.98,155.85 L616.58,156.89 L617.18,157.30 L617.79,157.79 L618.39,158.60 L619.00,158.98 L619.70,158.56 L620.40,158.00 L621.10,157.92 L621.80,157.51 L622.50,156.85 L623.20,155.96 L623.80,155.41 L624.41,154.88 L625.01,153.99 L625.60,153.59 L626.20,153.12 L626.80,152.47 L627.40,151.64 L628.00,151.20 L628.69,150.46 L629.41,149.91 L630.12,149.31 L630.82,148.64 L631.48,148.47 L632.10,148.43 L632.73,148.69 L633.30,149.38 L633.84,150.75 L634.37,151.82 L634.90,151.86 L635.38,151.25 L635.87,150.51 L636.35,149.50 L636.82,148.50 L637.27,147.88 L637.70,147.82 L638.00,147.80 L638.26,148.43 L638.51,149.49 L638.75,150.62 L638.98,151.50 L639.20,152.45 L639.43,154.03 L639.67,155.38 L639.92,156.24 L640.20,156.63 L640.50,156.49 L640.87,156.30 L641.25,156.16 L641.65,155.40 L642.06,154.46 L642.49,153.38 L642.94,152.36 L643.41,151.78 L643.90,151.33 L644.56,150.74 L645.29,150.25 L646.05,149.47 L646.80,148.74 L647.50,148.18 L648.10,147.41 L648.42,147.00 L648.71,146.39 L648.97,145.25 L649.20,144.51 L649.42,143.62 L649.61,142.55 L649.78,141.27 L649.95,140.04 L650.10,139.16 L650.24,138.44 L650.38,137.73 L650.52,137.11 L650.66,136.69 L650.80,136.64 L650.95,136.64 L651.09,136.90 L651.21,137.79 L651.33,138.40 L651.44,139.26 L651.54,140.26 L651.64,141.28 L651.74,142.23 L651.83,143.47 L651.92,144.55 L652.01,145.47 L652.10,146.79 L652.20,147.79 L652.28,148.63 L652.34,149.33 L652.41,150.17 L652.47,151.27 L652.52,152.46 L652.58,153.75 L652.63,154.61 L652.68,155.80 L652.73,157.05 L652.79,157.85 L652.84,158.98 L652.90,159.94 L652.96,160.82 L653.03,161.64 L653.11,162.46 L653.19,163.05 L653.28,163.54 L653.37,164.09 L653.48,164.30 L653.60,164.10 L653.77,164.11 L653.93,163.82 L654.10,162.73 L654.27,161.81 L654.47,160.94 L654.70,159.69 L654.97,158.74 L655.30,158.13 L655.70,157.44 L656.39,156.72 L657.20,156.76 L658.08,156.49 L658.97,156.03 L659.80,155.68 L660.53,155.11 L661.23,154.42 L661.93,154.03 L662.62,153.35 L663.31,152.77 L664.00,152.78 L664.68,152.78 L665.35,153.18 L666.01,153.88 L666.69,154.48 L667.38,155.32 L668.10,156.04 L668.76,156.56 L669.45,157.18 L670.15,157.79 L670.87,158.18 L671.58,158.26 L672.30,158.61 L673.00,158.76 L673.81,158.43 L674.61,157.94 L675.42,157.57 L676.22,157.30 L677.01,156.41 L677.80,155.91 L678.66,155.60 L679.53,154.75 L680.38,154.41 L681.21,153.95 L682.00,153.92 L682.74,154.07 L683.45,154.46 L684.13,155.36 L684.79,156.00 L685.40,156.87 L685.90,157.77 L686.33,158.48 L686.73,159.23 L687.14,160.02 L687.62,160.85 L688.20,161.23 L688.89,161.15 L689.66,161.04 L690.49,160.74 L691.35,160.03 L692.23,159.78 L693.10,159.36 L693.99,159.20 L694.90,159.37 L695.82,159.46 L696.75,159.54 L697.68,159.40 L698.60,159.20 L699.58,159.62 L700.64,159.90 L701.69,159.78 L702.67,159.95 L703.50,159.96 L704.10,159.80" stroke="#f0f" class="cv"/>
<path d="M41.00,40.35 L41.41,39.55 L41.86,39.63 L42.33,39.56 L42.83,39.94 L43.35,39.59 L43.90,39.78 L44.48,40.10 L45.08,40.14 L45.70,40.36 L46.34,39.81 L47.01,39.47 L47.70,39.84 L48.40,39.70 L49.13,39.45 L49.87,39.41 L50.63,39.93 L51.41,40.30 L52.20,40.25 L53.01,39.73 L53.83,40.01 L54.66,40.06 L55.51,39.60 L56.37,39.64 L57.23,39.74 L58.11,39.44 L59.00,39.67 L59.90,39.77 L60.80,39.84 L61.71,40.27 L62.63,40.24 L63.55,39.89 L64.47,40.15 L65.40,40.53 L66.33,40.19 L67.26,40.29 L68.20,39.78 L69.13,39.38 L70.06,39.48 L70.99,40.15 L71.92,40.39 L72.85,40.28 L73.77,39.95 L74.69,39.89 L75.60,40.35 L76.50,39.92 L77.40,39.51 L78.29,39.48 L79.16,39.81 L80.03,40.37 L80.89,40.35 L81.74,40.08 L82.58,40.10 L83.40,39.90 L84.21,40.38 L85.00,40.33 L85.82,39.91 L86.65,39.93 L87.48,40.42 L88.32,40.29 L89.16,40.51 L90.01,40.38 L90.86,40.16 L91.72,39.92 L92.57,40.42 L93.44,40.80 L94.30,40.48 L95.16,40.00 L96.03,40.13 L96.90,40.25 L97.77,40.58 L98.63,40.92 L99.50,40.82 L100.37,40.35 L101.24,39.89 L102.10,40.48 L102.97,41.01 L103.83,40.39 L104.69,40.25 L105.54,40.44 L106.39,40.86 L107.24,40.37 L108.09,39.87 L108.93,40.56 L109.76,40.79 L110.59,40.56 L111.41,40.79 L112.23,40.84 L113.04,40.85 L113.84,40.56 L114.64,40.21 L115.43,40.08 L116.20,40.35 L116.98,40.83 L117.74,40.83 L118.49,40.69 L119.23,40.95 L119.96,41.23 L120.68,41.24 L121.39,40.99 L122.09,41.32 L122.77,41.66 L123.44,41.79 L124.10,41.91 L124.75,41.25 L125.38,41.39 L126.00,41.57 L126.96,41.56 L127.87,41.84 L128.75,41.76 L129.59,41.81 L130.40,42.66 L131.19,42.70 L131.96,43.01 L132.70,43.34 L133.43,43.10 L134.16,43.10 L134.87,43.54 L135.59,44.00 L136.30,43.96 L137.03,43.73 L137.76,43.89 L138.50,44.75 L139.27,45.24 L140.05,44.86 L140.86,45.35 L141.70,45.75 L142.41,45.58 L143.14,46.10 L143.87,45.96 L144.61,45.70 L145.35,46.08 L146.11,46.74 L146.87,47.00 L147.64,47.04 L148.41,47.56 L149.19,47.57 L149.97,47.82 L150.76,47.59 L151.55,48.01 L152.34,48.13 L153.14,48.40 L153.93,49.04 L154.73,49.20 L155.54,49.24 L156.34,49.38 L157.14,49.74 L157.94,49.74 L158.75,49.62 L159.55,50.02 L160.35,50.37 L161.14,50.21 L161.94,50.53 L162.73,50.90 L163.52,50.80 L164.30,51.28 L165.09,51.84 L165.88,51.70 L166.68,52.09 L167.49,52.69 L168.31,52.68 L169.13,52.48 L169.95,52.42 L170.77,52.42 L171.60,52.66 L172.43,53.55 L173.26,53.36 L174.09,53.75 L174.91,54.24 L175.74,54.38 L176.55,54.05 L177.37,54.31 L178.17,54.43 L178.97,54.76 L179.76,55.30 L180.54,55.48 L181.32,55.46 L182.08,55.81 L182.82,55.62 L183.56,55.35 L184.28,56.06 L184.99,55.92 L185.67,55.92 L186.35,56.26 L187.00,56.77 L187.97,56.80 L188.88,56.89 L189.75,57.14 L190.59,57.28 L191.40,57.46 L192.19,57.63 L192.98,57.90 L193.77,57.98 L194.56,58.00 L195.37,58.52 L196.21,58.91 L197.08,58.36 L198.00,58.53 L198.71,58.12 L199.42,57.81 L200.15,58.24 L200.88,58.02 L201.63,57.90 L202.38,58.01 L203.14,57.80 L203.90,57.49 L204.68,57.12 L205.46,56.98 L206.25,56.88 L207.05,56.79 L207.86,56.51 L208.67,56.35 L209.49,56.08 L210.32,55.84 L211.15,55.71 L211.99,55.31 L212.83,55.22 L213.68,55.01 L214.54,54.69 L215.40,54.67 L216.13,54.47 L216.86,54.18 L217.61,53.89 L218.36,53.64 L219.12,53.66 L219.89,53.52 L220.67,53.33 L221.45,53.20 L222.24,53.02 L223.03,52.70 L223.83,52.63 L224.63,52.42 L225.44,52.03 L226.25,52.02 L227.06,52.00 L227.88,51.53 L228.69,51.42 L229.51,51.33 L230.33,50.93 L231.16,50.73 L231.98,50.72 L232.80,50.32 L233.62,50.10 L234.44,49.86 L235.26,49.51 L236.07,49.55 L236.89,49.54 L237.70,49.20 L238.51,48.94 L239.31,48.60 L240.11,48.28 L240.90,48.12 L241.68,48.00 L242.45,47.76 L243.23,47.40 L244.01,47.14 L244.79,46.83 L245.57,46.65 L246.36,46.49 L247.14,46.19 L247.92,45.71 L248.70,45.33 L249.48,45.27 L250.27,44.90 L251.05,44.56 L251.83,44.13 L252.61,43.70 L253.38,43.45 L254.16,43.33 L254.94,42.98 L255.71,42.73 L256.48,42.34 L257.25,42.13 L258.02,42.00 L258.79,41.56 L259.55,41.17 L260.32,40.90 L261.07,40.73 L261.83,40.43 L262.58,40.12 L263.33,40.10 L264.08,40.06 L264.82,39.59 L265.56,39.32 L266.30,39.26 L267.15,39.18 L268.01,38.89 L268.86,38.57 L269.72,38.43 L270.59,38.29 L271.45,38.06 L272.31,37.81 L273.17,37.66 L274.03,37.24 L274.88,37.14 L275.73,36.94 L276.57,36.69 L277.41,36.57 L278.24,36.48 L279.06,36.40 L279.88,36.28 L280.68,36.06 L281.47,35.91 L282.25,35.93 L283.01,36.01 L283.76,35.81 L284.50,35.48 L285.21,35.65 L285.92,35.84 L286.60,35.82 L287.58,35.74 L288.54,35.67 L289.47,35.58 L290.38,35.93 L291.27,36.10 L292.13,36.04 L292.97,36.32 L293.78,36.41 L294.57,36.58 L295.34,36.91 L296.08,37.19 L296.80,37.22 L297.80,37.23 L298.75,37.41 L299.65,37.78 L300.50,37.80 L301.29,37.84 L302.00,38.16 L302.86,38.76 L303.60,39.27 L304.30,39.86 L304.74,40.06 L305.16,40.62 L305.57,41.30 L305.96,42.14 L306.35,43.13 L306.72,43.91 L307.10,44.76 L307.38,45.48 L307.66,46.12 L307.94,46.78 L308.22,47.47 L308.49,48.41 L308.76,49.42 L309.02,50.29 L309.28,51.07 L309.52,51.82 L309.76,52.50 L309.99,53.14 L310.20,53.66 L310.44,54.75 L310.62,55.64 L310.77,56.70 L310.93,57.75 L311.13,58.34 L311.41,59.13 L311.80,59.79 L312.57,60.20 L313.52,60.11 L314.48,60.16 L315.30,60.62 L315.69,61.37 L316.03,61.91 L316.33,62.51 L316.58,63.45 L316.81,64.24 L317.02,65.15 L317.22,66.14 L317.40,67.02 L317.60,68.14 L317.80,69.16 L317.94,69.80 L318.07,70.50 L318.20,71.18 L318.32,71.72 L318.44,72.63 L318.55,73.59 L318.65,74.08 L318.76,74.77 L318.86,75.59 L318.96,76.35 L319.06,77.33 L319.15,78.23 L319.24,78.94 L319.34,79.85 L319.43,80.87 L319.52,81.58 L319.61,82.50 L319.71,83.50 L319.80,84.43 L319.90,85.40 L320.00,86.26 L320.09,86.84 L320.18,87.46 L320.26,88.38 L320.35,89.33 L320.43,90.52 L320.51,91.53 L320.60,92.53 L320.68,93.70 L320.76,94.71 L320.84,95.92 L320.92,97.00 L321.01,97.96 L321.09,98.83 L321.17,99.78 L321.25,100.95 L321.33,101.92 L321.42,102.81 L321.50,103.81 L321.58,104.60 L321.67,105.34 L321.76,105.86 L321.84,106.21 L321.93,106.70 L322.02,107.36 L322.11,107.56 L322.21,107.54 L322.30,107.55 L322.42,107.80 L322.54,107.50 L322.66,106.88 L322.78,106.44 L322.91,105.76 L323.04,105.20 L323.16,104.52 L323.29,103.52 L323.42,102.60 L323.55,101.40 L323.68,100.46 L323.81,99.51 L323.94,98.43 L324.08,97.16 L324.21,96.24 L324.34,95.41 L324.47,94.24 L324.60,93.13 L324.70,92.43 L324.81,91.80 L324.91,90.99 L325.01,90.18 L325.11,89.55 L325.21,88.75 L325.31,87.75 L325.41,87.03 L325.52,86.27 L325.62,85.12 L325.72,84.25 L325.82,83.44 L325.92,82.54 L326.02,81.71 L326.13,81.03 L326.23,80.20 L326.34,79.17 L326.44,78.17 L326.55,77.31 L326.66,76.58 L326.77,75.87 L326.88,75.08 L327.00,74.24 L327.11,73.47 L327.23,72.65 L327.35,72.07 L327.47,71.22 L327.60,70.39 L327.76,69.61 L327.92,68.82 L328.07,67.78 L328.22,66.83 L328.37,65.83 L328.52,64.74 L328.68,64.12 L328.84,63.15 L329.00,62.33 L329.17,61.40 L329.35,60.52 L329.55,59.90 L329.75,59.36 L329.96,58.74 L330.19,57.90 L330.44,57.10 L330.70,56.77 L331.25,56.04 L331.85,55.27 L332.48,54.34 L333.11,53.90 L333.70,53.88 L334.24,54.20 L334.78,54.78 L335.30,55.52 L335.81,56.48 L336.28,57.26 L336.70,58.47 L336.89,59.11 L337.07,59.74 L337.23,60.20 L337.38,60.86 L337.52,61.82 L337.65,62.71 L337.77,63.40 L337.88,64.25 L337.98,64.85 L338.08,65.54 L338.17,66.49 L338.25,67.63 L338.34,68.61 L338.42,69.35 L338.49,70.33 L338.57,71.18 L338.65,71.80 L338.73,72.83 L338.82,73.76 L338.91,74.59 L339.00,75.32 L339.11,76.08 L339.21,77.14 L339.31,77.99 L339.41,78.83 L339.50,79.97 L339.59,81.34 L339.68,82.23 L339.77,83.26 L339.86,84.26 L339.96,84.90 L340.05,85.56 L340.16,86.36 L340.26,86.82 L340.38,87.21 L340.50,87.13 L340.63,87.03 L340.77,86.98 L340.92,86.39 L341.07,85.68 L341.23,85.09 L341.39,84.20 L341.55,83.37 L341.71,82.61 L341.88,81.43 L342.04,80.16 L342.20,79.30 L342.36,78.09 L342.51,77.12 L342.66,76.13 L342.80,75.19 L342.90,74.43 L342.98,73.81 L343.06,73.09 L343.14,72.22 L343.21,71.22 L343.27,70.46 L343.33,69.62 L343.39,68.86 L343.44,67.97 L343.50,66.98 L343.55,66.04 L343.60,65.18 L343.66,64.27 L343.71,63.41 L343.77,62.65 L343.83,61.95 L343.90,61.12 L343.97,60.08 L344.04,59.32 L344.13,58.41 L344.21,57.46 L344.31,56.71 L344.42,55.96 L344.53,55.16 L344.66,54.44 L344.79,53.59 L344.94,52.79 L345.10,52.17 L345.34,51.32 L345.58,50.37 L345.84,49.55 L346.10,48.58 L346.37,47.73 L346.66,47.00 L346.96,46.27 L347.27,45.37 L347.61,44.71 L347.96,44.07 L348.34,43.53 L348.73,42.75 L349.15,42.09 L349.60,41.78 L350.24,41.32 L350.91,40.80 L351.62,40.37 L352.36,39.86 L353.14,39.36 L353.96,39.05 L354.81,38.94 L355.70,38.79 L356.41,38.55 L357.20,38.27 L358.05,38.35 L358.95,38.22 L359.88,37.99 L360.82,38.13 L361.76,38.21 L362.69,38.13 L363.57,38.13 L364.41,38.08 L365.17,38.03 L365.85,37.93 L366.44,37.78 L366.90,37.98" stroke="#06068e" class="cv"/>
<path d="M378.70,44.93 L379.28,45.56 L380.09,45.64 L381.04,45.92 L382.05,46.49 L383.00,46.83 L383.80,46.98 L384.54,47.37 L385.21,48.16 L385.83,49.08 L386.39,49.77 L386.90,50.48 L387.18,50.96 L387.43,51.59 L387.65,52.49 L387.85,53.23 L388.02,54.00 L388.19,54.94 L388.34,55.86 L388.48,56.45 L388.62,57.27 L388.75,58.52 L388.90,59.56 L389.04,60.59 L389.20,61.18 L389.33,61.75 L389.46,62.74 L389.59,63.77 L389.71,64.37 L389.84,65.31 L389.96,66.17 L390.08,66.83 L390.19,67.93 L390.31,68.59 L390.43,69.64 L390.55,70.45 L390.66,71.11 L390.78,71.88 L390.90,72.80 L391.02,73.91 L391.13,74.51 L391.25,75.24 L391.38,76.06 L391.50,76.67 L391.65,77.46 L391.80,78.71 L391.95,79.80 L392.09,80.78 L392.24,81.91 L392.39,82.68 L392.54,83.81 L392.69,84.92 L392.86,85.29 L393.03,85.90 L393.21,86.39 L393.40,86.26 L393.70,85.90 L394.03,85.21 L394.36,84.46 L394.71,83.57 L395.06,82.51 L395.40,81.49 L395.62,80.88 L395.83,80.01 L396.05,79.21 L396.26,78.69 L396.48,78.01 L396.70,77.03 L396.92,76.18 L397.14,75.78 L397.36,75.11 L397.59,74.18 L397.81,73.11 L398.04,72.17 L398.27,71.51 L398.50,70.71 L398.70,69.96 L398.90,68.90 L399.10,68.27 L399.30,67.45 L399.50,66.53 L399.69,65.87 L399.89,65.35 L400.09,64.48 L400.30,63.54 L400.50,62.46 L400.72,62.07 L400.93,61.08 L401.16,60.13 L401.39,59.68 L401.63,59.03 L401.88,58.07 L402.13,57.39 L402.40,56.22 L402.74,55.94 L403.08,55.36 L403.42,54.34 L403.78,53.27 L404.14,52.52 L404.52,52.09 L404.91,51.27 L405.31,50.16 L405.73,49.39 L406.16,49.45 L406.62,48.64 L407.10,47.93 L407.72,47.67 L408.38,46.74 L409.09,46.44 L409.82,45.99 L410.56,45.75 L411.29,44.86 L412.00,44.13 L412.68,43.72 L413.30,43.09 L414.03,42.55 L414.72,42.05 L415.37,41.42 L416.00,41.23 L416.60,40.33 L417.20,38.96 L417.63,38.81 L418.04,38.25 L418.43,36.90 L418.80,36.56 L419.17,36.19 L419.54,35.28 L419.91,34.57 L420.29,33.34 L420.68,32.74 L421.10,31.89 L421.52,31.30 L421.93,30.94 L422.34,29.76 L422.75,28.52 L423.18,27.92 L423.62,27.33 L424.09,26.41 L424.59,25.26 L425.12,24.75 L425.70,24.88 L426.49,24.26 L427.36,24.26 L428.28,25.22 L429.22,25.63 L430.16,25.32 L431.06,25.06 L431.90,25.34 L432.63,25.41 L433.33,24.75 L434.00,24.31 L434.65,24.40 L435.29,23.85 L435.94,23.01 L436.60,22.01 L437.28,21.65 L437.96,21.02 L438.64,21.18 L439.32,20.90 L439.99,20.25 L440.65,19.95 L441.30,18.97 L442.08,18.83 L442.84,18.74 L443.59,17.61 L444.34,17.58 L445.10,17.62 L445.91,17.24 L446.75,16.00 L447.58,15.75 L448.34,15.69 L449.00,14.64 L449.89,13.09 L450.60,13.00 L450.89,13.10 L451.13,13.84 L451.34,15.32 L451.52,16.18 L451.70,17.01 L451.89,18.15 L452.10,18.88 L452.30,19.46 L452.50,20.76 L452.69,22.18 L452.89,23.33 L453.12,23.38 L453.38,23.72 L453.70,24.98 L454.23,25.42 L454.84,26.00 L455.46,26.96 L456.00,27.73 L456.22,27.95 L456.43,28.50 L456.62,29.36 L456.79,29.50 L456.95,30.03 L457.09,31.38 L457.22,32.28 L457.35,33.32 L457.46,34.64 L457.57,35.48 L457.68,36.14 L457.78,37.13 L457.88,38.33 L457.98,38.57 L458.08,38.84 L458.19,40.34 L458.30,41.63 L458.44,42.49 L458.57,43.26 L458.69,44.08 L458.80,45.77 L458.91,47.03 L459.02,48.10 L459.14,48.81 L459.27,49.44 L459.43,49.40 L459.60,49.64 L459.83,49.16 L460.07,48.61 L460.33,47.95 L460.61,47.06 L460.90,46.30 L461.19,45.29 L461.50,44.03 L461.83,43.38 L462.14,42.76 L462.47,41.94 L462.84,41.23 L463.28,40.45 L463.80,39.61 L464.46,39.00 L465.24,38.15 L466.08,37.58 L466.93,37.32 L467.72,37.29 L468.40,37.05 L469.08,37.42 L469.63,38.47 L470.16,39.45 L470.80,40.18 L471.51,40.55 L472.28,40.07 L473.08,39.34 L473.90,39.08 L474.68,39.56 L475.50,39.84 L476.32,40.35 L477.10,40.60 L477.80,41.27 L478.29,41.81 L478.72,42.80 L479.10,44.03 L479.46,44.78 L479.80,45.41 L480.15,46.42 L480.51,47.17 L480.90,47.40 L481.26,47.02 L481.62,46.83 L481.99,46.22 L482.37,45.28 L482.74,44.27 L483.13,43.23 L483.51,42.49 L483.91,41.56 L484.30,40.69 L484.70,40.26 L485.16,39.70 L485.62,38.83 L486.09,37.91 L486.56,37.38 L487.04,36.73 L487.52,36.31 L488.01,35.76 L488.50,35.09 L489.04,34.03 L489.58,33.21 L490.13,32.32 L490.69,31.28 L491.25,30.45 L491.82,30.15 L492.40,30.18 L492.96,30.16 L493.54,30.33 L494.12,31.15 L494.71,32.05 L495.30,32.99 L495.90,34.04 L496.50,34.61 L497.10,35.64 L497.53,36.14 L497.97,36.76 L498.41,37.29 L498.85,38.06 L499.29,38.72 L499.74,39.37 L500.19,40.33 L500.63,41.11 L501.08,41.78 L501.53,42.56 L501.97,43.04 L502.42,43.45 L502.86,44.36 L503.30,45.06 L503.80,45.49 L504.32,46.41 L504.84,47.25 L505.36,47.78 L505.89,48.18 L506.40,48.85 L506.90,49.36 L507.39,49.78 L507.85,50.65 L508.29,51.39 L508.70,52.07 L509.08,52.47 L509.44,53.19 L509.77,54.03 L510.08,54.53 L510.37,55.58 L510.65,56.43 L510.92,57.08 L511.17,57.94 L511.42,58.82 L511.66,59.39 L511.90,60.10 L512.10,60.83 L512.28,61.87 L512.44,62.62 L512.59,63.56 L512.74,64.64 L512.87,65.50 L513.01,66.48 L513.13,67.17 L513.26,67.88 L513.40,68.77 L513.54,69.65 L513.68,70.45 L513.84,71.10 L514.01,72.05 L514.20,73.02 L514.42,73.67 L514.65,74.26 L514.88,75.32 L515.12,76.19 L515.36,76.98 L515.62,78.16 L515.88,79.14 L516.14,79.98 L516.42,80.57 L516.70,81.20 L517.00,81.61 L517.30,82.18 L517.83,83.11 L518.39,83.63 L518.97,84.27 L519.60,84.62 L520.18,84.16 L520.79,83.76 L521.43,82.93 L522.09,82.21 L522.79,81.28 L523.50,80.73 L524.25,80.38 L525.07,79.64 L525.91,78.98 L526.74,78.74 L527.51,78.44 L528.20,78.21 L529.34,77.88 L530.30,77.04 L530.70,76.48 L531.05,76.02 L531.37,75.38 L531.66,74.30 L531.94,73.33 L532.21,72.25 L532.50,71.43 L532.69,70.86 L532.87,69.89 L533.04,68.90 L533.19,68.48 L533.35,67.51 L533.50,66.57 L533.65,65.62 L533.81,64.67 L533.98,63.80 L534.17,63.28 L534.37,62.49 L534.59,61.33 L534.83,60.36 L535.10,59.89 L535.45,59.02 L535.84,58.24 L536.26,57.36 L536.70,56.34 L537.16,55.14 L537.63,54.08 L538.10,53.60 L538.56,53.23 L539.00,52.50 L539.42,51.98 L539.80,51.88 L540.21,51.87 L540.60,52.23 L540.97,52.91 L541.33,53.74 L541.68,54.85 L542.02,55.85 L542.36,57.21 L542.70,58.32 L542.98,59.07 L543.27,59.37 L543.56,60.22 L543.84,61.26 L544.13,62.02 L544.41,62.46 L544.68,63.54 L544.95,64.71 L545.20,65.36 L545.45,66.11 L545.68,66.69 L545.90,67.68 L546.11,68.33 L546.30,69.17 L546.48,70.33 L546.64,70.94 L546.80,71.64 L546.95,72.64 L547.09,73.20 L547.24,73.92 L547.37,75.17 L547.51,76.35 L547.65,76.86 L547.80,77.48 L547.92,78.20 L548.04,79.34 L548.16,80.53 L548.28,80.93 L548.39,81.83 L548.51,82.83 L548.62,83.44 L548.73,84.43 L548.85,85.35 L548.96,85.99 L549.07,86.75 L549.17,87.62 L549.28,88.38 L549.39,89.28 L549.49,90.34 L549.60,90.90 L549.70,91.65 L549.82,92.98 L549.92,93.89 L550.00,94.58 L550.09,95.89 L550.17,97.21 L550.26,97.80 L550.36,98.80 L550.48,99.84 L550.62,100.37 L550.79,100.84 L551.00,100.99 L551.42,100.53 L551.92,99.30 L552.43,98.58 L552.90,98.43 L553.25,98.44 L553.58,99.04 L553.90,100.16 L554.20,101.04 L554.50,102.02 L554.80,102.98 L555.06,104.11 L555.31,104.91 L555.54,105.47 L555.79,106.69 L556.05,107.72 L556.35,108.15 L556.70,108.52 L557.29,109.59 L557.96,110.87 L558.62,111.29 L559.20,111.37 L559.49,111.01 L559.74,110.58 L559.96,110.16 L560.15,109.54 L560.32,108.37 L560.48,107.21 L560.63,106.22 L560.78,104.96 L560.94,104.17 L561.10,103.43 L561.22,102.39 L561.33,101.60 L561.44,101.21 L561.54,100.58 L561.64,99.68 L561.74,98.55 L561.83,97.56 L561.92,96.89 L562.01,96.25 L562.11,95.36 L562.20,94.59 L562.29,93.91 L562.38,92.64 L562.48,91.98 L562.58,91.24 L562.68,90.33 L562.78,89.55 L562.89,88.86 L563.00,88.08 L563.14,87.07 L563.27,86.19 L563.40,85.07 L563.52,83.96 L563.64,82.85 L563.77,82.31 L563.91,81.53 L564.08,80.66 L564.26,79.89 L564.47,79.16 L564.72,78.26 L565.00,77.92 L565.79,77.05 L566.69,76.67 L567.50,76.22 L567.89,75.66 L568.23,75.03 L568.52,74.13 L568.80,73.35 L569.09,72.23 L569.40,71.33 L569.67,70.80 L569.95,69.79 L570.22,68.57 L570.50,67.70 L570.78,66.78 L571.07,65.68 L571.37,64.91 L571.68,64.46 L572.00,64.59 L572.62,64.64 L573.27,65.17 L573.90,66.47 L574.21,66.94 L574.51,67.34 L574.82,68.35 L575.12,69.31 L575.42,70.15 L575.71,70.71 L575.99,71.50 L576.26,72.36 L576.52,73.40 L576.77,74.31 L577.00,75.25 L577.19,75.99 L577.37,76.77 L577.53,77.85 L577.68,79.38 L577.82,80.35 L577.95,81.18 L578.08,82.31 L578.20,83.17 L578.33,84.32 L578.46,84.96 L578.60,85.72 L578.74,86.07 L578.90,85.83 L579.10,85.63 L579.30,85.28 L579.50,84.57 L579.71,84.06 L579.93,83.24 L580.14,82.01 L580.36,80.90 L580.58,80.12 L580.80,79.26 L581.04,78.43 L581.29,77.44 L581.54,76.88 L581.80,76.02 L582.05,75.36 L582.30,74.78 L582.55,73.49 L582.80,72.46 L582.98,71.87 L583.14,70.89 L583.30,70.16 L583.45,69.41 L583.60,68.57 L583.75,67.34 L583.91,66.11 L584.06,65.29 L584.23,64.50 L584.41,63.73 L584.60,63.08 L584.82,62.58 L585.05,61.67 L585.30,60.99 L586.25,60.40 L587.20,60.34 L587.54,60.53 L587.82,61.33 L588.06,61.88 L588.28,62.85 L588.52,63.90 L588.78,64.71 L589.10,65.53 L589.69,66.73 L590.33,67.26 L591.00,67.44 L591.49,67.06 L592.00,66.48 L592.51,65.65 L593.04,65.06 L593.60,64.61 L594.42,63.71 L595.28,63.36 L596.10,63.50 L596.64,63.68 L597.16,64.31 L597.66,64.87 L598.14,65.61 L598.60,66.48 L598.91,67.13 L599.19,68.09 L599.44,68.83 L599.68,69.72 L599.93,70.63 L600.19,71.62 L600.48,72.31 L600.81,72.98 L601.20,73.56 L601.97,73.12 L602.85,72.04 L603.76,71.72 L604.60,71.36 L605.13,71.68 L605.64,72.52 L606.13,73.03 L606.61,73.85 L607.08,74.75 L607.53,75.59 L607.97,76.61 L608.40,77.52 L608.77,78.23 L609.11,79.00 L609.44,79.61 L609.76,80.77 L610.07,81.54 L610.39,82.23 L610.71,83.26 L611.04,83.59 L611.40,84.14 L611.90,84.99 L612.42,85.99 L612.96,86.99 L613.49,87.57 L614.00,87.48 L614.47,86.84 L614.91,86.21 L615.34,85.44 L615.79,84.48 L616.27,83.50 L616.80,82.64 L617.52,83.07 L618.30,83.91 L619.08,84.54 L619.80,84.33 L620.16,83.82 L620.49,83.22 L620.81,82.42 L621.11,81.77 L621.40,80.89 L621.68,79.63 L621.96,78.66 L622.23,77.57 L622.49,76.31 L622.76,75.62 L623.03,75.20 L623.31,74.60 L623.60,74.18 L624.19,74.75 L624.78,75.55 L625.36,76.52 L625.90,77.59 L626.21,78.43 L626.47,79.33 L626.70,80.38 L626.92,81.23 L627.15,82.19 L627.43,82.91 L627.77,83.64 L628.20,84.33 L628.86,84.68 L629.62,85.15 L630.44,85.35 L631.25,85.29 L632.00,85.48 L632.60,86.09 L633.18,86.54 L633.75,87.20 L634.30,88.14 L634.82,88.97 L635.32,89.75 L635.80,90.29 L636.14,90.83 L636.44,91.59 L636.71,92.54 L636.97,94.00 L637.21,95.02 L637.45,96.00 L637.70,96.99 L637.95,97.51 L638.24,98.01 L638.55,98.71 L638.90,99.16 L639.44,99.02 L640.01,98.38 L640.61,97.10 L641.25,96.22 L641.95,95.54 L642.70,94.75 L643.48,94.92 L644.34,95.18 L645.26,95.11 L646.21,95.17 L647.13,95.05 L648.01,95.51 L648.80,95.76 L649.62,95.95 L650.32,96.56 L651.00,97.18 L651.73,97.94 L652.60,98.68 L653.29,98.97 L654.06,98.64 L654.89,98.67 L655.75,98.39 L656.65,98.33 L657.56,98.08 L658.46,98.09 L659.35,97.99 L660.20,97.99 L661.00,97.75 L661.92,97.38 L662.82,97.14 L663.68,97.21 L664.54,97.15 L665.38,96.89 L666.24,96.75 L667.10,96.72 L667.97,96.43 L668.84,96.76 L669.71,96.83 L670.58,96.88 L671.46,97.04 L672.33,97.23 L673.20,97.21 L674.07,97.16 L674.94,97.10 L675.81,97.00 L676.69,96.64 L677.56,96.36 L678.43,96.19 L679.30,96.26 L680.18,96.68 L681.08,96.44 L681.97,96.54 L682.86,96.87 L683.74,97.14 L684.59,97.00 L685.40,97.17 L686.23,97.43 L687.03,97.90 L687.81,98.92 L688.57,99.13 L689.29,99.62 L690.00,99.81 L690.68,99.55 L691.33,98.75 L691.95,98.20 L692.55,97.26 L693.17,96.32 L693.80,95.88 L694.41,95.37 L695.02,94.43 L695.63,93.64 L696.26,93.18 L696.91,92.79 L697.60,92.61 L698.50,92.81 L699.47,93.26 L700.46,93.43 L701.39,93.46 L702.20,93.72 L702.93,93.30 L703.58,92.65 L704.12,91.67 L704.50,91.08" stroke="#06068e" class="cv"/>
<clipPath id="cn"><rect x="403" y="5" width="50" height="50"/></clipPath>
<path d="M378.70,44.93 L379.28,45.56 L380.09,45.64 L381.04,45.92 L382.05,46.49 L383.00,46.83 L383.80,46.98 L384.54,47.37 L385.21,48.16 L385.83,49.08 L386.39,49.77 L386.90,50.48 L387.18,50.96 L387.43,51.59 L387.65,52.49 L387.85,53.23 L388.02,54.00 L388.19,54.94 L388.34,55.86 L388.48,56.45 L388.62,57.27 L388.75,58.52 L388.90,59.56 L389.04,60.59 L389.20,61.18 L389.33,61.75 L389.46,62.74 L389.59,63.77 L389.71,64.37 L389.84,65.31 L389.96,66.17 L390.08,66.83 L390.19,67.93 L390.31,68.59 L390.43,69.64 L390.55,70.45 L390.66,71.11 L390.78,71.88 L390.90,72.80 L391.02,73.91 L391.13,74.51 L391.25,75.24 L391.38,76.06 L391.50,76.67 L391.65,77.46 L391.80,78.71 L391.95,79.80 L392.09,80.78 L392.24,81.91 L392.39,82.68 L392.54,83.81 L392.69,84.92 L392.86,85.29 L393.03,85.90 L393.21,86.39 L393.40,86.26 L393.70,85.90 L394.03,85.21 L394.36,84.46 L394.71,83.57 L395.06,82.51 L395.40,81.49 L395.62,80.88 L395.83,80.01 L396.05,79.21 L396.26,78.69 L396.48,78.01 L396.70,77.03 L396.92,76.18 L397.14,75.78 L397.36,75.11 L397.59,74.18 L397.81,73.11 L398.04,72.17 L398.27,71.51 L398.50,70.71 L398.70,69.96 L398.90,68.90 L399.10,68.27 L399.30,67.45 L399.50,66.53 L399.69,65.87 L399.89,65.35 L400.09,64.48 L400.30,63.54 L400.50,62.46 L400.72,62.07 L400.93,61.08 L401.16,60.13 L401.39,59.68 L401.63,59.03 L401.88,58.07 L402.13,57.39 L402.40,56.22 L402.74,55.94 L403.08,55.36 L403.42,54.34 L403.78,53.27 L404.14,52.52 L404.52,52.09 L404.91,51.27 L405.31,50.16 L405.73,49.39 L406.16,49.45 L406.62,48.64 L407.10,47.93 L407.72,47.67 L408.38,46.74 L409.09,46.44 L409.82,45.99 L410.56,45.75 L411.29,44.86 L412.00,44.13 L412.68,43.72 L413.30,43.09 L414.03,42.55 L414.72,42.05 L415.37,41.42 L416.00,41.23 L416.60,40.33 L417.20,38.96 L417.63,38.81 L418.04,38.25 L418.43,36.90 L418.80,36.56 L419.17,36.19 L419.54,35.28 L419.91,34.57 L420.29,33.34 L420.68,32.74 L421.10,31.89 L421.52,31.30 L421.93,30.94 L422.34,29.76 L422.75,28.52 L423.18,27.92 L423.62,27.33 L424.09,26.41 L424.59,25.26 L425.12,24.75 L425.70,24.88 L426.49,24.26 L427.36,24.26 L428.28,25.22 L429.22,25.63 L430.16,25.32 L431.06,25.06 L431.90,25.34 L432.63,25.41 L433.33,24.75 L434.00,24.31 L434.65,24.40 L435.29,23.85 L435.94,23.01 L436.60,22.01 L437.28,21.65 L437.96,21.02 L438.64,21.18 L439.32,20.90 L439.99,20.25 L440.65,19.95 L441.30,18.97 L442.08,18.83 L442.84,18.74 L443.59,17.61 L444.34,17.58 L445.10,17.62 L445.91,17.24 L446.75,16.00 L447.58,15.75 L448.34,15.69 L449.00,14.64 L449.89,13.09 L450.60,13.00 L450.89,13.10 L451.13,13.84 L451.34,15.32 L451.52,16.18 L451.70,17.01 L451.89,18.15 L452.10,18.88 L452.30,19.46 L452.50,20.76 L452.69,22.18 L452.89,23.33 L453.12,23.38 L453.38,23.72 L453.70,24.98 L454.23,25.42 L454.84,26.00 L455.46,26.96 L456.00,27.73 L456.22,27.95 L456.43,28.50 L456.62,29.36 L456.79,29.50 L456.95,30.03 L457.09,31.38 L457.22,32.28 L457.35,33.32 L457.46,34.64 L457.57,35.48 L457.68,36.14 L457.78,37.13 L457.88,38.33 L457.98,38.57 L458.08,38.84 L458.19,40.34 L458.30,41.63 L458.44,42.49 L458.57,43.26 L458.69,44.08 L458.80,45.77 L458.91,47.03 L459.02,48.10 L459.14,48.81 L459.27,49.44 L459.43,49.40 L459.60,49.64 L459.83,49.16 L460.07,48.61 L460.33,47.95 L460.61,47.06 L460.90,46.30 L461.19,45.29 L461.50,44.03 L461.83,43.38 L462.14,42.76 L462.47,41.94 L462.84,41.23 L463.28,40.45 L463.80,39.61 L464.46,39.00 L465.24,38.15 L466.08,37.58 L466.93,37.32 L467.72,37.29 L468.40,37.05 L469.08,37.42 L469.63,38.47 L470.16,39.45 L470.80,40.18 L471.51,40.55 L472.28,40.07 L473.08,39.34 L473.90,39.08 L474.68,39.56 L475.50,39.84 L476.32,40.35 L477.10,40.60 L477.80,41.27 L478.29,41.81 L478.72,42.80 L479.10,44.03 L479.46,44.78 L479.80,45.41 L480.15,46.42 L480.51,47.17 L480.90,47.40 L481.26,47.02 L481.62,46.83 L481.99,46.22 L482.37,45.28 L482.74,44.27 L483.13,43.23 L483.51,42.49 L483.91,41.56 L484.30,40.69 L484.70,40.26 L485.16,39.70 L485.62,38.83 L486.09,37.91 L486.56,37.38 L487.04,36.73 L487.52,36.31 L488.01,35.76 L488.50,35.09 L489.04,34.03 L489.58,33.21 L490.13,32.32 L490.69,31.28 L491.25,30.45 L491.82,30.15 L492.40,30.18 L492.96,30.16 L493.54,30.33 L494.12,31.15 L494.71,32.05 L495.30,32.99 L495.90,34.04 L496.50,34.61 L497.10,35.64 L497.53,36.14 L497.97,36.76 L498.41,37.29 L498.85,38.06 L499.29,38.72 L499.74,39.37 L500.19,40.33 L500.63,41.11 L501.08,41.78 L501.53,42.56 L501.97,43.04 L502.42,43.45 L502.86,44.36 L503.30,45.06 L503.80,45.49 L504.32,46.41 L504.84,47.25 L505.36,47.78 L505.89,48.18 L506.40,48.85 L506.90,49.36 L507.39,49.78 L507.85,50.65 L508.29,51.39 L508.70,52.07 L509.08,52.47 L509.44,53.19 L509.77,54.03 L510.08,54.53 L510.37,55.58 L510.65,56.43 L510.92,57.08 L511.17,57.94 L511.42,58.82 L511.66,59.39 L511.90,60.10 L512.10,60.83 L512.28,61.87 L512.44,62.62 L512.59,63.56 L512.74,64.64 L512.87,65.50 L513.01,66.48 L513.13,67.17 L513.26,67.88 L513.40,68.77 L513.54,69.65 L513.68,70.45 L513.84,71.10 L514.01,72.05 L514.20,73.02 L514.42,73.67 L514.65,74.26 L514.88,75.32 L515.12,76.19 L515.36,76.98 L515.62,78.16 L515.88,79.14 L516.14,79.98 L516.42,80.57 L516.70,81.20 L517.00,81.61 L517.30,82.18 L517.83,83.11 L518.39,83.63 L518.97,84.27 L519.60,84.62 L520.18,84.16 L520.79,83.76 L521.43,82.93 L522.09,82.21 L522.79,81.28 L523.50,80.73 L524.25,80.38 L525.07,79.64 L525.91,78.98 L526.74,78.74 L527.51,78.44 L528.20,78.21 L529.34,77.88 L530.30,77.04 L530.70,76.48 L531.05,76.02 L531.37,75.38 L531.66,74.30 L531.94,73.33 L532.21,72.25 L532.50,71.43 L532.69,70.86 L532.87,69.89 L533.04,68.90 L533.19,68.48 L533.35,67.51 L533.50,66.57 L533.65,65.62 L533.81,64.67 L533.98,63.80 L534.17,63.28 L534.37,62.49 L534.59,61.33 L534.83,60.36 L535.10,59.89 L535.45,59.02 L535.84,58.24 L536.26,57.36 L536.70,56.34 L537.16,55.14 L537.63,54.08 L538.10,53.60 L538.56,53.23 L539.00,52.50 L539.42,51.98 L539.80,51.88 L540.21,51.87 L540.60,52.23 L540.97,52.91 L541.33,53.74 L541.68,54.85 L542.02,55.85 L542.36,57.21 L542.70,58.32 L542.98,59.07 L543.27,59.37 L543.56,60.22 L543.84,61.26 L544.13,62.02 L544.41,62.46 L544.68,63.54 L544.95,64.71 L545.20,65.36 L545.45,66.11 L545.68,66.69 L545.90,67.68 L546.11,68.33 L546.30,69.17 L546.48,70.33 L546.64,70.94 L546.80,71.64 L546.95,72.64 L547.09,73.20 L547.24,73.92 L547.37,75.17 L547.51,76.35 L547.65,76.86 L547.80,77.48 L547.92,78.20 L548.04,79.34 L548.16,80.53 L548.28,80.93 L548.39,81.83 L548.51,82.83 L548.62,83.44 L548.73,84.43 L548.85,85.35 L548.96,85.99 L549.07,86.75 L549.17,87.62 L549.28,88.38 L549.39,89.28 L549.49,90.34 L549.60,90.90 L549.70,91.65 L549.82,92.98 L549.92,93.89 L550.00,94.58 L550.09,95.89 L550.17,97.21 L550.26,97.80 L550.36,98.80 L550.48,99.84 L550.62,100.37 L550.79,100.84 L551.00,100.99 L551.42,100.53 L551.92,99.30 L552.43,98.58 L552.90,98.43 L553.25,98.44 L553.58,99.04 L553.90,100.16 L554.20,101.04 L554.50,102.02 L554.80,102.98 L555.06,104.11 L555.31,104.91 L555.54,105.47 L555.79,106.69 L556.05,107.72 L556.35,108.15 L556.70,108.52 L557.29,109.59 L557.96,110.87 L558.62,111.29 L559.20,111.37 L559.49,111.01 L559.74,110.58 L559.96,110.16 L560.15,109.54 L560.32,108.37 L560.48,107.21 L560.63,106.22 L560.78,104.96 L560.94,104.17 L561.10,103.43 L561.22,102.39 L561.33,101.60 L561.44,101.21 L561.54,100.58 L561.64,99.68 L561.74,98.55 L561.83,97.56 L561.92,96.89 L562.01,96.25 L562.11,95.36 L562.20,94.59 L562.29,93.91 L562.38,92.64 L562.48,91.98 L562.58,91.24 L562.68,90.33 L562.78,89.55 L562.89,88.86 L563.00,88.08 L563.14,87.07 L563.27,86.19 L563.40,85.07 L563.52,83.96 L563.64,82.85 L563.77,82.31 L563.91,81.53 L564.08,80.66 L564.26,79.89 L564.47,79.16 L564.72,78.26 L565.00,77.92 L565.79,77.05 L566.69,76.67 L567.50,76.22 L567.89,75.66 L568.23,75.03 L568.52,74.13 L568.80,73.35 L569.09,72.23 L569.40,71.33 L569.67,70.80 L569.95,69.79 L570.22,68.57 L570.50,67.70 L570.78,66.78 L571.07,65.68 L571.37,64.91 L571.68,64.46 L572.00,64.59 L572.62,64.64 L573.27,65.17 L573.90,66.47 L574.21,66.94 L574.51,67.34 L574.82,68.35 L575.12,69.31 L575.42,70.15 L575.71,70.71 L575.99,71.50 L576.26,72.36 L576.52,73.40 L576.77,74.31 L577.00,75.25 L577.19,75.99 L577.37,76.77 L577.53,77.85 L577.68,79.38 L577.82,80.35 L577.95,81.18 L578.08,82.31 L578.20,83.17 L578.33,84.32 L578.46,84.96 L578.60,85.72 L578.74,86.07 L578.90,85.83 L579.10,85.63 L579.30,85.28 L579.50,84.57 L579.71,84.06 L579.93,83.24 L580.14,82.01 L580.36,80.90 L580.58,80.12 L580.80,79.26 L581.04,78.43 L581.29,77.44 L581.54,76.88 L581.80,76.02 L582.05,75.36 L582.30,74.78 L582.55,73.49 L582.80,72.46 L582.98,71.87 L583.14,70.89 L583.30,70.16 L583.45,69.41 L583.60,68.57 L583.75,67.34 L583.91,66.11 L584.06,65.29 L584.23,64.50 L584.41,63.73 L584.60,63.08 L584.82,62.58 L585.05,61.67 L585.30,60.99 L586.25,60.40 L587.20,60.34 L587.54,60.53 L587.82,61.33 L588.06,61.88 L588.28,62.85 L588.52,63.90 L588.78,64.71 L589.10,65.53 L589.69,66.73 L590.33,67.26 L591.00,67.44 L591.49,67.06 L592.00,66.48 L592.51,65.65 L593.04,65.06 L593.60,64.61 L594.42,63.71 L595.28,63.36 L596.10,63.50 L596.64,63.68 L597.16,64.31 L597.66,64.87 L598.14,65.61 L598.60,66.48 L598.91,67.13 L599.19,68.09 L599.44,68.83 L599.68,69.72 L599.93,70.63 L600.19,71.62 L600.48,72.31 L600.81,72.98 L601.20,73.56 L601.97,73.12 L602.85,72.04 L603.76,71.72 L604.60,71.36 L605.13,71.68 L605.64,72.52 L606.13,73.03 L606.61,73.85 L607.08,74.75 L607.53,75.59 L607.97,76.61 L608.40,77.52 L608.77,78.23 L609.11,79.00 L609.44,79.61 L609.76,80.77 L610.07,81.54 L610.39,82.23 L610.71,83.26 L611.04,83.59 L611.40,84.14 L611.90,84.99 L612.42,85.99 L612.96,86.99 L613.49,87.57 L614.00,87.48 L614.47,86.84 L614.91,86.21 L615.34,85.44 L615.79,84.48 L616.27,83.50 L616.80,82.64 L617.52,83.07 L618.30,83.91 L619.08,84.54 L619.80,84.33 L620.16,83.82 L620.49,83.22 L620.81,82.42 L621.11,81.77 L621.40,80.89 L621.68,79.63 L621.96,78.66 L622.23,77.57 L622.49,76.31 L622.76,75.62 L623.03,75.20 L623.31,74.60 L623.60,74.18 L624.19,74.75 L624.78,75.55 L625.36,76.52 L625.90,77.59 L626.21,78.43 L626.47,79.33 L626.70,80.38 L626.92,81.23 L627.15,82.19 L627.43,82.91 L627.77,83.64 L628.20,84.33 L628.86,84.68 L629.62,85.15 L630.44,85.35 L631.25,85.29 L632.00,85.48 L632.60,86.09 L633.18,86.54 L633.75,87.20 L634.30,88.14 L634.82,88.97 L635.32,89.75 L635.80,90.29 L636.14,90.83 L636.44,91.59 L636.71,92.54 L636.97,94.00 L637.21,95.02 L637.45,96.00 L637.70,96.99 L637.95,97.51 L638.24,98.01 L638.55,98.71 L638.90,99.16 L639.44,99.02 L640.01,98.38 L640.61,97.10 L641.25,96.22 L641.95,95.54 L642.70,94.75 L643.48,94.92 L644.34,95.18 L645.26,95.11 L646.21,95.17 L647.13,95.05 L648.01,95.51 L648.80,95.76 L649.62,95.95 L650.32,96.56 L651.00,97.18 L651.73,97.94 L652.60,98.68 L653.29,98.97 L654.06,98.64 L654.89,98.67 L655.75,98.39 L656.65,98.33 L657.56,98.08 L658.46,98.09 L659.35,97.99 L660.20,97.99 L661.00,97.75 L661.92,97.38 L662.82,97.14 L663.68,97.21 L664.54,97.15 L665.38,96.89 L666.24,96.75 L667.10,96.72 L667.97,96.43 L668.84,96.76 L669.71,96.83 L670.58,96.88 L671.46,97.04 L672.33,97.23 L673.20,97.21 L674.07,97.16 L674.94,97.10 L675.81,97.00 L676.69,96.64 L677.56,96.36 L678.43,96.19 L679.30,96.26 L680.18,96.68 L681.08,96.44 L681.97,96.54 L682.86,96.87 L683.74,97.14 L684.59,97.00 L685.40,97.17 L686.23,97.43 L687.03,97.90 L687.81,98.92 L688.57,99.13 L689.29,99.62 L690.00,99.81 L690.68,99.55 L691.33,98.75 L691.95,98.20 L692.55,97.26 L693.17,96.32 L693.80,95.88 L694.41,95.37 L695.02,94.43 L695.63,93.64 L696.26,93.18 L696.91,92.79 L697.60,92.61 L698.50,92.81 L699.47,93.26 L700.46,93.43 L701.39,93.46 L702.20,93.72 L702.93,93.30 L703.58,92.65 L704.12,91.67 L704.50,91.08" stroke="#06068e" class="cv" style="stroke-width:4" clip-path="url(#cn)"/>
<path d="M366.4,505 H41 V12.5 H366.4 M380.7,12.5 H705 V505 H380.7" class="ax"/>
<path d="M41,505 V515.5 M171.5,505 V515.5 M302.1,505 V515.5 M378.9,505 V515.5 M451.3,505 V515.5 M523.7,505 V515.5 M596.1,505 V515.5 M668.5,505 V515.5" class="tk"/>
<path d="M106.3,505 V510.5 M236.8,505 V510.5 M415.1,505 V510.5 M487.5,505 V510.5 M559.9,505 V510.5 M632.3,505 V510.5 M705,505 V510.5" class="tk"/>
<path d="M361.4,21.7 L373.3,3.2 M372.8,21.7 L384.2,3.2 M361.3,514.4 L373.4,495.2 M372.9,514.4 L384.5,495.2" class="tk"/>
<text transform="translate(41,539.7) scale(1,1.075)" class="tl">4000</text>
<text transform="translate(171.5,539.7) scale(1,1.075)" class="tl">3500</text>
<text transform="translate(302.1,539.7) scale(1,1.075)" class="tl">3000</text>
<text transform="translate(378.9,539.7) scale(1,1.075)" class="tl">1800</text>
<text transform="translate(451.3,539.7) scale(1,1.075)" class="tl">1500</text>
<text transform="translate(523.7,539.7) scale(1,1.075)" class="tl">1200</text>
<text transform="translate(596.1,539.7) scale(1,1.075)" class="tl">900</text>
<text transform="translate(668.5,539.7) scale(1,1.075)" class="tl">600</text>
<text x="47.9" y="32.8" class="cl">Dox loaded ICG Proniosomal gel</text>
<text x="47.5" y="123.2" class="cl">ICG</text>
<text x="48" y="171.2" class="cl">Dox</text>
<text x="46.5" y="202.9" class="cl">Cholesterol</text>
<text x="46.5" y="244.3" class="cl">Egg Lecithin</text>
<text x="46.8" y="309.4" class="cl">Span 60</text>
<text transform="translate(206.2,384.2) rotate(-90)" class="pl" textLength="65.1" lengthAdjust="spacingAndGlyphs">3375.81</text>
<text transform="translate(327.1,501.6) rotate(-90)" class="pl" textLength="66.8" lengthAdjust="spacingAndGlyphs">2916.12</text>
<text transform="translate(347.9,481.6) rotate(-90)" class="pl" textLength="67.5" lengthAdjust="spacingAndGlyphs">2847.02</text>
<text transform="translate(399.6,444.4) rotate(-90)" class="pl" textLength="66.2" lengthAdjust="spacingAndGlyphs">1742.03</text>
<text transform="translate(434.6,391.4) rotate(-90)" class="pl" textLength="66.5" lengthAdjust="spacingAndGlyphs">1582.03</text>
<text transform="translate(463.5,420.1) rotate(-90)" class="pl" textLength="66.1" lengthAdjust="spacingAndGlyphs">1466.37</text>
<text transform="translate(477.8,465.4) rotate(-90)" class="pl" textLength="65.9" lengthAdjust="spacingAndGlyphs">1409.45</text>
<text transform="translate(486.1,395.4) rotate(-90)" class="pl" textLength="66.7" lengthAdjust="spacingAndGlyphs">1374.25</text>
<text transform="translate(503.5,417.9) rotate(-90)" class="pl" textLength="66.5" lengthAdjust="spacingAndGlyphs">1289.23</text>
<text transform="translate(517.7,411.4) rotate(-90)" class="pl" textLength="65.3" lengthAdjust="spacingAndGlyphs">1240.02</text>
<text transform="translate(536.2,447.2) rotate(-90)" class="pl" textLength="65.7" lengthAdjust="spacingAndGlyphs">1173.39</text>
<text transform="translate(551.1,429.6) rotate(-90)" class="pl" textLength="66.0" lengthAdjust="spacingAndGlyphs">1120.36</text>
<text transform="translate(566.4,423.1) rotate(-90)" class="pl" textLength="65.8" lengthAdjust="spacingAndGlyphs">1063.60</text>
<text transform="translate(583.8,400.5) rotate(-90)" class="pl" textLength="56.3" lengthAdjust="spacingAndGlyphs">965.94</text>
<text transform="translate(593.5,458.0) rotate(-90)" class="pl" textLength="55.8" lengthAdjust="spacingAndGlyphs">922.12</text>
<text transform="translate(600.1,383.7) rotate(-90)" class="pl" textLength="56.9" lengthAdjust="spacingAndGlyphs">873.74</text>
<text transform="translate(614.2,380.3) rotate(-90)" class="pl" textLength="55.0" lengthAdjust="spacingAndGlyphs">816.72</text>
<text transform="translate(628.9,378.7) rotate(-90)" class="pl" textLength="56.1" lengthAdjust="spacingAndGlyphs">800.56</text>
<text transform="translate(644.8,421.1) rotate(-90)" class="pl" textLength="56.7" lengthAdjust="spacingAndGlyphs">718.45</text>
<text transform="translate(676.7,389.7) rotate(-90)" class="pl" textLength="56.3" lengthAdjust="spacingAndGlyphs">598.14</text>
<text transform="translate(697.5,387.0) rotate(-90)" class="pl" textLength="56.4" lengthAdjust="spacingAndGlyphs">511.45</text>
<text transform="translate(19.3,342.3) rotate(-90)" class="at" style="font-size:25.5px" textLength="200.8" lengthAdjust="spacingAndGlyphs">Transmittence (%)</text>
<text x="270" y="585.5" class="at" style="font-size:24.3px">Wavenumber (cm</text><text x="456.3" y="572" class="at" style="font-size:14.5px">-1</text><text x="467.5" y="585.5" class="at" style="font-size:24.3px">)</text>
</svg>
</body></html>
